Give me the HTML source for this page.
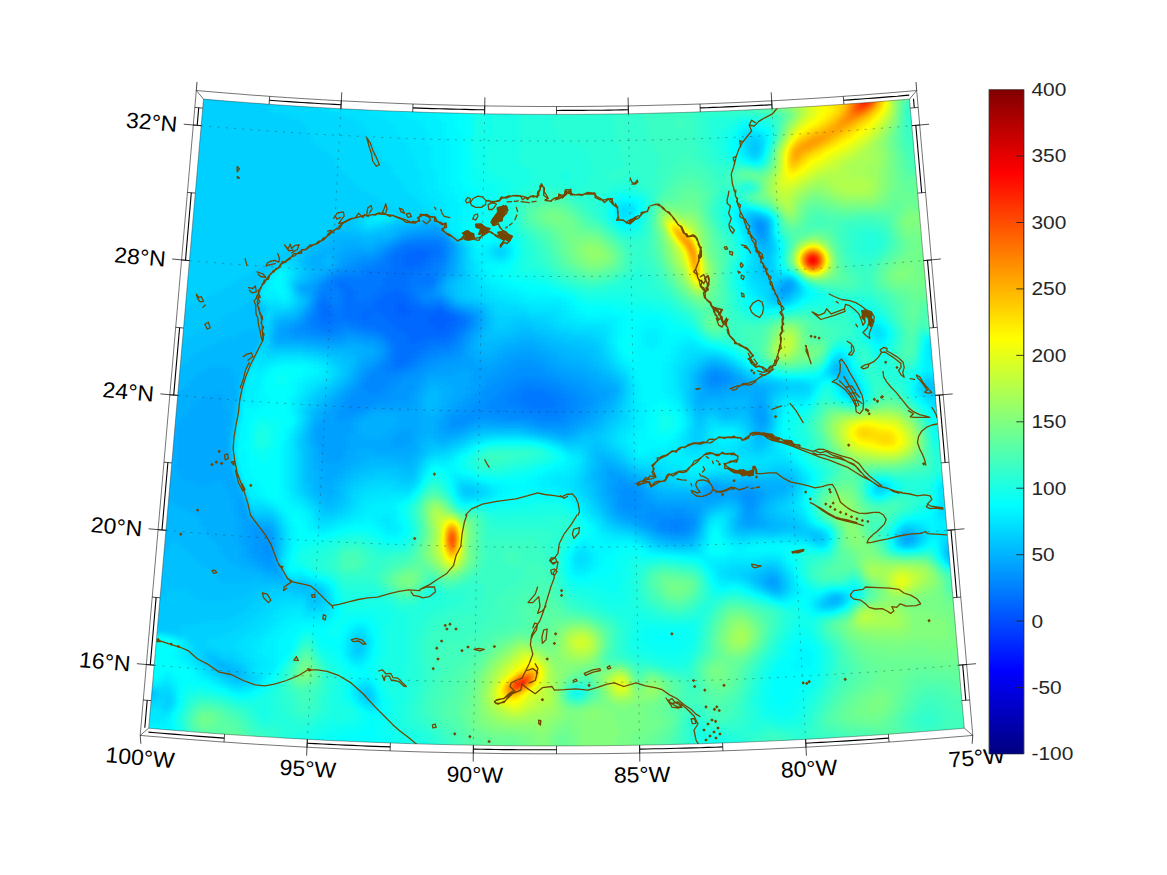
<!DOCTYPE html>
<html><head><meta charset="utf-8"><title>map</title>
<style>html,body{margin:0;padding:0;background:#fff}body{width:1167px;height:875px;overflow:hidden;font-family:"Liberation Sans",sans-serif}svg{display:block}</style>
</head><body>
<svg width="1167" height="875" viewBox="0 0 1167 875">
<defs>
<filter id="jet" filterUnits="userSpaceOnUse" x="100" y="50" width="920" height="750" color-interpolation-filters="sRGB">
<feGaussianBlur stdDeviation="2.4"/>
<feComponentTransfer><feFuncR type="table" tableValues="0 0 0 0 .5 1 1 1 .5"/><feFuncG type="table" tableValues="0 0 .5 1 1 1 .5 0 0"/><feFuncB type="table" tableValues=".5 1 1 1 .5 0 0 0 0"/></feComponentTransfer>
</filter>
<clipPath id="mc"><path d="M203.5 99.1 L215.4 100.1 L227.3 101.1 L239.3 102 L251.2 102.9 L263.2 103.8 L275.1 104.7 L287.1 105.5 L299 106.3 L311 107 L323 107.7 L334.9 108.4 L346.9 109 L358.9 109.6 L370.8 110.2 L382.8 110.7 L394.8 111.2 L406.8 111.6 L418.7 112.1 L430.7 112.5 L442.7 112.8 L454.7 113.1 L466.6 113.4 L478.6 113.7 L490.6 113.9 L502.6 114 L514.6 114.2 L526.5 114.3 L538.5 114.4 L550.5 114.4 L562.5 114.4 L574.5 114.4 L586.5 114.3 L598.4 114.2 L610.4 114 L622.4 113.9 L634.4 113.7 L646.4 113.4 L658.3 113.1 L670.3 112.8 L682.3 112.5 L694.3 112.1 L706.2 111.6 L718.2 111.2 L730.2 110.7 L742.2 110.2 L754.1 109.6 L766.1 109 L778.1 108.4 L790 107.7 L802 107 L814 106.3 L825.9 105.5 L837.9 104.7 L849.8 103.8 L861.8 102.9 L873.7 102 L885.7 101.1 L897.6 100.1 L909.5 99.1 L964.3 728.2 L950.5 729.4 L936.7 730.5 L922.9 731.6 L909.1 732.7 L895.3 733.7 L881.5 734.7 L867.7 735.6 L853.9 736.5 L840.1 737.3 L826.2 738.2 L812.4 738.9 L798.6 739.7 L784.8 740.4 L771 741 L757.1 741.6 L743.3 742.2 L729.5 742.7 L715.6 743.2 L701.8 743.7 L688 744.1 L674.1 744.4 L660.3 744.8 L646.5 745 L632.6 745.3 L618.8 745.5 L604.9 745.7 L591.1 745.8 L577.3 745.9 L563.4 745.9 L549.6 745.9 L535.7 745.9 L521.9 745.8 L508.1 745.7 L494.2 745.5 L480.4 745.3 L466.5 745 L452.7 744.8 L438.9 744.4 L425 744.1 L411.2 743.7 L397.4 743.2 L383.5 742.7 L369.7 742.2 L355.9 741.6 L342 741 L328.2 740.4 L314.4 739.7 L300.6 738.9 L286.8 738.2 L272.9 737.3 L259.1 736.5 L245.3 735.6 L231.5 734.7 L217.7 733.7 L203.9 732.7 L190.1 731.6 L176.3 730.5 L162.5 729.4 L148.7 728.2Z"/></clipPath>
<linearGradient id="jetg" x1="0" y1="0" x2="0" y2="1"><stop offset="0%" stop-color="#800000"/><stop offset="12.5%" stop-color="#ff0000"/><stop offset="25%" stop-color="#ff8000"/><stop offset="37.5%" stop-color="#ffff00"/><stop offset="50%" stop-color="#80ff80"/><stop offset="62.5%" stop-color="#00ffff"/><stop offset="75%" stop-color="#0080ff"/><stop offset="87.5%" stop-color="#0000ff"/><stop offset="100%" stop-color="#000080"/></linearGradient>
</defs>
<rect width="1167" height="875" fill="#fff"/>
<g clip-path="url(#mc)">
<g filter="url(#jet)">
<g fill="none" stroke-width="4.6" shape-rendering="crispEdges"><path stroke="#383838" d="M396 304h8M396 308h12M396 312h16M436 312h8M404 316h4M428 316h20M428 320h24M428 324h20M436 328h8"/>
<path stroke="#3a3a3a" d="M408 252h20M404 256h24M404 260h20M404 264h16M408 268h4M392 292h8M384 296h24M380 300h28M376 304h20M404 304h8M372 308h24M408 308h12M436 308h4M324 312h4M364 312h8M380 312h16M412 312h24M444 312h4M360 316h8M384 316h20M408 316h20M448 316h8M388 320h40M452 320h8M392 324h36M448 324h8M396 328h40M444 328h8M404 332h48M408 336h36M408 340h12"/>
<path stroke="#3c3c3c" d="M404 248h32M396 252h12M428 252h12M392 256h12M428 256h8M392 260h12M424 260h8M392 264h12M420 264h8M392 268h16M412 268h12M388 272h28M388 276h24M384 280h24M340 284h8M384 284h24M340 288h12M380 288h28M344 292h12M376 292h16M400 292h8M344 296h12M372 296h12M408 296h4M344 300h12M368 300h12M408 300h8M320 304h8M344 304h32M412 304h8M320 308h12M344 308h28M420 308h16M440 308h4M320 312h4M328 312h4M344 312h20M372 312h8M448 312h4M320 316h16M344 316h16M368 316h16M456 316h4M320 320h12M352 320h36M460 320h4M360 324h32M456 324h8M376 328h20M452 328h8M384 332h20M452 332h4M388 336h20M444 336h8M392 340h16M420 340h28M396 344h32M396 348h28M396 352h20M396 356h16M392 360h16M396 364h8"/>
<path stroke="#3e3e3e" d="M404 244h36M396 248h8M436 248h8M392 252h4M440 252h4M388 256h4M436 256h8M384 260h8M432 260h8M384 264h8M428 264h8M376 268h16M424 268h8M368 272h20M416 272h12M364 276h24M412 276h20M336 280h48M408 280h28M332 284h8M348 284h36M408 284h24M336 288h4M352 288h28M408 288h8M340 292h4M356 292h20M408 292h8M320 296h8M340 296h4M356 296h16M412 296h4M320 300h8M340 300h4M356 300h12M416 300h4M316 304h4M328 304h4M340 304h4M420 304h24M316 308h4M332 308h12M444 308h4M316 312h4M332 312h12M452 312h4M316 316h4M336 316h8M460 316h4M316 320h4M332 320h20M464 320h4M316 324h24M348 324h12M464 324h4M324 328h8M360 328h16M460 328h4M376 332h8M456 332h4M384 336h4M452 336h4M388 340h4M448 340h8M388 344h8M428 344h20M392 348h4M424 348h8M392 352h4M416 352h8M392 356h4M412 356h8M408 360h8M392 364h4M404 364h8M392 368h12M524 392h20M520 396h32M520 400h36M524 404h36M532 408h24"/>
<path stroke="#404040" d="M416 240h24M400 244h4M440 244h4M392 248h4M388 252h4M384 256h4M380 260h4M440 260h4M372 264h12M436 264h8M364 268h12M432 268h8M360 272h8M428 272h12M336 276h28M432 276h4M328 280h8M324 284h8M432 284h4M324 288h12M416 288h16M320 292h20M416 292h8M328 296h4M336 296h4M416 296h4M316 300h4M328 300h12M420 300h4M432 300h4M332 304h8M448 308h4M312 312h4M456 312h4M312 316h4M464 316h4M308 320h8M308 324h8M340 324h8M312 328h12M332 328h12M348 328h12M464 328h4M320 332h16M364 332h12M460 332h4M380 336h4M456 336h4M384 340h4M456 340h4M448 344h8M388 348h4M432 348h20M388 352h4M424 352h12M388 356h4M420 356h8M388 360h4M416 360h4M384 364h8M412 364h4M384 368h8M404 368h8M384 372h16M524 384h12M516 388h36M512 392h12M544 392h16M508 396h12M552 396h12M508 400h12M556 400h12M508 404h16M560 404h8M516 408h16M556 408h12M524 412h40M536 416h24M672 524h12M672 528h8"/>
<path stroke="#424242" d="M760 228h4M404 240h12M440 240h4M396 244h4M444 244h4M388 248h4M444 248h4M384 252h4M444 252h4M380 256h4M444 256h4M372 260h8M444 260h4M360 264h12M356 268h8M440 268h4M340 272h20M440 272h4M332 276h4M436 276h4M436 280h4M320 284h4M320 288h4M432 288h4M316 292h4M424 292h8M316 296h4M332 296h4M420 296h12M424 300h8M436 300h8M444 304h4M312 308h4M460 312h4M308 316h4M468 316h4M468 320h4M304 324h4M468 324h4M304 328h8M344 328h4M468 328h4M308 332h12M336 332h8M352 332h12M464 332h4M328 336h4M368 336h12M460 336h4M380 340h4M384 344h4M456 344h4M452 348h4M436 352h16M384 356h4M428 356h12M384 360h4M420 360h8M380 364h4M416 364h8M376 368h8M412 368h4M372 372h12M400 372h8M368 376h32M712 376h8M368 380h24M516 380h28M712 380h8M364 384h24M508 384h16M536 384h20M364 388h20M504 388h12M552 388h12M368 392h12M500 392h12M560 392h8M496 396h12M564 396h12M492 400h16M568 400h8M488 404h20M568 404h8M488 408h28M568 408h8M492 412h32M564 412h8M508 416h28M560 416h8M532 420h32M676 516h4M660 520h28M656 524h16M684 524h8M660 528h12M680 528h8M672 532h12"/>
<path stroke="#444444" d="M756 224h8M756 228h4M760 232h4M412 236h36M400 240h4M444 240h4M392 244h4M384 248h4M448 248h4M380 252h4M448 252h4M376 256h4M360 260h12M352 264h8M444 264h4M344 268h12M444 268h4M336 272h4M328 276h4M440 276h4M324 280h4M436 284h4M316 288h4M432 292h4M432 296h8M312 304h4M452 308h4M308 312h4M464 312h4M304 316h4M472 316h4M304 320h4M472 320h4M300 324h4M472 324h4M296 328h8M296 332h12M344 332h8M308 336h20M332 336h16M356 336h12M464 336h4M376 340h4M460 340h4M380 344h4M460 344h4M384 348h4M456 348h8M384 352h4M452 352h8M440 356h12M380 360h4M428 360h12M376 364h4M424 364h8M372 368h4M416 368h8M516 368h20M368 372h4M408 372h12M512 372h32M712 372h8M364 376h4M400 376h12M504 376h48M708 376h4M720 376h8M360 380h8M392 380h12M500 380h16M544 380h16M708 380h4M720 380h8M360 384h4M388 384h12M492 384h16M556 384h12M708 384h16M356 388h8M384 388h12M488 388h16M564 388h12M356 392h12M380 392h12M484 392h16M568 392h12M352 396h36M484 396h12M576 396h8M348 400h32M480 400h12M576 400h12M348 404h24M476 404h12M576 404h12M348 408h16M472 408h16M576 408h8M348 412h8M468 412h24M572 412h12M460 416h48M568 416h12M452 420h20M500 420h32M564 420h8M452 424h12M536 424h32M624 488h8M620 492h16M620 496h20M744 496h8M620 500h20M744 500h8M620 504h20M748 504h4M624 508h16M648 512h16M672 512h12M644 516h32M680 516h12M648 520h12M688 520h8M652 524h4M692 524h4M656 528h4M688 528h4M660 532h12M684 532h4M264 536h4M268 544h4M264 548h8M264 552h8M268 556h4"/>
<path stroke="#464646" d="M424 232h16M756 232h4M404 236h8M760 236h4M396 240h4M448 240h4M388 244h4M448 244h4M380 248h4M376 252h4M356 256h20M448 256h4M348 260h12M448 260h4M344 264h8M448 264h4M340 268h4M332 272h4M444 272h4M320 280h4M440 280h4M316 284h4M436 288h4M784 288h4M312 292h4M436 292h4M312 296h4M440 296h4M312 300h4M444 300h4M448 304h4M308 308h4M456 308h4M468 312h4M300 320h4M296 324h4M288 328h8M472 328h4M288 332h8M468 332h4M292 336h16M348 336h8M468 336h4M316 340h28M360 340h16M464 340h4M376 344h4M464 344h4M380 348h4M380 352h4M460 352h4M380 356h4M452 356h12M376 360h4M440 360h20M512 360h24M372 364h4M432 364h16M508 364h36M364 368h8M424 368h12M500 368h16M536 368h12M364 372h4M420 372h8M496 372h16M544 372h12M708 372h4M720 372h8M360 376h4M412 376h12M488 376h16M552 376h12M704 376h4M728 376h4M404 380h16M484 380h16M560 380h12M704 380h4M728 380h4M356 384h4M400 384h16M484 384h8M568 384h16M704 384h4M724 384h8M352 388h4M396 388h20M480 388h8M576 388h12M708 388h16M348 392h8M392 392h20M476 392h8M580 392h12M344 396h8M388 396h24M472 396h12M584 396h12M344 400h4M380 400h28M468 400h12M588 400h8M340 404h8M372 404h20M464 404h12M588 404h8M340 408h8M364 408h8M460 408h12M584 408h8M336 412h12M356 412h8M452 412h16M584 412h4M336 416h20M448 416h12M580 416h8M336 420h12M448 420h4M472 420h28M572 420h8M448 424h4M464 424h8M528 424h8M568 424h8M448 428h16M540 428h28M616 480h8M616 484h20M612 488h12M632 488h8M612 492h8M636 492h8M708 492h12M740 492h16M616 496h4M640 496h4M740 496h4M752 496h8M616 500h4M640 500h8M740 500h4M752 500h4M616 504h4M640 504h16M744 504h4M752 504h4M616 508h8M640 508h48M744 508h12M620 512h28M664 512h8M684 512h12M744 512h8M628 516h16M692 516h4M748 516h4M636 520h12M252 524h4M644 524h8M252 528h8M652 528h4M692 528h4M252 532h16M656 532h4M688 532h4M252 536h12M268 536h4M668 536h20M252 540h20M252 544h16M252 548h12M252 552h12M256 556h12M272 556h4M260 560h16M264 564h12M276 568h4"/>
<path stroke="#484848" d="M756 220h8M752 224h4M764 224h4M432 228h8M764 228h4M408 232h16M440 232h4M764 232h4M400 236h4M756 236h4M764 236h4M392 240h4M760 240h4M384 244h4M452 244h4M376 248h4M452 248h4M352 252h24M452 252h4M344 256h12M452 256h4M340 260h8M340 264h4M336 268h4M448 268h4M328 272h4M448 272h4M324 276h4M444 276h4M316 280h4M312 284h4M440 284h4M784 284h8M300 288h16M780 288h4M788 288h4M308 292h4M440 292h4M780 292h8M308 304h4M452 304h4M460 308h8M304 312h4M472 312h4M300 316h4M476 316h4M296 320h4M476 320h4M288 324h8M476 324h4M280 328h8M476 328h4M280 332h8M472 332h4M280 336h12M292 340h24M344 340h16M468 340h4M324 344h20M364 344h12M468 344h4M376 348h4M464 348h4M376 352h4M464 352h4M516 352h20M376 356h4M464 356h4M504 356h40M368 360h8M460 360h12M500 360h12M536 360h12M364 364h8M448 364h28M496 364h12M544 364h12M360 368h4M436 368h64M548 368h12M708 368h16M360 372h4M428 372h28M472 372h24M556 372h16M704 372h4M728 372h4M356 376h4M424 376h4M472 376h16M564 376h20M700 376h4M732 376h4M356 380h4M420 380h4M472 380h12M572 380h16M700 380h4M732 380h8M352 384h4M416 384h8M472 384h12M584 384h12M700 384h4M732 384h8M348 388h4M416 388h4M468 388h12M588 388h12M704 388h4M724 388h8M344 392h4M412 392h8M468 392h8M592 392h16M708 392h16M340 396h4M412 396h4M464 396h8M596 396h12M336 400h8M408 400h8M460 400h8M596 400h8M336 404h4M392 404h24M456 404h8M596 404h4M760 404h4M332 408h8M372 408h40M452 408h8M592 408h8M756 408h8M328 412h8M364 412h8M448 412h4M588 412h8M756 412h8M324 416h12M356 416h8M444 416h4M588 416h4M756 416h12M324 420h12M348 420h8M444 420h4M580 420h8M756 420h12M320 424h32M440 424h8M472 424h8M492 424h36M576 424h8M760 424h4M316 428h36M440 428h8M464 428h4M532 428h8M568 428h8M316 432h36M400 432h12M444 432h16M552 432h20M316 436h32M396 436h16M316 440h32M392 440h20M316 444h32M392 444h16M320 448h28M320 452h24M324 456h20M324 460h16M608 472h8M608 476h16M608 480h8M624 480h8M608 484h8M636 484h4M608 488h4M640 488h4M708 488h16M740 488h16M608 492h4M644 492h4M704 492h4M720 492h20M756 492h8M240 496h4M608 496h8M644 496h8M704 496h20M732 496h8M760 496h4M240 500h4M612 500h4M648 500h8M704 500h8M756 500h4M240 504h8M612 504h4M656 504h44M740 504h4M756 504h4M240 508h8M612 508h4M688 508h12M240 512h8M616 512h4M696 512h4M752 512h4M240 516h8M620 516h8M696 516h4M744 516h4M752 516h4M244 520h8M628 520h8M696 520h4M744 520h12M244 524h8M636 524h8M696 524h4M744 524h12M244 528h8M260 528h8M644 528h8M244 532h8M268 532h4M652 532h4M692 532h4M244 536h8M660 536h8M688 536h4M244 540h8M904 540h4M244 544h8M248 548h4M248 552h4M272 552h4M248 556h8M252 560h8M256 564h8M264 568h12M276 572h4M768 580h8M768 584h8"/>
<path stroke="#4a4a4a" d="M752 220h4M416 228h16M440 228h4M752 228h4M400 232h8M396 236h4M388 240h4M764 240h4M376 244h8M344 248h20M372 248h4M340 252h12M336 256h8M336 260h4M452 260h4M336 264h4M452 264h4M332 268h4M452 268h4M324 272h4M452 272h4M320 276h4M448 276h4M444 280h4M308 284h4M440 288h4M300 292h8M788 292h4M308 296h4M444 296h4M780 296h4M308 300h4M448 300h4M304 308h4M468 308h4M476 312h4M480 316h4M292 320h4M480 320h4M280 324h8M480 324h4M276 328h4M276 332h4M476 332h4M276 336h4M472 336h4M276 340h16M472 340h4M308 344h16M344 344h20M520 344h12M364 348h12M468 348h4M508 348h32M372 352h4M468 352h8M500 352h16M536 352h12M364 356h12M468 356h8M496 356h8M544 356h12M360 360h8M472 360h12M488 360h12M548 360h12M360 364h4M476 364h20M556 364h12M712 364h4M356 368h4M560 368h20M704 368h4M724 368h4M356 372h4M456 372h16M572 372h16M700 372h4M352 376h4M428 376h44M584 376h12M736 376h4M352 380h4M424 380h48M588 380h12M740 380h4M348 384h4M424 384h4M448 384h24M596 384h12M740 384h8M344 388h4M420 388h4M452 388h16M600 388h16M700 388h4M732 388h24M216 392h4M340 392h4M420 392h4M452 392h16M608 392h8M700 392h8M724 392h12M752 392h12M204 396h20M336 396h4M416 396h4M452 396h12M608 396h4M700 396h24M752 396h12M200 400h24M332 400h4M416 400h4M448 400h12M604 400h8M752 400h12M192 404h32M328 404h8M416 404h4M448 404h8M600 404h8M752 404h8M192 408h32M328 408h4M412 408h8M444 408h8M600 408h4M752 408h4M764 408h4M188 412h40M324 412h4M372 412h48M440 412h8M596 412h4M752 412h4M764 412h4M184 416h44M320 416h4M364 416h8M396 416h24M440 416h4M592 416h8M752 416h4M180 420h48M316 420h8M356 420h8M400 420h20M436 420h8M588 420h8M180 424h48M316 424h4M352 424h8M396 424h24M436 424h4M480 424h12M584 424h8M756 424h4M764 424h4M176 428h52M312 428h4M352 428h8M392 428h28M436 428h4M468 428h8M524 428h8M576 428h8M756 428h8M176 432h52M312 432h4M352 432h8M388 432h12M412 432h8M436 432h8M460 432h8M540 432h12M572 432h4M176 436h52M312 436h4M348 436h16M384 436h12M412 436h4M440 436h16M560 436h8M176 440h52M312 440h4M348 440h44M412 440h4M176 444h52M312 444h4M348 444h44M408 444h8M176 448h52M316 448h4M348 448h68M176 452h52M316 452h4M344 452h12M376 452h36M176 456h52M316 456h8M344 456h12M404 456h4M176 460h52M316 460h8M340 460h12M176 464h52M320 464h28M176 468h56M320 468h24M604 468h12M180 472h52M324 472h16M604 472h4M616 472h8M180 476h56M324 476h12M604 476h4M624 476h8M184 480h52M324 480h8M604 480h4M632 480h8M196 484h16M224 484h16M604 484h4M640 484h4M708 484h12M744 484h12M224 488h16M604 488h4M644 488h4M704 488h4M724 488h16M756 488h8M228 492h16M604 492h4M648 492h4M700 492h4M764 492h8M228 496h12M604 496h4M652 496h8M696 496h8M724 496h8M764 496h4M232 500h8M608 500h4M656 500h48M712 500h12M732 500h8M760 500h4M232 504h8M608 504h4M700 504h12M760 504h4M232 508h8M700 508h4M740 508h4M756 508h4M232 512h8M612 512h4M700 512h4M740 512h4M756 512h4M236 516h4M248 516h4M616 516h4M740 516h4M756 516h4M236 520h8M620 520h8M740 520h4M756 520h8M236 524h8M256 524h4M264 524h4M632 524h4M740 524h4M756 524h8M236 528h8M268 528h4M640 528h4M696 528h4M748 528h4M236 532h8M272 532h4M648 532h4M236 536h8M272 536h4M656 536h4M692 536h4M904 536h8M236 540h8M272 540h4M668 540h20M908 540h4M236 544h8M272 544h4M240 548h8M272 548h4M240 552h8M240 556h8M244 560h8M248 564h8M276 564h4M256 568h8M264 572h12M280 572h4M276 576h8M768 576h8M764 580h4M776 580h4M764 584h4M776 584h4M772 588h8"/>
<path stroke="#4c4c4c" d="M764 220h4M424 224h16M404 228h12M396 232h4M752 232h4M392 236h4M340 240h20M376 240h12M756 240h4M332 244h44M456 244h4M760 244h8M328 248h16M364 248h8M456 248h4M320 252h20M456 252h4M312 256h16M332 256h4M456 256h4M308 260h16M332 260h4M456 260h4M308 264h16M332 264h4M456 264h4M312 268h20M316 272h8M312 276h8M452 276h4M308 280h8M448 280h4M788 280h4M300 284h8M444 284h4M780 284h4M792 284h4M296 288h4M444 288h4M792 288h4M444 292h4M776 292h4M304 296h4M448 296h4M776 296h4M784 296h4M452 300h4M456 304h8M472 308h8M300 312h4M480 312h4M296 316h4M280 320h12M276 324h4M480 328h4M272 332h4M480 332h4M272 336h4M476 336h4M272 340h4M476 340h4M516 340h20M276 344h32M472 344h4M504 344h16M532 344h12M320 348h44M472 348h8M496 348h12M540 348h12M352 352h20M476 352h8M488 352h12M548 352h12M356 356h8M476 356h20M556 356h12M356 360h4M484 360h4M560 360h20M356 364h4M568 364h20M708 364h4M716 364h8M208 368h24M352 368h4M580 368h12M728 368h4M200 372h32M352 372h4M588 372h12M732 372h4M196 376h40M596 376h8M696 376h4M740 376h4M192 380h44M348 380h4M600 380h12M696 380h4M744 380h4M188 384h48M344 384h4M428 384h20M608 384h8M696 384h4M748 384h8M120 388h20M184 388h52M340 388h4M424 388h8M436 388h16M616 388h4M696 388h4M756 388h12M120 392h36M180 392h36M220 392h20M336 392h4M424 392h4M440 392h12M616 392h4M696 392h4M736 392h16M764 392h4M120 396h36M176 396h28M224 396h16M332 396h4M420 396h4M440 396h12M612 396h4M696 396h4M724 396h28M764 396h4M120 400h36M172 400h28M224 400h16M328 400h4M420 400h4M440 400h8M612 400h4M696 400h32M748 400h4M764 400h4M120 404h36M168 404h24M224 404h12M324 404h4M420 404h4M440 404h8M608 404h4M696 404h12M720 404h4M748 404h4M764 404h4M120 408h36M164 408h28M224 408h12M320 408h8M420 408h4M436 408h8M604 408h8M724 408h4M748 408h4M120 412h36M164 412h24M228 412h8M316 412h8M420 412h8M436 412h4M600 412h8M748 412h4M120 416h64M228 416h8M316 416h4M372 416h24M420 416h20M600 416h4M120 420h60M228 420h8M312 420h4M364 420h36M420 420h16M596 420h4M752 420h4M120 424h60M228 424h8M312 424h4M360 424h36M420 424h16M592 424h4M752 424h4M120 428h56M228 428h4M360 428h32M420 428h16M476 428h48M584 428h8M764 428h4M120 432h56M228 432h4M308 432h4M360 432h28M420 432h16M468 432h4M532 432h8M576 432h4M756 432h8M120 436h56M228 436h4M308 436h4M364 436h20M416 436h12M432 436h8M456 436h8M552 436h8M568 436h8M120 440h56M228 440h4M308 440h4M416 440h8M436 440h16M120 444h56M228 444h4M308 444h4M416 444h4M120 448h56M228 448h4M312 448h4M416 448h4M120 452h56M228 452h4M312 452h4M356 452h20M412 452h8M120 456h56M228 456h4M312 456h4M356 456h48M408 456h8M120 460h56M228 460h4M312 460h4M352 460h16M392 460h20M604 460h4M120 464h56M228 464h4M312 464h8M348 464h12M600 464h16M144 468h8M156 468h20M232 468h4M312 468h8M344 468h8M600 468h4M616 468h8M156 472h24M232 472h4M316 472h8M340 472h8M596 472h8M624 472h4M160 476h20M316 476h8M336 476h8M596 476h8M632 476h4M160 480h24M236 480h4M316 480h8M332 480h8M596 480h8M640 480h4M160 484h36M212 484h12M316 484h20M600 484h4M644 484h4M720 484h24M756 484h32M160 488h64M316 488h20M600 488h4M648 488h4M700 488h4M764 488h24M160 492h68M320 492h16M600 492h4M652 492h8M696 492h4M772 492h12M164 496h64M324 496h8M600 496h4M660 496h36M768 496h8M164 500h68M604 500h4M724 500h8M764 500h4M172 504h60M604 504h4M712 504h8M736 504h4M764 504h4M180 508h52M608 508h4M704 508h4M760 508h4M188 512h44M608 512h4M760 512h4M196 516h40M612 516h4M700 516h4M760 516h4M200 520h36M252 520h4M616 520h4M700 520h4M736 520h4M764 520h4M200 524h36M260 524h4M268 524h4M624 524h8M736 524h4M764 524h8M204 528h32M272 528h4M636 528h4M740 528h8M752 528h16M204 532h32M644 532h4M696 532h4M208 536h28M652 536h4M912 536h4M1000 536h4M212 540h24M660 540h8M688 540h4M900 540h4M912 540h4M988 540h16M216 544h20M904 544h4M976 544h28M220 548h20M968 548h36M220 552h20M956 552h48M224 556h16M952 556h52M228 560h16M956 560h48M232 564h16M984 564h20M240 568h16M252 572h12M264 576h12M764 576h4M776 576h4M280 580h8M760 580h4M768 588h4M832 600h8M220 664h4M224 668h4"/>
<path stroke="#4e4e4e" d="M752 216h8M432 220h4M748 220h4M408 224h4M416 224h8M748 224h4M396 228h8M332 232h4M388 232h8M328 236h36M368 236h24M448 236h4M752 236h4M324 240h16M360 240h16M452 240h4M320 244h12M756 244h4M312 248h16M760 248h8M308 252h12M308 256h4M328 256h4M304 260h4M324 260h8M304 264h4M324 264h8M308 268h4M456 268h4M308 272h8M456 272h4M308 276h4M456 276h4M304 280h4M452 280h4M784 280h4M296 284h4M448 284h4M448 288h4M776 288h4M296 292h4M448 292h4M792 292h4M300 296h4M788 296h4M304 300h4M456 300h4M780 300h4M304 304h4M464 304h8M300 308h4M480 308h4M296 312h4M288 316h8M484 316h4M276 320h4M484 320h4M272 324h4M484 324h4M272 328h4M484 328h4M244 332h16M520 332h12M236 336h24M480 336h4M512 336h28M224 340h36M480 340h4M500 340h16M536 340h12M216 344h44M272 344h4M476 344h28M544 344h16M208 348h48M304 348h16M480 348h16M552 348h16M200 352h56M328 352h24M484 352h4M560 352h20M192 356h60M344 356h12M568 356h20M188 360h64M352 360h4M580 360h12M184 364h64M352 364h4M588 364h8M704 364h4M724 364h4M180 368h28M232 368h16M592 368h8M700 368h4M836 368h4M160 372h8M176 372h24M232 372h12M348 372h4M600 372h4M696 372h4M736 372h4M836 372h8M160 376h36M236 376h8M348 376h4M604 376h8M692 376h4M160 380h32M236 380h8M344 380h4M612 380h4M692 380h4M748 380h4M120 384h24M156 384h32M236 384h4M340 384h4M616 384h4M692 384h4M756 384h12M140 388h44M236 388h4M336 388h4M432 388h4M692 388h4M768 388h8M156 392h24M332 392h4M428 392h12M692 392h4M768 392h4M156 396h20M328 396h4M424 396h16M616 396h4M692 396h4M156 400h16M324 400h4M424 400h16M616 400h4M692 400h4M728 400h20M156 404h12M320 404h4M424 404h16M612 404h4M692 404h4M708 404h12M724 404h24M156 408h8M316 408h4M424 408h12M612 408h4M696 408h12M712 408h12M728 408h20M768 408h4M156 412h8M312 412h4M428 412h8M608 412h4M700 412h4M720 412h20M744 412h4M768 412h4M312 416h4M604 416h4M724 416h8M748 416h4M768 416h4M600 420h4M748 420h4M768 420h4M308 424h4M596 424h8M768 424h4M232 428h4M308 428h4M592 428h8M752 428h4M472 432h8M524 432h8M580 432h12M752 432h4M764 432h4M428 436h4M464 436h4M544 436h8M576 436h4M756 436h8M304 440h4M424 440h12M452 440h8M564 440h8M420 444h8M436 444h12M308 448h4M420 448h4M308 452h4M420 452h4M308 456h4M416 456h4M596 456h12M308 460h4M368 460h24M412 460h4M596 460h8M608 460h8M232 464h4M308 464h4M360 464h56M596 464h4M616 464h8M120 468h24M152 468h4M308 468h4M352 468h12M400 468h12M596 468h4M624 468h4M120 472h36M308 472h8M348 472h8M592 472h4M628 472h4M120 476h40M308 476h8M344 476h8M592 476h4M636 476h8M120 480h40M308 480h8M340 480h8M592 480h4M644 480h4M712 480h8M740 480h52M120 484h40M312 484h4M336 484h8M596 484h4M648 484h4M704 484h4M788 484h4M120 488h40M312 488h4M336 488h4M596 488h4M652 488h8M788 488h4M120 492h40M312 492h8M336 492h4M596 492h4M660 492h36M784 492h4M120 496h44M316 496h8M332 496h8M596 496h4M776 496h8M120 500h44M244 500h4M320 500h16M600 500h4M768 500h8M120 504h52M324 504h8M600 504h4M720 504h16M768 504h4M120 508h60M604 508h4M708 508h8M736 508h4M764 508h4M120 512h68M604 512h4M704 512h4M736 512h4M764 512h4M120 516h76M608 516h4M736 516h4M764 516h8M120 520h80M256 520h16M612 520h4M768 520h8M120 524h80M272 524h4M620 524h4M700 524h4M772 524h12M120 528h84M632 528h4M736 528h4M768 528h16M120 532h84M276 532h4M640 532h4M744 532h4M904 532h8M120 536h24M152 536h56M276 536h4M648 536h4M696 536h4M900 536h4M992 536h8M152 540h60M276 540h4M656 540h4M692 540h4M980 540h8M152 544h20M180 544h36M276 544h4M668 544h24M908 544h4M972 544h4M152 548h16M184 548h36M276 548h4M960 548h8M156 552h8M188 552h32M948 552h8M192 556h32M948 556h4M196 560h32M952 560h4M200 564h32M976 564h8M208 568h32M212 572h40M764 572h12M216 576h48M760 576h4M220 580h32M260 580h20M756 580h4M780 580h4M284 584h16M760 584h4M780 584h4M300 588h8M764 588h4M780 588h4M772 592h8M828 600h4M828 604h8M212 660h4M216 664h4M216 668h8M228 668h4M224 672h16M232 676h8"/>
<path stroke="#505050" d="M748 216h4M760 216h4M420 220h12M344 224h4M396 224h12M412 224h4M768 224h4M336 228h16M388 228h8M748 228h4M768 228h4M336 232h24M376 232h12M768 232h4M364 236h4M768 236h4M752 240h4M768 240h4M316 244h4M768 244h4M308 248h4M460 248h4M756 248h4M768 248h4M300 252h8M460 252h4M760 252h12M300 256h8M460 256h4M764 256h4M300 260h4M460 260h4M300 264h4M460 264h4M304 268h4M460 268h4M304 272h4M460 272h4M304 276h4M460 276h4M300 280h4M456 280h4M780 280h4M792 280h4M452 284h4M776 284h4M452 288h4M796 288h4M452 292h4M772 292h4M452 296h4M772 296h4M252 300h4M300 300h4M460 300h4M776 300h4M784 300h4M244 304h12M300 304h4M472 304h8M240 308h24M296 308h4M484 308h4M232 312h32M292 312h4M484 312h4M224 316h36M276 316h12M488 316h4M132 320h24M220 320h40M272 320h4M488 320h4M120 324h36M212 324h48M488 324h4M120 328h40M204 328h60M488 328h4M516 328h16M120 332h40M196 332h48M260 332h4M484 332h8M508 332h12M532 332h12M120 336h44M192 336h44M268 336h4M484 336h28M540 336h12M120 340h48M184 340h40M268 340h4M484 340h16M548 340h16M120 344h52M180 344h36M560 344h20M120 348h88M256 348h4M272 348h32M568 348h24M120 352h80M316 352h12M580 352h16M120 356h72M332 356h12M588 356h8M120 360h68M340 360h12M592 360h8M708 360h12M120 364h64M344 364h8M596 364h8M700 364h4M836 364h4M120 368h60M344 368h8M600 368h8M696 368h4M732 368h4M832 368h4M840 368h4M120 372h40M168 372h8M244 372h4M344 372h4M604 372h8M692 372h4M740 372h4M832 372h4M120 376h40M344 376h4M612 376h4M744 376h4M836 376h12M120 380h40M340 380h4M616 380h4M752 380h4M840 380h8M144 384h12M240 384h4M336 384h4M620 384h4M768 384h8M844 384h4M332 388h4M620 388h4M776 388h4M848 388h4M924 388h8M328 392h4M620 392h4M688 392h4M772 392h4M324 396h4M620 396h4M768 396h4M316 400h8M768 400h4M236 404h4M316 404h4M616 404h4M768 404h4M312 408h4M692 408h4M708 408h4M308 412h4M612 412h4M696 412h4M704 412h16M740 412h4M308 416h4M608 416h8M696 416h8M720 416h4M732 416h16M308 420h4M604 420h8M744 420h4M604 424h4M748 424h4M600 428h4M748 428h4M768 428h4M304 432h4M480 432h44M592 432h8M304 436h4M468 436h4M540 436h4M580 436h16M752 436h4M764 436h4M460 440h4M556 440h8M572 440h8M756 440h8M304 444h4M428 444h8M448 444h4M596 444h4M756 444h8M304 448h4M424 448h8M440 448h4M592 448h12M304 452h4M424 452h4M592 452h16M304 456h4M420 456h4M592 456h4M608 456h8M304 460h4M416 460h4M592 460h4M616 460h4M304 464h4M416 464h4M592 464h4M304 468h4M364 468h36M412 468h4M592 468h4M628 468h4M304 472h4M356 472h16M396 472h20M588 472h4M632 472h8M304 476h4M352 476h8M404 476h8M588 476h4M644 476h4M768 476h24M304 480h4M348 480h8M588 480h4M648 480h8M708 480h4M720 480h20M792 480h4M304 484h8M344 484h4M592 484h4M652 484h8M700 484h4M792 484h4M240 488h4M308 488h4M340 488h8M592 488h4M660 488h12M692 488h8M792 488h4M308 492h4M340 492h4M592 492h4M788 492h4M312 496h4M340 496h4M592 496h4M784 496h4M316 500h4M336 500h8M596 500h4M776 500h8M320 504h4M332 504h8M596 504h4M772 504h4M324 508h12M600 508h4M716 508h4M732 508h4M768 508h4M248 512h4M708 512h4M768 512h8M260 516h8M604 516h4M704 516h4M772 516h8M272 520h4M608 520h4M732 520h4M776 520h12M612 524h8M732 524h4M784 524h12M276 528h4M624 528h8M700 528h4M732 528h4M784 528h16M636 532h4M736 532h8M748 532h32M900 532h4M912 532h4M1000 532h4M144 536h8M644 536h4M812 536h8M916 536h4M988 536h4M120 540h32M652 540h4M696 540h4M916 540h4M976 540h4M120 544h32M172 544h8M660 544h8M692 544h4M900 544h4M912 544h4M968 544h4M120 548h32M168 548h16M948 548h12M120 552h36M164 552h24M276 552h4M120 556h72M276 556h4M120 560h76M276 560h4M948 560h4M120 564h80M956 564h20M120 568h88M768 568h8M984 568h20M120 572h92M760 572h4M776 572h4M120 576h96M752 576h8M780 576h4M120 580h100M252 580h8M752 580h4M120 584h164M300 584h8M756 584h4M120 588h140M288 588h12M120 592h48M188 592h64M304 592h16M768 592h4M780 592h4M156 596h8M192 596h52M308 596h12M832 596h8M200 600h32M840 600h4M824 604h4M836 604h4M208 656h4M208 660h4M216 660h4M212 664h4M224 664h8M232 668h8M220 672h4M240 672h4M224 676h8M240 676h8M236 680h4M144 692h8M148 696h4"/>
<path stroke="#525252" d="M752 144h8M748 148h12M752 152h8M424 216h4M348 220h8M768 220h4M340 224h4M348 224h8M392 224h4M352 228h8M380 228h8M328 232h4M360 232h16M748 232h4M324 236h4M320 240h4M312 244h4M460 244h4M752 244h4M296 248h12M284 252h16M756 252h4M276 256h16M296 256h4M760 256h4M768 256h4M272 260h12M296 260h4M760 260h12M264 264h16M760 264h12M256 268h20M300 268h4M760 268h12M252 272h20M300 272h4M464 272h4M760 272h12M244 276h24M300 276h4M464 276h4M764 276h4M236 280h28M296 280h4M460 280h4M776 280h4M232 284h28M292 284h4M456 284h8M772 284h4M796 284h4M224 288h36M292 288h4M456 288h8M772 288h4M216 292h44M456 292h8M796 292h4M156 296h8M208 296h48M296 296h4M456 296h8M792 296h4M156 300h12M200 300h52M464 300h12M772 300h4M788 300h4M156 304h20M192 304h52M256 304h4M296 304h4M480 304h4M156 308h84M292 308h4M132 312h100M284 312h8M488 312h4M120 316h104M260 316h4M272 316h4M120 320h12M156 320h64M260 320h4M492 320h4M516 320h12M156 324h56M260 324h4M492 324h4M508 324h28M160 328h44M268 328h4M492 328h24M532 328h16M160 332h36M268 332h4M492 332h16M544 332h12M164 336h28M260 336h4M552 336h16M168 340h16M260 340h4M564 340h24M172 344h8M268 344h4M580 344h16M268 348h4M592 348h8M304 352h12M596 352h4M252 356h4M324 356h8M596 356h8M332 360h8M600 360h4M700 360h8M720 360h4M248 364h4M336 364h8M604 364h4M696 364h4M728 364h4M832 364h4M840 364h4M340 368h4M608 368h4M692 368h4M736 368h4M340 372h4M612 372h4M688 372h4M844 372h4M992 372h12M340 376h4M616 376h4M688 376h4M748 376h4M976 376h28M336 380h4M620 380h4M688 380h4M756 380h12M848 380h4M956 380h48M332 384h4M688 384h4M776 384h8M848 384h4M924 384h80M328 388h4M688 388h4M780 388h8M844 388h4M852 388h4M932 388h72M320 392h8M776 392h4M848 392h8M924 392h80M316 396h8M688 396h4M772 396h4M936 396h68M312 400h4M620 400h4M688 400h4M940 400h64M312 404h4M620 404h4M688 404h4M944 404h60M236 408h4M308 408h4M616 408h4M948 408h56M236 412h4M616 412h4M692 412h4M772 412h4M960 412h44M616 416h4M692 416h4M704 416h4M712 416h8M772 416h4M984 416h20M612 420h4M696 420h8M720 420h24M304 424h4M608 424h4M696 424h8M744 424h4M304 428h4M604 428h4M696 428h4M232 432h4M600 432h8M748 432h4M768 432h4M232 436h4M300 436h4M472 436h8M532 436h8M596 436h8M300 440h4M464 440h4M552 440h4M580 440h24M752 440h4M764 440h4M300 444h4M452 444h8M564 444h32M600 444h8M752 444h4M764 444h4M300 448h4M432 448h8M444 448h8M588 448h4M604 448h4M752 448h12M300 452h4M428 452h4M588 452h4M608 452h8M300 456h4M424 456h4M588 456h4M616 456h4M232 460h4M300 460h4M420 460h4M588 460h4M620 460h4M300 464h4M588 464h4M624 464h4M300 468h4M416 468h4M588 468h4M632 468h4M300 472h4M372 472h24M640 472h8M772 472h20M300 476h4M360 476h16M388 476h16M412 476h4M584 476h4M648 476h8M736 476h32M792 476h4M300 480h4M356 480h8M400 480h12M584 480h4M656 480h4M704 480h4M300 484h4M348 484h8M584 484h8M660 484h12M696 484h4M796 484h4M304 488h4M348 488h4M464 488h8M588 488h4M672 488h20M304 492h4M344 492h4M464 492h12M588 492h4M792 492h4M308 496h4M344 496h4M788 496h4M312 500h4M344 500h4M592 500h4M784 500h4M316 504h4M340 504h4M776 504h8M320 508h4M336 508h8M596 508h4M720 508h12M772 508h8M320 512h16M600 512h4M712 512h4M732 512h4M776 512h4M252 516h8M268 516h4M732 516h4M780 516h8M604 520h4M704 520h4M788 520h8M276 524h4M608 524h4M796 524h4M616 528h8M800 528h4M904 528h4M632 532h4M700 532h4M732 532h4M780 532h36M992 532h8M640 536h4M700 536h4M740 536h4M808 536h4M820 536h4M980 536h8M280 540h4M648 540h4M812 540h12M896 540h4M972 540h4M656 544h4M960 544h8M676 548h12M944 548h4M944 552h4M944 556h4M952 564h4M760 568h8M776 568h4M980 568h4M752 572h8M780 572h4M284 576h4M748 576h4M748 580h4M784 580h4M752 584h4M784 584h4M260 588h28M308 588h8M760 588h4M784 588h4M168 592h20M252 592h20M292 592h12M320 592h4M120 596h36M164 596h28M244 596h20M304 596h4M320 596h4M828 596h4M840 596h4M120 600h80M232 600h24M308 600h16M824 600h4M120 604h132M308 604h12M820 604h4M120 608h128M120 612h124M120 616h116M120 620h108M120 624h80M120 628h60M156 632h24M176 636h4M356 644h4M356 648h4M204 652h4M356 652h4M204 656h4M212 656h8M204 660h4M220 660h12M208 664h4M232 664h8M212 668h4M240 668h4M216 672h4M220 676h4M248 676h4M228 680h8M240 680h8M140 692h4M152 692h4M364 692h4M144 696h4M152 696h4M364 696h8"/>
<path stroke="#545454" d="M120 72h200M120 76h200M120 80h200M120 84h200M120 88h196M120 92h196M120 96h196M120 100h196M120 104h156M120 108h148M120 112h152M120 116h168M120 120h180M120 124h184M120 128h188M120 132h188M120 136h192M120 140h192M748 140h12M120 144h196M748 144h4M120 148h200M120 152h208M748 152h4M120 156h212M752 156h8M120 160h216M120 164h216M120 168h220M120 172h224M120 176h228M120 180h232M120 184h236M120 188h240M120 192h248M120 196h256M120 200h260M120 204h264M120 208h276M120 212h284M748 212h4M120 216h244M396 216h12M420 216h4M744 216h4M764 216h4M120 220h228M356 220h4M396 220h16M416 220h4M744 220h4M120 224h220M356 224h4M384 224h8M440 224h4M744 224h4M120 228h216M360 228h4M372 228h8M120 232h208M444 232h4M120 236h204M748 236h4M120 240h200M120 244h192M772 244h4M120 248h176M464 248h4M752 248h4M772 248h4M120 252h164M464 252h4M496 252h8M772 252h4M120 256h156M292 256h4M464 256h4M756 256h4M120 260h152M284 260h12M464 260h4M756 260h4M120 264h144M292 264h8M464 264h4M756 264h4M120 268h136M296 268h4M464 268h4M756 268h4M120 272h132M296 272h4M756 272h4M772 272h4M120 276h124M296 276h4M756 276h8M768 276h12M120 280h116M292 280h4M464 280h8M760 280h16M120 284h112M260 284h4M464 284h8M764 284h8M120 288h104M464 288h8M768 288h4M120 292h96M292 292h4M464 292h8M768 292h4M120 296h36M164 296h44M256 296h4M464 296h12M768 296h4M120 300h36M168 300h32M256 300h4M296 300h4M476 300h8M768 300h4M120 304h36M176 304h16M260 304h4M484 304h8M776 304h4M120 308h36M264 308h4M288 308h4M488 308h8M120 312h12M264 312h4M272 312h12M492 312h4M492 316h36M268 320h4M496 320h20M528 320h16M268 324h4M496 324h12M536 324h16M548 328h8M556 332h16M972 332h32M568 336h24M956 336h36M588 340h12M940 340h40M264 344h4M596 344h8M936 344h32M264 348h4M600 348h4M936 348h20M264 352h40M600 352h4M940 352h4M316 356h8M604 356h4M704 356h16M328 360h4M604 360h4M696 360h4M724 360h4M836 360h8M332 364h4M608 364h4M688 364h8M732 364h4M336 368h4M612 368h4M688 368h4M828 368h4M844 368h4M336 372h4M616 372h4M684 372h4M744 372h4M828 372h4M984 372h8M336 376h4M620 376h4M684 376h4M752 376h4M832 376h4M848 376h4M968 376h8M332 380h4M624 380h4M684 380h4M768 380h8M836 380h4M924 380h12M948 380h8M328 384h4M624 384h4M684 384h4M784 384h16M840 384h4M852 384h4M920 384h4M240 388h4M320 388h8M624 388h4M684 388h4M788 388h20M920 388h4M316 392h4M624 392h4M684 392h4M780 392h8M796 392h4M844 392h4M856 392h4M312 396h4M624 396h4M684 396h4M776 396h4M848 396h8M928 396h8M308 400h4M624 400h4M772 400h4M936 400h4M308 404h4M772 404h4M940 404h4M304 408h4M620 408h4M688 408h4M772 408h4M944 408h4M304 412h4M620 412h4M952 412h8M304 416h4M620 416h4M708 416h4M968 416h16M304 420h4M616 420h4M692 420h4M704 420h4M716 420h4M772 420h4M992 420h12M612 424h8M692 424h4M704 424h4M740 424h4M772 424h4M300 428h4M608 428h8M692 428h4M700 428h4M744 428h4M300 432h4M608 432h4M692 432h12M480 436h8M524 436h8M604 436h4M692 436h12M748 436h4M768 436h4M296 440h4M468 440h4M548 440h4M604 440h4M692 440h12M748 440h4M768 440h4M296 444h4M460 444h4M560 444h4M608 444h4M692 444h8M748 444h4M768 444h4M296 448h4M452 448h4M572 448h4M580 448h8M608 448h8M744 448h8M764 448h4M432 452h16M584 452h4M616 452h4M752 452h12M232 456h4M428 456h4M584 456h4M620 456h4M624 460h4M420 464h4M584 464h4M628 464h4M584 468h4M636 468h12M772 468h16M416 472h4M584 472h4M648 472h8M748 472h24M792 472h4M236 476h4M376 476h12M416 476h4M580 476h4M656 476h4M708 476h28M796 476h4M364 480h36M412 480h4M580 480h4M660 480h12M700 480h4M796 480h4M356 484h12M396 484h16M580 484h4M672 484h24M300 488h4M352 488h8M460 488h4M472 488h8M580 488h8M796 488h4M876 488h8M300 492h4M348 492h8M460 492h4M476 492h4M584 492h4M304 496h4M348 496h4M464 496h12M584 496h8M792 496h4M308 500h4M348 500h4M588 500h4M788 500h4M312 504h4M344 504h8M592 504h4M784 504h4M248 508h4M316 508h4M344 508h4M592 508h4M780 508h8M252 512h20M316 512h4M336 512h8M596 512h4M716 512h4M724 512h8M780 512h12M272 516h4M320 516h16M600 516h4M708 516h4M728 516h4M788 516h8M276 520h4M728 520h4M796 520h4M604 524h4M704 524h4M728 524h4M800 524h4M280 528h4M612 528h4M728 528h4M804 528h8M908 528h8M1000 528h4M280 532h4M624 532h8M816 532h4M916 532h4M280 536h4M636 536h4M736 536h4M744 536h32M796 536h12M896 536h4M920 536h4M644 540h4M824 540h4M968 540h4M280 544h4M652 544h4M696 544h4M896 544h4M916 544h4M944 544h4M956 544h4M280 548h4M664 548h12M688 548h8M280 552h4M764 564h12M280 568h4M752 568h8M740 572h12M740 576h8M784 576h4M288 580h4M744 580h4M308 584h4M316 588h8M756 588h4M272 592h20M764 592h4M784 592h4M264 596h20M292 596h12M324 596h4M776 596h8M256 600h16M304 600h4M324 600h4M820 600h4M252 604h16M320 604h4M840 604h4M248 608h16M308 608h12M820 608h16M244 612h16M236 616h20M228 620h24M200 624h44M180 628h60M180 632h52M180 636h44M188 640h20M356 640h8M192 644h16M352 644h4M360 644h4M196 648h20M352 648h4M360 648h4M196 652h8M208 652h16M352 652h4M360 652h4M200 656h4M220 656h16M200 660h4M232 660h8M204 664h4M240 664h4M208 668h4M244 668h4M212 672h4M244 672h4M216 676h4M252 676h4M224 680h4M248 680h4M232 684h12M140 688h12M364 688h4M136 692h4M156 692h4M360 692h4M368 692h4M140 696h4M156 696h16M360 696h4M148 700h8M164 700h8M364 700h8M164 704h8M164 708h4"/>
<path stroke="#565656" d="M320 72h60M320 76h60M320 80h60M320 84h60M316 88h64M316 92h64M316 96h64M316 100h60M276 104h52M268 108h52M272 112h56M288 116h56M300 120h56M304 124h60M308 128h56M308 132h60M312 136h56M748 136h8M312 140h60M744 140h4M760 140h4M316 144h56M744 144h4M760 144h4M320 148h56M744 148h4M760 148h4M328 152h52M332 156h48M748 156h4M336 160h48M336 164h52M340 168h52M344 172h48M348 176h48M352 180h48M356 184h48M360 188h44M368 192h40M376 196h36M380 200h36M384 204h36M396 208h28M404 212h20M744 212h4M752 212h8M364 216h4M408 216h12M428 216h8M360 220h4M392 220h4M412 220h4M360 224h4M380 224h4M364 228h8M744 228h4M456 240h4M748 240h4M772 240h4M464 244h4M496 248h8M492 252h4M504 252h4M752 252h4M496 256h8M752 256h4M772 256h4M468 260h4M752 260h4M772 260h4M288 264h4M468 264h4M752 264h4M772 264h4M292 268h4M468 268h4M752 268h4M772 268h4M292 272h4M468 272h4M752 272h4M292 276h4M468 276h4M752 276h4M780 276h12M472 280h4M752 280h8M472 284h4M756 284h8M472 288h8M760 288h8M472 292h12M764 292h4M292 296h4M476 296h12M764 296h4M796 296h4M292 300h4M484 300h8M792 300h4M264 304h4M292 304h4M492 304h8M768 304h8M780 304h8M268 308h20M496 308h24M268 312h4M496 312h32M264 316h8M528 316h24M264 320h4M544 320h12M264 324h4M552 324h8M264 328h4M556 328h16M976 328h28M264 332h4M572 332h24M960 332h12M264 336h4M592 336h12M944 336h12M992 336h8M264 340h4M600 340h4M936 340h4M980 340h8M260 344h4M604 344h4M932 344h4M968 344h8M604 348h4M932 348h4M956 348h8M256 352h4M604 352h4M936 352h4M944 352h8M264 356h16M304 356h12M608 356h4M692 356h12M720 356h4M320 360h8M608 360h4M688 360h8M728 360h4M832 360h4M328 364h4M612 364h4M684 364h4M736 364h4M844 364h4M332 368h4M616 368h4M684 368h4M740 368h4M988 368h16M332 372h4M620 372h4M680 372h4M748 372h4M972 372h12M332 376h4M624 376h4M680 376h4M756 376h4M952 376h16M328 380h4M680 380h4M776 380h4M852 380h4M936 380h12M320 384h8M680 384h4M800 384h8M316 388h4M628 388h4M680 388h4M808 388h4M840 388h4M856 388h4M312 392h4M628 392h4M788 392h8M800 392h8M920 392h4M308 396h4M780 396h4M856 396h4M924 396h4M304 400h4M684 400h4M776 400h4M932 400h4M304 404h4M624 404h4M684 404h4M936 404h4M300 408h4M624 408h4M940 408h4M300 412h4M624 412h4M688 412h4M948 412h4M236 416h4M624 416h4M688 416h4M964 416h4M620 420h8M708 420h8M988 420h4M300 424h4M620 424h4M708 424h4M720 424h20M616 428h4M704 428h4M740 428h4M772 428h4M296 432h4M612 432h4M688 432h4M704 432h4M744 432h4M296 436h4M488 436h36M608 436h8M688 436h4M744 436h4M472 440h8M544 440h4M608 440h4M688 440h4M704 440h4M744 440h4M464 444h4M556 444h4M612 444h4M688 444h4M700 444h4M740 444h8M456 448h4M564 448h8M576 448h4M616 448h4M692 448h8M740 448h4M768 448h4M296 452h4M448 452h4M580 452h4M620 452h4M740 452h12M764 452h8M296 456h4M432 456h12M624 456h4M752 456h12M296 460h4M424 460h4M584 460h4M628 460h4M296 464h4M632 464h4M768 464h20M296 468h4M420 468h4M580 468h4M648 468h8M752 468h20M788 468h8M296 472h4M580 472h4M656 472h8M732 472h16M796 472h4M296 476h4M576 476h4M660 476h16M704 476h4M296 480h4M416 480h4M576 480h4M672 480h16M696 480h4M800 480h4M296 484h4M368 484h28M412 484h4M460 484h12M576 484h4M800 484h4M880 484h4M296 488h4M360 488h16M392 488h20M480 488h4M576 488h4M884 488h4M296 492h4M356 492h8M480 492h8M580 492h4M796 492h4M876 492h8M244 496h4M300 496h4M352 496h8M460 496h4M476 496h8M580 496h4M304 500h4M352 500h4M584 500h4M792 500h4M308 504h4M352 504h4M588 504h4M788 504h4M252 508h16M312 508h4M348 508h4M588 508h4M788 508h4M948 508h56M272 512h4M344 512h8M592 512h4M720 512h4M792 512h4M948 512h56M276 516h4M316 516h4M336 516h8M596 516h4M796 516h4M320 520h16M600 520h4M800 520h4M280 524h4M804 524h4M604 528h8M704 528h4M900 528h4M916 528h4M612 532h12M728 532h4M820 532h4M896 532h4M920 532h4M988 532h4M632 536h4M732 536h4M776 536h20M824 536h4M976 536h4M700 540h4M740 540h4M808 540h4M920 540h4M944 540h4M648 544h4M816 544h8M948 544h4M656 548h8M696 548h4M904 548h8M280 556h4M580 560h4M944 560h4M756 564h8M776 564h4M948 564h4M732 568h20M780 568h4M976 568h4M724 572h16M784 572h4M728 576h12M300 580h4M740 580h4M788 580h4M312 584h4M748 584h4M788 584h4M752 588h4M788 588h4M324 592h4M284 596h8M772 596h4M824 596h4M844 596h4M272 600h32M844 600h4M268 604h12M304 604h4M324 604h4M816 604h4M264 608h12M304 608h4M320 608h8M260 612h12M256 616h12M252 620h12M244 624h16M240 628h16M152 632h4M232 632h16M224 636h20M352 636h12M208 640h32M352 640h4M208 644h28M364 644h4M192 648h4M216 648h20M364 648h4M192 652h4M224 652h16M196 656h4M236 656h8M352 656h12M196 660h4M240 660h8M200 664h4M244 664h8M204 668h4M248 668h4M208 672h4M212 676h4M256 676h4M220 680h4M252 680h4M228 684h4M244 684h8M132 688h8M152 688h4M164 688h4M360 688h4M368 688h4M132 692h4M160 692h12M136 696h4M372 696h4M140 700h8M156 700h8M360 700h4M372 700h4M148 704h8M160 704h4M368 704h4M160 708h4M168 708h4"/>
<path stroke="#585858" d="M380 72h4M380 76h4M380 80h4M380 84h4M380 88h4M380 92h4M380 96h4M376 100h8M328 104h56M320 108h52M328 112h40M344 116h36M356 120h32M364 124h28M364 128h32M368 132h28M368 136h32M744 136h4M756 136h4M372 140h32M372 144h36M376 148h32M380 152h32M744 152h4M760 152h4M380 156h32M384 160h32M752 160h4M388 164h28M392 168h24M392 172h28M396 176h24M400 180h20M404 184h16M404 188h20M408 192h16M412 196h16M416 200h16M420 204h16M424 208h12M620 208h12M424 212h12M620 212h12M740 212h4M368 216h4M392 216h4M620 216h8M740 216h4M364 220h4M388 220h4M436 220h4M740 220h4M364 224h4M372 224h8M444 224h4M444 228h4M744 232h4M772 236h4M460 240h4M468 244h4M748 244h4M468 248h4M492 248h4M504 248h4M468 252h4M468 256h4M492 256h4M504 256h4M280 264h8M472 264h4M748 264h4M288 268h4M472 268h4M748 268h4M472 272h4M748 272h4M776 272h4M472 276h8M748 276h4M264 280h4M288 280h4M476 280h4M748 280h4M288 284h4M476 284h8M752 284h4M288 288h4M480 288h8M756 288h4M800 288h4M484 292h8M756 292h8M800 292h4M488 296h8M760 296h4M260 300h4M492 300h16M764 300h4M268 304h12M288 304h4M500 304h20M788 304h4M520 308h12M528 312h32M552 316h8M556 320h8M560 324h16M572 328h32M876 328h4M596 332h12M876 332h4M604 336h4M876 336h4M1000 336h4M604 340h4M932 340h4M988 340h8M928 344h4M976 344h8M260 348h4M608 348h4M964 348h8M260 352h4M608 352h4M684 352h32M932 352h4M952 352h8M260 356h4M280 356h24M612 356h4M684 356h8M724 356h4M836 356h8M932 356h16M260 360h16M312 360h8M612 360h4M680 360h8M732 360h4M844 360h4M260 364h4M324 364h4M616 364h4M680 364h4M828 364h4M328 368h4M620 368h4M676 368h8M744 368h4M984 368h4M328 372h4M624 372h4M676 372h4M824 372h4M848 372h4M968 372h4M244 376h4M328 376h4M676 376h4M760 376h8M824 376h8M924 376h8M948 376h4M324 380h4M628 380h4M676 380h4M780 380h8M920 380h4M316 384h4M628 384h4M676 384h4M808 384h4M836 384h4M856 384h4M308 388h8M676 388h4M916 388h4M240 392h4M308 392h4M680 392h4M808 392h4M304 396h4M628 396h4M680 396h4M784 396h24M844 396h4M920 396h4M300 400h4M628 400h4M680 400h4M780 400h4M928 400h4M300 404h4M628 404h4M776 404h4M932 404h4M628 408h4M684 408h4M776 408h4M628 412h4M776 412h4M944 412h4M300 416h4M628 416h4M776 416h4M960 416h4M236 420h4M300 420h4M628 420h4M688 420h4M984 420h4M624 424h8M688 424h4M712 424h8M296 428h4M620 428h8M688 428h4M708 428h4M736 428h4M616 432h8M740 432h4M772 432h4M292 436h4M616 436h4M684 436h4M704 436h4M772 436h4M232 440h4M292 440h4M480 440h4M536 440h8M612 440h8M684 440h4M740 440h4M772 440h4M232 444h4M292 444h4M468 444h4M552 444h4M616 444h4M684 444h4M704 444h8M736 444h4M772 444h4M232 448h4M292 448h4M460 448h4M620 448h8M684 448h8M700 448h12M732 448h8M772 448h4M232 452h4M292 452h4M452 452h4M568 452h12M624 452h4M688 452h12M728 452h12M772 452h4M292 456h4M444 456h8M576 456h8M628 456h4M732 456h20M764 456h16M292 460h4M428 460h4M580 460h4M632 460h4M744 460h44M292 464h4M424 464h4M580 464h4M636 464h24M748 464h20M788 464h4M292 468h4M576 468h4M656 468h8M736 468h16M236 472h4M292 472h4M420 472h4M576 472h4M664 472h16M712 472h20M292 476h4M572 476h4M676 476h12M700 476h4M800 476h4M292 480h4M460 480h4M568 480h8M688 480h8M240 484h4M292 484h4M416 484h4M456 484h4M472 484h8M568 484h8M876 484h4M292 488h4M376 488h16M412 488h4M456 488h4M484 488h4M568 488h8M800 488h4M872 488h4M940 488h4M292 492h4M364 492h48M456 492h4M488 492h4M572 492h8M800 492h4M940 492h4M296 496h4M360 496h12M484 496h4M576 496h4M796 496h4M940 496h4M300 500h4M356 500h8M464 500h8M580 500h4M796 500h4M940 500h8M252 504h12M304 504h4M356 504h4M584 504h4M792 504h4M940 504h64M268 508h4M308 508h4M352 508h8M792 508h8M940 508h8M312 512h4M352 512h4M588 512h4M796 512h4M940 512h8M312 516h4M344 516h8M592 516h4M712 516h16M800 516h4M940 516h64M280 520h4M316 520h4M336 520h8M596 520h4M708 520h4M724 520h4M804 520h4M1000 520h4M316 524h16M600 524h4M724 524h4M904 524h8M600 528h4M724 528h4M812 528h4M920 528h4M996 528h4M284 532h4M608 532h4M704 532h4M724 532h4M824 532h4M924 532h4M984 532h4M284 536h4M616 536h16M704 536h4M728 536h4M924 536h4M944 536h4M972 536h4M284 540h4M636 540h8M732 540h8M744 540h8M800 540h8M940 540h4M964 540h4M284 544h4M644 544h4M700 544h4M812 544h4M824 544h4M920 544h4M940 544h4M952 544h4M284 548h4M652 548h4M900 548h4M912 548h4M940 548h4M580 552h4M672 552h28M940 552h4M576 556h12M280 560h4M576 560h4M584 560h4M760 560h20M280 564h4M576 564h8M728 564h28M780 564h4M720 568h12M784 568h4M720 572h4M720 576h8M788 576h4M292 580h8M304 580h4M728 580h12M316 584h4M744 584h4M324 588h4M760 592h4M788 592h4M832 592h12M328 596h4M768 596h4M784 596h4M328 600h4M816 600h4M280 604h24M328 604h4M276 608h12M816 608h4M836 608h4M272 612h8M304 612h24M268 616h8M304 616h4M264 620h12M260 624h12M256 628h12M148 632h4M248 632h16M356 632h8M168 636h8M244 636h16M364 636h4M184 640h4M240 640h16M348 640h4M364 640h4M188 644h4M236 644h16M348 644h4M188 648h4M236 648h12M348 648h4M188 652h4M240 652h12M348 652h4M364 652h4M188 656h8M244 656h8M348 656h4M192 660h4M248 660h8M352 660h8M196 664h4M252 664h8M200 668h4M252 668h4M204 672h4M248 672h4M208 676h4M260 676h4M216 680h4M256 680h4M164 684h4M224 684h4M252 684h4M364 684h4M128 688h4M156 688h8M168 688h4M232 688h16M356 688h4M124 692h8M356 692h4M372 692h4M128 696h8M172 696h4M356 696h4M132 700h8M172 700h4M140 704h8M156 704h4M172 704h4M364 704h4M372 704h4M144 708h16M160 712h8"/>
<path stroke="#5a5a5a" d="M384 72h36M384 76h36M384 80h36M384 84h36M384 88h36M384 92h36M384 96h36M384 100h32M384 104h8M372 108h20M368 112h32M380 116h28M388 120h28M392 124h32M396 128h28M396 132h32M744 132h16M400 136h28M760 136h4M404 140h24M740 140h4M408 144h20M740 144h4M408 148h24M740 148h4M412 152h20M412 156h20M744 156h4M760 156h4M416 160h16M748 160h4M756 160h4M416 164h16M416 168h16M420 172h16M420 176h16M420 180h16M420 184h16M424 188h12M424 192h16M428 196h16M432 200h12M436 204h12M620 204h8M436 208h12M616 208h4M632 208h4M436 212h12M616 212h4M632 212h4M760 212h4M436 216h12M616 216h4M628 216h4M768 216h4M368 220h4M380 220h8M440 220h8M620 220h8M368 224h4M740 224h4M772 224h4M740 228h4M772 228h4M772 232h4M744 236h4M464 240h4M744 240h4M500 244h4M488 248h4M508 248h4M748 248h4M776 248h4M472 252h4M488 252h4M508 252h4M748 252h4M776 252h4M472 256h4M488 256h4M748 256h4M472 260h4M496 260h8M748 260h4M476 264h4M276 268h4M284 268h4M476 268h4M744 268h4M776 268h4M272 272h4M288 272h4M476 272h4M744 272h4M268 276h4M288 276h4M480 276h4M744 276h4M480 280h4M796 280h4M484 284h4M748 284h4M260 288h4M488 288h8M748 288h8M288 292h4M492 292h8M752 292h4M288 296h4M496 296h20M756 296h4M800 296h4M264 300h16M288 300h4M508 300h16M760 300h4M796 300h4M280 304h8M520 304h40M764 304h4M532 308h32M560 312h8M560 316h12M564 320h16M576 324h32M604 328h8M872 328h4M880 328h4M972 328h4M608 332h4M872 332h4M880 332h4M956 332h4M608 336h4M872 336h4M880 336h4M940 336h4M608 340h4M876 340h4M928 340h4M996 340h4M608 344h4M688 344h8M984 344h4M612 348h4M680 348h24M928 348h4M972 348h4M612 352h4M680 352h4M716 352h4M928 352h4M960 352h4M256 356h4M676 356h8M728 356h4M832 356h4M928 356h4M948 356h4M252 360h8M276 360h36M616 360h4M676 360h4M932 360h8M256 364h4M264 364h8M316 364h8M620 364h4M672 364h8M740 364h4M992 364h12M248 368h4M256 368h8M324 368h4M624 368h4M672 368h4M848 368h4M976 368h8M256 372h4M324 372h4M672 372h4M752 372h4M956 372h12M320 376h8M628 376h4M672 376h4M768 376h4M852 376h4M932 376h16M312 380h12M672 380h4M788 380h20M832 380h4M308 384h8M632 384h4M672 384h4M812 384h4M916 384h4M304 388h4M632 388h4M672 388h4M812 388h4M300 392h8M632 392h4M672 392h8M840 392h4M860 392h4M916 392h4M240 396h4M300 396h4M632 396h4M676 396h4M808 396h4M860 396h4M296 400h4M632 400h4M676 400h4M784 400h20M852 400h4M924 400h4M296 404h4M632 404h4M680 404h4M780 404h4M928 404h4M296 408h4M632 408h4M932 408h8M296 412h4M632 412h4M684 412h4M296 416h4M632 416h4M684 416h4M956 416h4M296 420h4M632 420h4M776 420h4M972 420h12M296 424h4M632 424h4M776 424h4M996 424h8M628 428h4M684 428h4M712 428h24M292 432h4M624 432h8M684 432h4M708 432h4M736 432h4M620 436h8M680 436h4M708 436h4M740 436h4M288 440h4M484 440h12M528 440h8M620 440h8M680 440h4M708 440h8M736 440h4M776 440h4M288 444h4M472 444h4M548 444h4M620 444h8M680 444h4M712 444h8M728 444h8M776 444h4M288 448h4M464 448h4M560 448h4M628 448h4M680 448h4M712 448h20M776 448h4M288 452h4M456 452h4M564 452h4M628 452h4M680 452h8M700 452h28M776 452h8M288 456h4M452 456h4M572 456h4M632 456h4M652 456h8M684 456h48M780 456h8M288 460h4M432 460h16M576 460h4M636 460h32M724 460h20M788 460h4M288 464h4M428 464h4M576 464h4M660 464h20M728 464h20M792 464h4M288 468h4M424 468h4M572 468h4M664 468h20M716 468h20M796 468h4M288 472h4M568 472h8M680 472h8M704 472h8M800 472h4M288 476h4M420 476h4M556 476h16M688 476h12M804 476h4M288 480h4M456 480h4M464 480h8M552 480h16M804 480h4M288 484h4M480 484h8M552 484h16M804 484h4M884 484h4M940 484h4M288 488h4M488 488h4M560 488h8M804 488h4M888 488h4M244 492h4M288 492h4M492 492h4M568 492h4M872 492h4M884 492h4M944 492h4M292 496h4M372 496h36M456 496h4M488 496h4M572 496h4M800 496h4M944 496h4M248 500h12M292 500h8M364 500h28M460 500h4M472 500h12M576 500h4M948 500h56M248 504h4M264 504h4M300 504h4M360 504h16M580 504h4M796 504h4M272 508h4M304 508h4M360 508h8M584 508h4M936 508h4M276 512h4M308 512h4M356 512h8M584 512h4M800 512h4M936 512h4M280 516h4M352 516h8M384 516h4M588 516h4M804 516h4M936 516h4M312 520h4M344 520h8M380 520h12M592 520h4M712 520h4M720 520h4M940 520h4M952 520h48M284 524h4M312 524h4M332 524h8M384 524h8M596 524h4M708 524h4M720 524h4M808 524h4M912 524h12M1000 524h4M284 528h4M316 528h16M388 528h4M816 528h4M924 528h4M940 528h4M992 528h4M600 532h8M940 532h8M980 532h4M608 536h8M724 536h4M940 536h4M632 540h4M704 540h4M728 540h4M752 540h48M892 540h4M924 540h4M948 540h4M960 540h4M640 544h4M736 544h12M808 544h4M580 548h8M648 548h4M700 548h4M896 548h4M916 548h4M284 552h4M576 552h4M584 552h4M660 552h12M700 552h4M284 556h4M572 556h4M588 556h4M764 556h12M940 556h4M572 560h4M588 560h4M728 560h32M780 560h4M572 564h4M584 564h8M716 564h12M576 568h12M712 568h8M956 568h20M716 572h4M788 572h4M988 572h16M296 576h8M716 576h4M308 580h8M720 580h8M792 580h4M320 584h4M740 584h4M792 584h4M748 588h4M792 588h4M328 592h4M756 592h4M792 592h4M828 592h4M788 596h4M820 596h4M848 596h4M776 600h12M812 604h4M844 604h4M288 608h16M328 608h4M280 612h24M328 612h4M276 616h16M308 616h20M276 620h8M272 624h8M268 628h8M356 628h8M264 632h8M352 632h4M364 632h4M260 636h8M348 636h4M256 640h8M368 640h4M184 644h4M252 644h12M368 644h4M184 648h4M248 648h12M184 652h4M252 652h8M184 656h4M252 656h12M364 656h4M188 660h4M256 660h12M360 660h4M192 664h4M260 664h8M196 668h4M256 668h12M200 672h4M252 672h8M204 676h4M164 680h4M212 680h4M260 680h4M144 684h8M160 684h4M168 684h4M220 684h4M256 684h4M360 684h4M368 684h4M124 688h4M172 688h4M228 688h4M248 688h4M372 688h4M120 692h4M172 692h4M120 696h8M120 700h12M356 700h4M120 704h20M360 704h4M120 708h24M172 708h4M368 708h8M120 712h40M168 712h4M124 716h44M140 720h24"/>
<path stroke="#5c5c5c" d="M420 72h28M420 76h28M420 80h28M420 84h28M420 88h32M420 92h32M420 96h32M416 100h20M392 104h32M392 108h28M400 112h24M408 116h28M416 120h24M424 124h20M424 128h20M748 128h4M428 132h16M740 132h4M760 132h4M428 136h16M740 136h4M764 136h4M428 140h20M764 140h4M428 144h20M764 144h4M432 148h16M432 152h16M740 152h4M432 156h16M432 160h16M432 164h16M432 168h16M436 172h12M436 176h12M436 180h12M436 184h12M436 188h16M440 192h12M444 196h12M444 200h12M464 200h4M448 204h12M464 204h4M616 204h4M628 204h8M448 208h12M740 208h8M448 212h12M736 212h4M372 216h4M388 216h4M448 216h12M632 216h4M736 216h4M372 220h8M448 220h12M628 220h4M736 220h4M772 220h4M448 224h12M448 228h12M448 232h12M740 232h4M452 236h4M472 244h4M492 244h8M504 244h8M744 244h4M776 244h4M472 248h4M484 248h4M476 252h12M476 256h12M508 256h4M776 256h4M476 260h20M504 260h4M776 260h4M480 264h4M744 264h4M776 264h4M280 268h4M480 268h4M284 272h4M480 272h8M780 272h4M284 276h4M484 276h4M792 276h4M284 280h4M484 280h8M744 280h4M264 284h8M284 284h4M488 284h12M744 284h4M800 284h4M264 288h8M284 288h4M496 288h12M260 292h16M500 292h20M748 292h4M804 292h4M260 296h20M284 296h4M516 296h12M752 296h4M804 296h4M280 300h8M524 300h40M756 300h4M560 304h8M760 304h4M792 304h4M564 308h8M764 308h20M568 312h8M572 316h12M580 320h36M608 324h8M872 324h8M612 328h4M868 328h4M968 328h4M612 332h4M644 332h16M868 332h4M884 332h4M952 332h4M612 336h4M644 336h16M884 336h4M936 336h4M612 340h4M644 340h16M684 340h8M872 340h4M880 340h4M1000 340h4M612 344h4M644 344h16M676 344h12M696 344h4M988 344h8M648 348h8M672 348h8M704 348h8M924 348h4M976 348h8M616 352h4M672 352h8M720 352h4M836 352h4M924 352h4M964 352h8M616 356h4M668 356h8M844 356h4M924 356h4M952 356h8M620 360h4M668 360h8M736 360h4M924 360h8M940 360h8M252 364h4M272 364h8M308 364h8M624 364h4M664 364h8M848 364h4M924 364h12M984 364h8M252 368h4M264 368h4M316 368h8M628 368h4M664 368h8M748 368h4M824 368h4M924 368h4M968 368h8M252 372h4M260 372h4M316 372h8M628 372h8M664 372h8M756 372h4M852 372h4M924 372h12M948 372h8M252 376h12M312 376h8M632 376h4M664 376h8M772 376h4M820 376h4M920 376h4M244 380h4M252 380h8M304 380h8M632 380h4M664 380h8M808 380h16M856 380h4M916 380h4M248 384h12M300 384h8M636 384h4M664 384h8M816 384h4M244 388h16M300 388h4M636 388h4M664 388h8M836 388h4M860 388h4M244 392h12M296 392h4M636 392h4M664 392h8M812 392h4M244 396h12M296 396h4M636 396h4M668 396h8M840 396h4M916 396h4M240 400h16M292 400h4M636 400h4M672 400h4M804 400h4M848 400h4M856 400h4M920 400h4M244 404h12M292 404h4M636 404h8M676 404h4M784 404h4M796 404h8M292 408h4M636 408h8M680 408h4M780 408h4M928 408h4M292 412h4M636 412h8M680 412h4M780 412h4M940 412h4M636 416h8M952 416h4M636 420h8M684 420h4M968 420h4M636 424h8M684 424h4M992 424h4M292 428h4M632 428h8M776 428h4M288 432h4M632 432h4M680 432h4M712 432h24M776 432h4M288 436h4M628 436h8M712 436h8M732 436h8M776 436h4M496 440h32M628 440h4M676 440h4M716 440h20M284 444h4M476 444h4M544 444h4M628 444h8M672 444h8M720 444h8M780 444h4M284 448h4M468 448h4M556 448h4M632 448h4M668 448h12M780 448h8M284 452h4M460 452h4M632 452h4M648 452h32M784 452h4M284 456h4M568 456h4M636 456h16M660 456h24M788 456h4M284 460h4M448 460h8M568 460h8M668 460h56M792 460h4M284 464h4M432 464h16M568 464h8M680 464h12M704 464h24M796 464h4M284 468h4M564 468h8M684 468h8M704 468h12M800 468h4M284 472h4M424 472h4M552 472h16M688 472h16M804 472h4M284 476h4M452 476h12M544 476h12M808 476h4M284 480h4M420 480h4M452 480h4M472 480h8M540 480h12M808 480h4M284 484h4M452 484h4M488 484h4M536 484h16M872 484h4M944 484h4M248 488h4M284 488h4M416 488h4M452 488h4M492 488h8M540 488h20M936 488h4M944 488h4M248 492h8M412 492h4M496 492h4M556 492h12M804 492h4M936 492h4M248 496h12M288 496h4M408 496h4M492 496h4M568 496h4M876 496h4M936 496h4M948 496h4M260 500h8M288 500h4M392 500h12M484 500h8M572 500h4M800 500h4M936 500h4M268 504h8M292 504h8M376 504h20M576 504h4M800 504h4M936 504h4M276 508h4M300 508h4M368 508h24M580 508h4M800 508h4M280 512h4M304 512h4M364 512h32M580 512h4M804 512h4M284 516h4M308 516h4M360 516h24M388 516h8M584 516h4M932 516h4M284 520h4M308 520h4M352 520h12M372 520h8M392 520h4M588 520h4M716 520h4M808 520h4M936 520h4M944 520h8M308 524h4M340 524h12M376 524h8M392 524h8M592 524h4M712 524h8M812 524h4M900 524h4M924 524h4M936 524h8M988 524h12M288 528h4M312 528h4M332 528h4M380 528h8M392 528h8M596 528h4M708 528h4M720 528h4M820 528h4M896 528h4M928 528h4M936 528h4M944 528h4M988 528h4M288 532h4M316 532h12M384 532h16M596 532h4M708 532h4M720 532h4M928 532h4M936 532h4M976 532h4M288 536h4M600 536h8M828 536h4M892 536h4M928 536h4M936 536h4M948 536h4M968 536h4M288 540h4M604 540h28M724 540h4M828 540h4M928 540h4M956 540h4M288 544h4M580 544h8M636 544h4M704 544h4M732 544h4M748 544h8M804 544h4M892 544h4M924 544h4M288 548h4M576 548h4M588 548h4M644 548h4M704 548h4M736 548h8M816 548h8M572 552h4M588 552h8M652 552h8M740 552h4M592 556h4M684 556h24M728 556h36M776 556h8M284 560h4M592 560h4M704 560h24M284 564h4M592 564h4M708 564h8M784 564h4M572 568h4M588 568h4M788 568h4M572 572h16M712 572h4M984 572h4M288 576h8M304 576h4M712 576h4M792 576h4M316 580h4M716 580h4M324 584h4M720 584h20M328 588h4M744 588h4M796 588h4M752 592h4M796 592h4M824 592h4M844 592h12M764 596h4M792 596h4M816 596h4M332 600h4M772 600h4M812 600h4M848 600h4M332 604h4M332 608h4M812 608h4M840 608h4M816 612h16M292 616h12M328 616h4M284 620h44M280 624h12M276 628h12M352 628h4M364 628h4M144 632h4M272 632h12M348 632h4M164 636h4M268 636h12M368 636h4M180 640h4M264 640h12M344 640h4M180 644h4M264 644h12M344 644h4M180 648h4M260 648h16M344 648h4M368 648h4M180 652h4M260 652h16M344 652h4M368 652h4M180 656h4M264 656h12M344 656h4M180 660h8M268 660h8M348 660h4M364 660h4M188 664h4M268 664h8M352 664h12M192 668h4M268 668h8M196 672h4M260 672h16M164 676h8M200 676h4M264 676h4M160 680h4M168 680h4M208 680h4M360 680h8M128 684h16M152 684h8M172 684h4M216 684h4M260 684h4M356 684h4M120 688h4M224 688h4M252 688h4M352 688h4M236 692h12M352 692h4M352 696h4M376 696h4M176 700h4M376 700h4M376 704h4M364 708h4M376 708h4M372 712h4M120 716h4M168 716h4M128 720h12M164 720h4M140 724h28"/>
<path stroke="#5e5e5e" d="M448 72h4M448 76h4M448 80h4M448 84h4M452 88h4M452 92h4M452 96h4M436 100h20M424 104h24M420 108h24M424 112h24M436 116h20M440 120h16M444 124h12M444 128h12M740 128h8M752 128h8M444 132h16M764 132h4M444 136h16M736 136h4M448 140h12M736 140h4M448 144h12M736 144h4M448 148h12M736 148h4M764 148h4M448 152h12M736 152h4M448 156h12M740 156h4M448 160h12M744 160h4M760 160h4M448 164h12M448 168h12M448 172h12M448 176h12M448 180h12M448 184h16M452 188h12M452 192h16M456 196h16M456 200h8M468 200h4M616 200h16M460 204h4M468 204h4M636 204h4M460 208h12M612 208h4M636 208h4M736 208h4M748 208h4M460 212h12M612 212h4M636 212h4M764 212h4M376 216h12M460 216h12M612 216h4M460 220h8M472 220h4M616 220h4M632 220h4M460 224h8M620 224h12M736 224h4M460 228h8M460 232h8M456 236h12M740 236h4M468 240h12M496 240h12M776 240h4M476 244h16M476 248h8M512 248h4M744 248h4M512 252h4M744 252h4M512 256h4M744 256h4M508 260h4M744 260h4M484 264h24M484 268h12M740 268h4M276 272h8M488 272h8M740 272h4M784 272h4M272 276h12M488 276h12M740 276h4M268 280h16M492 280h12M740 280h4M272 284h12M500 284h12M272 288h12M508 288h16M744 288h4M804 288h4M276 292h12M520 292h32M744 292h4M808 292h4M280 296h4M528 296h36M748 296h4M564 300h8M752 300h4M800 300h4M568 304h8M752 304h8M796 304h4M572 308h8M760 308h4M784 308h4M576 312h12M600 312h12M584 316h40M616 320h8M648 320h12M616 324h8M640 324h24M868 324h4M880 324h4M616 328h8M636 328h32M884 328h4M616 332h8M636 332h8M660 332h8M616 336h8M636 336h8M660 336h32M868 336h4M616 340h4M636 340h8M660 340h24M692 340h8M884 340h4M924 340h4M616 344h4M636 344h8M660 344h16M700 344h4M876 344h8M924 344h4M996 344h8M616 348h4M636 348h12M656 348h16M712 348h8M984 348h20M620 352h4M636 352h36M724 352h4M840 352h4M972 352h32M620 356h8M636 356h32M732 356h4M960 356h44M624 360h8M636 360h32M740 360h4M828 360h4M848 360h4M948 360h56M280 364h28M628 364h36M744 364h4M936 364h48M268 368h8M304 368h12M632 368h32M752 368h4M920 368h4M928 368h40M248 372h4M264 372h8M304 372h12M636 372h28M760 372h8M820 372h4M920 372h4M936 372h12M248 376h4M264 376h4M300 376h12M636 376h28M776 376h4M816 376h4M856 376h4M916 376h4M248 380h4M260 380h4M296 380h8M636 380h28M824 380h8M244 384h4M260 384h4M292 384h8M640 384h24M832 384h4M860 384h4M260 388h4M292 388h8M640 388h24M816 388h4M912 388h4M256 392h8M292 392h4M640 392h24M836 392h4M912 392h4M256 396h12M288 396h8M640 396h28M812 396h4M256 400h12M288 400h4M640 400h32M808 400h4M844 400h4M860 400h4M240 404h4M256 404h12M288 404h4M644 404h12M668 404h8M788 404h8M804 404h4M924 404h4M240 408h24M288 408h4M644 408h8M672 408h8M784 408h4M240 412h16M288 412h4M644 412h8M676 412h4M932 412h8M240 416h12M292 416h4M644 416h8M680 416h4M780 416h4M240 420h12M292 420h4M644 420h4M680 420h4M780 420h4M964 420h4M236 424h12M292 424h4M644 424h4M680 424h4M780 424h4M988 424h4M236 428h12M288 428h4M640 428h8M680 428h4M236 432h12M284 432h4M636 432h12M676 432h4M780 432h4M236 436h12M284 436h4M636 436h12M672 436h8M720 436h12M780 436h4M236 440h12M284 440h4M632 440h24M668 440h8M780 440h4M236 444h8M280 444h4M480 444h4M540 444h4M636 444h36M784 444h4M236 448h8M280 448h4M552 448h4M636 448h32M788 448h4M240 452h8M280 452h4M464 452h4M560 452h4M636 452h12M788 452h4M240 456h8M280 456h4M456 456h4M564 456h4M792 456h4M240 460h8M280 460h4M564 460h4M796 460h4M236 464h12M280 464h4M448 464h8M560 464h8M692 464h12M800 464h4M236 468h12M280 468h4M428 468h4M440 468h16M552 468h12M692 468h12M804 468h4M240 472h12M280 472h4M448 472h12M544 472h8M808 472h4M240 476h12M280 476h4M424 476h4M448 476h4M464 476h8M536 476h8M240 480h16M280 480h4M480 480h4M528 480h12M940 480h8M244 484h16M280 484h4M420 484h4M492 484h16M524 484h12M808 484h4M888 484h4M936 484h4M244 488h4M252 488h12M280 488h4M500 488h40M256 492h8M280 492h8M452 492h4M500 492h12M528 492h28M888 492h4M260 496h8M280 496h8M496 496h8M560 496h8M872 496h4M880 496h4M952 496h52M268 500h8M284 500h4M404 500h4M456 500h4M492 500h4M568 500h4M276 504h16M396 504h4M460 504h12M572 504h4M280 508h20M392 508h8M576 508h4M804 508h4M932 508h4M284 512h20M396 512h4M932 512h4M288 516h4M300 516h8M396 516h4M580 516h4M928 516h4M288 520h4M300 520h8M364 520h8M396 520h4M584 520h4M908 520h28M288 524h8M304 524h4M352 524h24M400 524h4M588 524h4M928 524h8M944 524h44M292 528h4M304 528h8M336 528h12M372 528h8M400 528h4M592 528h4M712 528h8M932 528h4M980 528h8M292 532h4M308 532h8M328 532h8M380 532h4M400 532h4M592 532h4M716 532h4M828 532h4M892 532h4M932 532h4M948 532h4M972 532h4M292 536h4M384 536h16M592 536h8M708 536h4M720 536h4M932 536h4M964 536h4M292 540h4M580 540h24M708 540h4M720 540h4M932 540h8M952 540h4M292 544h4M576 544h4M588 544h48M724 544h8M756 544h48M936 544h4M572 548h4M592 548h24M640 548h4M728 548h8M744 548h36M812 548h4M824 548h4M920 548h4M936 548h4M288 552h4M596 552h16M644 552h8M704 552h4M728 552h12M744 552h40M288 556h4M568 556h4M596 556h12M668 556h16M708 556h20M784 556h4M288 560h4M568 560h4M596 560h8M700 560h4M784 560h4M940 560h4M568 564h4M596 564h8M704 564h4M788 564h4M944 564h4M284 568h4M568 568h4M592 568h8M708 568h4M792 568h4M952 568h4M284 572h20M588 572h8M708 572h4M792 572h4M308 576h4M572 576h16M320 580h4M712 580h4M796 580h4M328 584h4M716 584h4M796 584h4M720 588h8M740 588h4M800 588h4M852 588h4M332 592h4M748 592h4M800 592h4M332 596h4M760 596h4M796 596h8M808 596h8M852 596h4M788 600h8M808 600h4M808 604h4M808 608h4M332 612h4M812 612h4M832 612h4M332 616h4M328 620h4M292 624h36M352 624h16M288 628h16M348 628h4M368 628h4M284 632h16M344 632h4M368 632h4M280 636h16M344 636h4M176 640h4M276 640h16M372 640h4M176 644h4M276 644h16M340 644h4M372 644h4M176 648h4M276 648h20M340 648h4M796 648h12M172 652h8M276 652h16M796 652h16M172 656h8M276 656h12M368 656h4M796 656h16M176 660h4M276 660h8M344 660h4M368 660h4M796 660h16M180 664h8M276 664h4M348 664h4M364 664h4M792 664h20M188 668h4M276 668h4M356 668h8M792 668h16M164 672h8M192 672h4M160 676h4M172 676h4M192 676h8M268 676h4M364 676h4M152 680h8M172 680h8M196 680h12M264 680h4M356 680h4M368 680h4M120 684h8M176 684h4M208 684h8M352 684h4M372 684h4M176 688h4M216 688h8M256 688h4M176 692h4M228 692h8M248 692h4M376 692h4M176 696h4M352 700h4M176 704h4M356 704h4M360 708h4M172 712h4M368 712h4M376 712h4M120 720h8M168 720h4M132 724h8M168 724h4M144 728h28M156 732h12M360 744h4"/>
<path stroke="#606060" d="M452 84h4M456 100h4M448 104h12M444 108h16M448 112h20M456 116h12M456 120h12M456 124h12M744 124h8M456 128h16M760 128h4M460 132h12M736 132h4M460 136h8M460 140h8M732 140h4M460 144h8M732 144h4M460 148h8M732 148h4M460 152h8M764 152h4M460 156h8M736 156h4M460 160h8M740 160h4M460 164h8M752 164h8M460 168h8M460 172h8M460 176h8M460 180h8M464 184h8M464 188h12M468 192h12M472 196h8M472 200h8M632 200h8M472 204h8M612 204h4M736 204h4M472 208h8M732 208h4M752 208h4M472 212h8M732 212h4M472 216h8M636 216h4M732 216h4M468 220h4M476 220h4M612 220h4M636 220h4M732 220h4M468 224h12M616 224h4M632 224h4M468 228h16M736 228h4M468 232h20M736 232h4M468 236h36M480 240h16M508 240h4M740 240h4M512 244h4M740 244h4M512 260h4M508 264h4M740 264h4M496 268h12M780 268h4M496 272h12M500 276h8M504 280h12M512 284h20M740 284h4M524 288h24M740 288h4M552 292h8M564 296h8M744 296h4M808 296h4M572 300h4M748 300h4M804 300h4M576 304h8M748 304h4M580 308h36M752 308h8M788 308h4M588 312h12M612 312h16M624 316h40M624 320h24M660 320h8M868 320h12M624 324h16M664 324h8M976 324h28M624 328h12M668 328h8M864 328h4M960 328h8M624 332h12M668 332h24M864 332h4M888 332h4M944 332h8M624 336h12M692 336h4M888 336h4M928 336h8M620 340h16M868 340h4M620 344h16M704 344h4M872 344h4M884 344h4M620 348h16M720 348h4M876 348h8M624 352h12M728 352h4M832 352h4M844 352h4M628 356h8M736 356h4M848 356h4M920 356h4M632 360h4M920 360h4M748 364h4M920 364h4M276 368h28M852 368h4M272 372h32M768 372h4M268 376h8M288 376h12M780 376h36M264 380h12M288 380h8M912 380h4M264 384h12M284 384h8M820 384h4M912 384h4M264 388h28M264 392h28M816 392h4M864 392h4M268 396h20M836 396h4M864 396h4M268 400h20M916 400h4M268 404h20M656 404h12M808 404h4M920 404h4M264 408h24M652 408h8M664 408h8M788 408h20M924 408h4M256 412h32M652 412h4M672 412h4M784 412h8M928 412h4M252 416h40M652 416h4M676 416h4M784 416h4M932 416h20M252 420h4M280 420h12M648 420h8M676 420h4M784 420h4M248 424h4M280 424h12M648 424h8M676 424h4M248 428h4M280 428h8M648 428h8M676 428h4M780 428h4M248 432h4M280 432h4M648 432h8M672 432h4M936 432h4M248 436h4M280 436h4M648 436h24M784 436h4M248 440h4M276 440h8M656 440h12M784 440h8M244 444h8M276 444h4M484 444h8M536 444h4M788 444h4M244 448h8M276 448h4M472 448h4M548 448h4M236 452h4M248 452h4M272 452h8M468 452h4M556 452h4M792 452h4M236 456h4M248 456h8M272 456h8M460 456h4M560 456h4M796 456h4M236 460h4M248 460h12M268 460h12M456 460h4M560 460h4M988 460h16M248 464h32M456 464h4M552 464h8M976 464h28M248 468h32M432 468h8M456 468h4M544 468h8M968 468h36M252 472h28M428 472h4M444 472h4M460 472h8M536 472h8M960 472h44M252 476h28M472 476h4M524 476h12M812 476h4M952 476h52M256 480h24M448 480h4M484 480h44M812 480h4M876 480h12M948 480h56M260 484h20M448 484h4M508 484h16M948 484h56M264 488h16M808 488h4M868 488h4M892 488h4M948 488h56M264 492h16M416 492h4M512 492h16M868 492h4M948 492h56M268 496h12M412 496h4M452 496h4M504 496h56M804 496h4M884 496h4M276 500h8M408 500h4M496 500h16M560 500h8M804 500h4M400 504h4M472 504h24M568 504h4M804 504h4M932 504h4M400 508h4M572 508h4M576 512h4M928 512h4M292 516h8M400 516h4M808 516h4M920 516h8M292 520h8M400 520h4M580 520h4M904 520h4M296 524h8M404 524h4M584 524h4M816 524h4M296 528h8M348 528h24M404 528h4M588 528h4M824 528h4M948 528h32M296 532h12M336 532h8M372 532h8M404 532h4M584 532h8M712 532h4M952 532h20M296 536h36M380 536h4M400 536h4M584 536h8M712 536h8M952 536h12M296 540h12M384 540h16M712 540h8M296 544h4M708 544h4M720 544h4M828 544h4M928 544h8M292 548h4M616 548h24M708 548h4M724 548h4M780 548h12M808 548h4M892 548h4M292 552h4M568 552h4M612 552h12M640 552h4M708 552h20M784 552h4M936 552h4M608 556h12M648 556h20M788 556h4M604 560h12M692 560h8M788 560h4M288 564h4M604 564h12M700 564h4M792 564h4M288 568h12M600 568h16M704 568h4M304 572h4M568 572h4M596 572h16M980 572h4M312 576h4M568 576h4M588 576h20M708 576h4M796 576h4M324 580h4M576 580h16M712 584h4M800 584h4M332 588h4M716 588h4M728 588h12M804 588h4M848 588h4M744 592h4M804 592h20M856 592h4M756 596h4M804 596h4M336 600h4M768 600h4M796 600h12M336 604h4M780 604h12M800 604h8M336 608h4M804 608h4M336 612h4M808 612h4M336 616h4M332 620h4M352 620h16M328 624h8M344 624h8M368 624h4M304 628h28M344 628h4M120 632h24M312 632h16M340 632h4M372 632h4M120 636h44M296 636h4M316 636h12M336 636h8M372 636h4M656 636h20M120 640h44M172 640h4M292 640h4M320 640h24M656 640h20M796 640h12M120 644h44M168 644h8M292 644h4M320 644h20M792 644h20M120 648h56M332 648h8M372 648h4M788 648h8M808 648h8M120 652h52M336 652h8M372 652h4M788 652h8M812 652h4M120 656h52M340 656h4M372 656h4M788 656h8M812 656h4M120 660h56M284 660h4M340 660h4M784 660h12M812 660h4M120 664h60M280 664h4M344 664h4M368 664h4M780 664h12M812 664h4M120 668h68M348 668h8M364 668h8M776 668h16M808 668h8M120 672h44M172 672h20M356 672h16M772 672h44M120 676h40M176 676h16M356 676h8M368 676h4M772 676h40M120 680h32M180 680h16M268 680h4M352 680h4M372 680h4M772 680h40M180 684h28M264 684h4M348 684h4M772 684h32M180 688h4M212 688h4M260 688h4M348 688h4M376 688h4M772 688h28M180 692h4M224 692h4M252 692h8M348 692h4M772 692h24M236 696h16M348 696h4M772 696h24M380 700h4M772 700h20M380 704h4M776 704h12M176 708h4M380 708h4M780 708h4M364 712h4M380 712h4M172 716h4M368 716h16M172 720h4M368 720h12M120 724h12M172 724h4M368 724h8M120 728h24M172 728h4M364 728h12M120 732h36M168 732h8M356 732h20M120 736h56M340 736h40M120 740h56M336 740h44M120 744h56M332 744h28M364 744h16M120 748h52M332 748h48M120 752h32M332 752h48M120 756h32M332 756h48M120 760h32M332 760h44M120 764h36M328 764h48M120 768h40M324 768h56M120 772h40M324 772h56M120 776h40M324 776h56M120 780h40M324 780h56M120 784h40M324 784h56"/>
<path stroke="#626262" d="M452 72h4M452 76h4M452 80h4M456 84h4M456 88h4M456 92h4M456 96h4M460 100h4M460 104h8M460 108h16M468 112h8M468 116h8M468 120h8M468 124h4M740 124h4M752 124h8M736 128h4M764 128h4M732 132h4M768 132h4M468 136h4M732 136h4M768 136h4M468 140h4M728 140h4M768 140h4M468 144h4M728 144h4M468 148h4M728 148h4M468 152h4M728 152h8M468 156h4M732 156h4M764 156h4M468 160h4M468 164h4M748 164h4M468 168h8M468 172h12M468 176h12M468 180h16M472 184h20M476 188h20M480 192h16M480 196h16M616 196h16M480 200h16M612 200h4M640 200h4M480 204h12M640 204h4M732 204h4M740 204h4M480 208h12M608 208h4M640 208h4M480 212h12M608 212h4M640 212h4M728 212h4M480 216h12M608 216h4M728 216h4M480 220h16M728 220h4M480 224h20M636 224h4M732 224h4M484 228h20M620 228h16M732 228h4M488 232h20M504 236h8M736 236h4M776 236h4M512 240h4M780 244h4M516 248h4M740 248h4M780 248h4M516 252h4M740 252h4M780 252h4M516 256h4M740 256h4M780 256h4M740 260h4M512 264h4M780 264h4M508 268h8M736 268h4M508 272h8M736 272h4M788 272h4M508 276h12M736 276h4M516 280h20M736 280h4M532 284h16M736 284h4M548 288h8M808 288h4M560 292h8M740 292h4M812 292h4M572 296h4M740 296h4M812 296h8M576 300h8M744 300h4M808 300h8M584 304h36M744 304h4M800 304h4M616 308h36M748 308h4M792 308h4M628 312h36M756 312h24M664 316h8M868 316h8M668 320h8M864 320h4M880 320h4M672 324h12M864 324h4M884 324h4M676 328h16M888 328h4M692 332h4M696 336h4M864 336h4M700 340h4M888 340h4M708 344h8M724 348h4M836 348h8M872 348h4M884 348h4M920 348h4M732 352h4M848 352h4M876 352h8M920 352h4M740 356h4M828 356h4M744 360h4M824 364h4M852 364h4M756 368h4M856 372h4M916 372h4M276 376h12M912 376h4M276 380h12M860 380h4M276 384h8M832 388h4M864 388h4M912 396h4M812 400h4M840 400h4M660 408h4M656 412h16M792 412h12M656 416h4M668 416h8M788 416h8M928 416h4M256 420h24M656 420h4M672 420h4M788 420h4M932 420h8M252 424h4M268 424h12M656 424h4M672 424h4M784 424h8M932 424h4M252 428h4M272 428h8M656 428h4M672 428h4M784 428h8M932 428h4M252 432h4M272 432h8M656 432h16M784 432h8M932 432h4M272 436h8M788 436h4M932 436h8M272 440h4M792 440h4M936 440h4M272 444h4M492 444h44M792 444h4M252 448h4M268 448h8M476 448h4M544 448h4M792 448h4M252 452h20M552 452h4M796 452h4M996 452h8M256 456h16M464 456h4M556 456h4M980 456h24M260 460h8M460 460h4M556 460h4M800 460h4M972 460h16M460 464h4M548 464h4M804 464h4M964 464h12M460 468h4M536 468h8M808 468h4M956 468h12M432 472h12M468 472h4M524 472h12M812 472h4M952 472h8M428 476h4M440 476h8M476 476h8M508 476h16M816 476h4M940 476h12M424 480h4M444 480h4M872 480h4M936 480h4M812 484h4M868 484h4M892 484h4M420 488h4M448 488h4M808 492h4M892 492h4M512 500h48M932 500h4M404 504h4M456 504h4M496 504h24M564 504h4M488 508h8M568 508h4M928 508h4M400 512h4M572 512h4M808 512h4M920 512h8M576 516h4M912 516h8M404 520h4M812 520h4M900 520h4M580 524h4M896 524h4M408 528h4M584 528h4M892 528h4M344 532h28M408 532h4M580 532h4M332 536h8M372 536h8M404 536h4M580 536h4M308 540h20M380 540h4M400 540h4M576 540h4M300 544h16M392 544h4M572 544h4M712 544h8M296 548h8M568 548h4M712 548h12M792 548h16M924 548h12M296 552h4M624 552h16M788 552h8M900 552h12M292 556h4M564 556h4M620 556h28M792 556h4M936 556h4M292 560h4M564 560h4M616 560h12M680 560h12M792 560h4M292 564h8M564 564h4M616 564h12M796 564h4M300 568h4M564 568h4M616 568h8M796 568h4M948 568h4M308 572h4M564 572h4M612 572h12M796 572h4M316 576h4M608 576h16M328 580h4M568 580h8M592 580h32M708 580h4M800 580h4M332 584h4M576 584h44M852 584h4M600 588h20M712 588h4M808 588h4M828 588h20M856 588h4M608 592h8M716 592h8M740 592h4M336 596h4M752 596h4M856 596h4M764 600h4M852 600h4M776 604h4M792 604h8M848 604h4M340 608h4M796 608h8M844 608h4M340 612h4M804 612h4M836 612h4M340 616h36M808 616h12M336 620h16M368 620h8M336 624h8M372 624h8M332 628h12M372 628h8M644 628h48M800 628h4M300 632h12M328 632h12M376 632h4M640 632h52M796 632h12M312 636h4M328 636h8M376 636h4M640 636h16M676 636h16M792 636h20M164 640h8M296 640h4M316 640h4M376 640h4M640 640h16M676 640h16M788 640h8M808 640h8M164 644h4M316 644h4M376 644h4M644 644h44M788 644h4M812 644h4M320 648h12M376 648h4M648 648h40M784 648h4M816 648h4M324 652h12M376 652h4M656 652h24M784 652h4M816 652h4M288 656h4M332 656h8M376 656h4M780 656h8M816 656h4M336 660h4M372 660h4M776 660h8M816 660h4M340 664h4M372 664h4M772 664h8M816 664h4M344 668h4M372 668h4M772 668h4M816 668h4M276 672h4M348 672h8M372 672h4M768 672h4M816 672h4M272 676h4M348 676h8M372 676h4M768 676h4M812 676h8M272 680h4M348 680h4M768 680h4M812 680h4M268 684h4M344 684h4M376 684h4M764 684h8M804 684h12M184 688h28M264 688h4M344 688h4M764 688h8M800 688h12M184 692h4M216 692h8M260 692h4M344 692h4M380 692h4M572 692h8M764 692h8M796 692h12M180 696h4M228 696h8M252 696h4M344 696h4M380 696h4M764 696h8M796 696h8M180 700h4M348 700h4M384 700h4M764 700h8M792 700h12M180 704h4M352 704h4M384 704h4M764 704h12M788 704h12M356 708h4M384 708h4M768 708h12M784 708h16M176 712h4M360 712h4M384 712h4M768 712h28M360 716h8M384 716h4M776 716h16M360 720h8M380 720h8M356 724h12M376 724h12M340 728h24M376 728h12M176 732h4M328 732h28M376 732h12M176 736h4M324 736h16M380 736h12M176 740h4M320 740h16M380 740h12M176 744h4M320 744h12M380 744h16M172 748h8M316 748h16M380 748h16M152 752h28M316 752h16M380 752h16M152 756h28M316 756h16M380 756h12M152 760h24M316 760h16M376 760h16M156 764h16M316 764h12M376 764h12M160 768h12M316 768h8M380 768h4M160 772h12M316 772h8M380 772h4M160 776h12M316 776h8M380 776h4M160 780h12M316 780h8M380 780h4M160 784h12M316 784h8M380 784h4"/>
<path stroke="#646464" d="M456 72h64M456 76h64M456 80h64M460 84h56M460 88h56M460 92h52M460 96h36M464 100h28M468 104h24M476 108h16M484 112h8M484 116h8M484 120h8M740 120h12M472 124h4M484 124h8M736 124h4M760 124h8M472 128h4M484 128h8M732 128h4M768 128h4M472 132h4M484 132h8M728 132h4M472 136h4M484 136h4M728 136h4M480 140h8M724 140h4M476 144h12M724 144h4M768 144h4M472 148h16M724 148h4M472 152h16M724 152h4M472 156h16M728 156h4M472 160h16M732 160h8M472 164h16M744 164h4M760 164h4M476 168h12M480 172h12M480 176h20M484 180h24M492 184h20M496 188h16M496 192h12M496 196h12M612 196h4M632 196h8M496 200h12M608 200h4M492 204h12M608 204h4M728 204h4M744 204h4M492 208h12M728 208h4M756 208h4M492 212h12M724 212h4M768 212h4M492 216h16M640 216h4M724 216h4M772 216h4M496 220h12M608 220h4M640 220h4M500 224h12M612 224h4M728 224h4M504 228h8M616 228h4M636 228h4M508 232h8M624 232h8M732 232h4M776 232h4M512 236h4M516 240h4M736 240h4M780 240h4M516 244h4M736 244h4M516 260h4M780 260h4M516 264h4M736 264h4M516 268h4M516 272h8M520 276h20M536 280h12M548 284h8M804 284h4M556 288h8M736 288h4M568 292h8M736 292h4M816 292h4M576 296h8M820 296h4M584 300h44M740 300h4M816 300h8M620 304h32M740 304h4M804 304h8M652 308h16M744 308h4M796 308h4M860 308h8M664 312h8M748 312h8M780 312h4M860 312h16M672 316h8M860 316h8M876 316h4M676 320h8M860 320h4M684 324h4M860 324h4M972 324h4M692 328h4M860 328h4M956 328h4M860 332h4M940 332h4M924 336h4M704 340h4M864 340h4M716 344h4M868 344h4M888 344h4M920 344h4M728 348h4M844 348h4M736 352h4M872 352h4M884 352h4M852 356h4M876 356h8M748 360h4M852 360h4M752 364h4M760 368h4M820 368h4M856 368h4M916 368h4M772 372h4M816 372h4M912 372h4M860 376h4M908 380h4M824 384h8M864 384h4M908 384h4M820 388h4M908 388h4M832 392h4M908 392h4M816 396h4M832 396h4M836 400h4M864 400h4M912 400h4M812 404h4M848 404h8M916 404h4M808 408h4M920 408h4M804 412h4M924 412h4M660 416h8M796 416h8M660 420h12M792 420h8M928 420h4M960 420h4M256 424h12M660 424h12M792 424h8M936 424h4M984 424h4M256 428h4M264 428h8M660 428h12M792 428h4M936 428h4M268 432h4M792 432h4M252 436h4M268 436h4M792 436h8M252 440h4M268 440h4M796 440h4M932 440h4M252 444h4M268 444h4M796 444h4M936 444h4M256 448h12M480 448h4M796 448h4M472 452h4M548 452h4M800 452h4M992 452h4M468 456h4M552 456h4M800 456h4M976 456h4M464 460h4M548 460h8M804 460h4M968 460h4M464 464h4M540 464h8M808 464h4M960 464h4M464 468h8M528 468h8M812 468h4M952 468h4M472 472h4M512 472h12M816 472h4M948 472h4M432 476h8M484 476h24M936 476h4M440 480h4M816 480h4M888 480h4M424 484h4M444 484h4M896 484h4M932 484h4M812 488h4M896 488h4M932 488h4M448 492h4M932 492h4M416 496h4M808 496h4M868 496h4M888 496h4M932 496h4M412 500h4M452 500h4M876 500h4M408 504h4M520 504h44M808 504h4M928 504h4M404 508h4M464 508h4M480 508h8M496 508h40M560 508h8M808 508h4M924 508h4M404 512h4M568 512h4M916 512h4M404 516h4M572 516h4M812 516h4M904 516h8M408 520h4M576 520h4M408 524h4M576 524h4M820 524h4M580 528h4M828 528h4M576 532h4M340 536h12M364 536h8M408 536h4M576 536h4M888 536h4M328 540h8M372 540h8M404 540h4M572 540h4M888 540h4M316 544h12M380 544h12M396 544h8M568 544h4M888 544h4M304 548h12M828 548h4M300 552h8M564 552h4M796 552h8M808 552h20M896 552h4M912 552h8M932 552h4M296 556h8M796 556h4M296 560h8M628 560h32M668 560h12M796 560h4M300 564h4M628 564h8M696 564h4M304 568h4M624 568h8M700 568h4M312 572h4M624 572h8M704 572h4M320 576h8M564 576h4M624 576h8M800 576h4M624 580h4M568 584h8M620 584h8M708 584h4M804 584h4M848 584h4M336 588h4M572 588h28M620 588h8M812 588h4M824 588h4M336 592h4M588 592h20M616 592h12M712 592h4M724 592h16M340 596h4M596 596h32M748 596h4M340 600h4M604 600h24M760 600h4M340 604h8M608 604h20M772 604h4M344 608h40M784 608h12M344 612h44M796 612h8M376 616h16M796 616h12M820 616h8M376 620h16M636 620h16M796 620h16M380 624h12M636 624h60M796 624h16M380 628h8M636 628h8M692 628h4M792 628h8M804 628h8M380 632h8M636 632h4M692 632h4M788 632h8M808 632h4M300 636h4M308 636h4M380 636h8M632 636h8M692 636h4M788 636h4M812 636h4M312 640h4M380 640h8M632 640h8M692 640h4M784 640h4M296 644h4M380 644h8M632 644h12M688 644h8M780 644h8M816 644h4M316 648h4M380 648h8M636 648h12M688 648h4M780 648h4M820 648h4M292 652h4M320 652h4M380 652h8M640 652h16M680 652h12M780 652h4M820 652h4M324 656h8M380 656h8M652 656h36M776 656h4M820 656h4M328 660h8M376 660h8M660 660h24M772 660h4M820 660h4M332 664h8M376 664h8M768 664h4M820 664h4M280 668h4M336 668h8M376 668h8M768 668h4M820 668h4M340 672h8M376 672h4M764 672h4M820 672h4M276 676h4M340 676h8M376 676h4M764 676h4M820 676h4M340 680h8M376 680h4M764 680h4M816 680h4M272 684h4M340 684h4M380 684h4M760 684h4M816 684h4M268 688h4M340 688h4M380 688h4M760 688h4M812 688h4M188 692h8M204 692h12M264 692h4M340 692h4M384 692h4M580 692h4M760 692h4M808 692h4M184 696h4M224 696h4M256 696h8M340 696h4M384 696h8M572 696h8M760 696h4M804 696h8M236 700h20M340 700h8M388 700h8M756 700h8M804 700h4M344 704h8M388 704h8M760 704h4M800 704h8M180 708h4M352 708h4M388 708h8M760 708h8M800 708h4M352 712h8M388 712h8M760 712h8M796 712h8M176 716h4M352 716h8M388 716h8M764 716h12M792 716h8M176 720h4M348 720h12M388 720h8M772 720h24M176 724h4M328 724h28M388 724h8M176 728h4M324 728h16M388 728h8M316 732h12M388 732h12M180 736h4M312 736h12M392 736h12M180 740h4M308 740h12M392 740h20M704 740h16M180 744h4M304 744h16M396 744h16M704 744h20M180 748h8M304 748h12M396 748h16M704 748h20M180 752h4M304 752h12M396 752h16M704 752h20M180 756h4M304 756h12M392 756h16M704 756h20M176 760h8M308 760h8M392 760h16M704 760h20M172 764h16M312 764h4M388 764h20M700 764h24M172 768h20M312 768h4M384 768h24M700 768h24M172 772h20M312 772h4M384 772h28M700 772h24M172 776h20M312 776h4M384 776h28M700 776h24M172 780h20M312 780h4M384 780h28M700 780h24M172 784h20M312 784h4M384 784h28M700 784h24"/>
<path stroke="#666666" d="M520 72h8M520 76h8M520 80h8M516 84h12M516 88h12M512 92h12M496 96h28M492 100h32M492 104h32M492 108h32M476 112h8M492 112h28M476 116h8M492 116h28M476 120h8M492 120h28M736 120h4M752 120h12M476 124h8M492 124h28M728 124h8M768 124h4M476 128h8M492 128h28M724 128h8M476 132h8M492 132h28M720 132h8M476 136h8M488 136h32M720 136h8M472 140h8M488 140h32M720 140h4M472 144h4M488 144h32M720 144h4M488 148h32M720 148h4M768 148h4M488 152h32M720 152h4M488 156h32M724 156h4M488 160h28M728 160h4M764 160h4M488 164h32M740 164h4M488 168h36M492 172h40M564 172h4M500 176h32M560 176h12M508 180h24M564 180h4M512 184h16M512 188h12M744 188h8M508 192h8M612 192h24M508 196h8M608 196h4M640 196h4M508 200h4M604 200h4M644 200h4M728 200h12M504 204h8M604 204h4M644 204h4M724 204h4M504 208h8M604 208h4M644 208h4M724 208h4M760 208h4M504 212h8M604 212h4M644 212h4M508 216h4M604 216h4M508 220h8M724 220h4M512 224h4M640 224h4M724 224h4M776 224h4M512 228h4M728 228h4M776 228h4M620 232h4M632 232h8M516 236h4M732 236h4M520 240h4M520 244h4M520 248h4M736 248h4M520 252h8M736 252h4M520 256h8M736 256h4M520 260h4M736 260h4M520 264h8M520 268h8M732 268h4M784 268h4M524 272h16M732 272h4M540 276h8M732 276h4M796 276h4M548 280h4M732 280h4M800 280h4M556 284h4M732 284h4M564 288h8M732 288h4M812 288h4M576 292h8M608 292h28M820 292h4M584 296h60M736 296h4M824 296h4M628 300h28M736 300h4M824 300h8M652 304h16M812 304h20M852 304h20M668 308h4M740 308h4M800 308h4M852 308h8M868 308h8M672 312h8M744 312h4M784 312h8M856 312h4M876 312h4M680 316h4M752 316h16M856 316h4M880 316h4M684 320h4M856 320h4M884 320h4M688 324h4M888 324h4M696 332h4M892 332h4M700 336h4M860 336h4M892 336h4M860 340h4M892 340h4M920 340h4M720 344h8M840 344h4M864 344h4M732 348h4M832 348h4M848 348h4M868 348h4M888 348h4M852 352h4M744 356h4M872 356h4M884 356h4M876 360h12M756 364h4M856 364h4M880 364h4M916 364h4M764 368h4M776 372h4M808 372h8M860 372h4M908 372h4M904 376h8M864 380h4M904 380h4M904 384h4M824 388h8M904 388h4M820 392h4M828 392h4M868 392h4M868 396h4M908 396h4M816 400h4M844 404h4M856 404h4M808 412h4M804 416h4M924 416h4M800 420h4M940 420h4M956 420h4M800 424h4M928 424h4M976 424h8M260 428h4M796 428h8M256 432h12M796 432h8M256 436h12M800 436h4M256 440h12M800 440h4M256 444h12M800 444h4M932 444h4M484 448h8M536 448h8M800 448h4M936 448h4M1000 448h4M476 452h4M544 452h4M804 452h4M936 452h4M984 452h8M472 456h4M548 456h4M804 456h4M972 456h4M468 460h4M540 460h8M808 460h4M964 460h4M468 464h4M528 464h12M812 464h4M472 468h4M512 468h16M816 468h4M476 472h36M820 472h4M944 472h4M820 476h4M428 480h12M868 480h4M892 480h4M932 480h4M440 484h4M816 484h4M900 484h4M928 484h4M444 488h4M900 488h4M924 488h8M420 492h4M812 492h4M896 492h4M928 492h4M808 500h4M872 500h4M880 500h4M928 500h4M924 504h4M408 508h4M460 508h4M468 508h12M536 508h24M920 508h4M408 512h4M488 512h80M812 512h4M912 512h4M408 516h4M496 516h12M568 516h4M572 520h4M816 520h4M896 520h4M824 524h4M892 524h4M412 528h4M576 528h4M412 532h4M572 532h4M888 532h4M352 536h12M572 536h4M832 536h4M336 540h12M364 540h8M408 540h4M568 540h4M832 540h4M328 544h8M372 544h8M404 544h4M564 544h4M316 548h12M380 548h24M564 548h4M888 548h4M308 552h12M560 552h4M804 552h4M920 552h4M304 556h12M560 556h4M800 556h4M304 560h8M560 560h4M660 560h8M800 560h4M936 560h4M304 564h8M560 564h4M636 564h12M688 564h8M800 564h4M940 564h4M308 568h8M560 568h4M632 568h8M800 568h4M944 568h4M316 572h8M560 572h4M632 572h4M800 572h4M328 576h4M632 576h4M704 576h4M332 580h4M564 580h4M628 580h8M804 580h4M336 584h4M564 584h4M628 584h8M808 584h4M856 584h4M568 588h4M628 588h8M708 588h4M816 588h8M340 592h8M428 592h4M572 592h16M628 592h8M708 592h4M860 592h4M344 596h36M428 596h8M580 596h16M628 596h8M712 596h12M744 596h4M344 600h40M592 600h12M628 600h8M756 600h4M348 604h44M596 604h12M628 604h8M768 604h4M384 608h12M604 608h36M780 608h4M388 612h12M612 612h36M788 612h8M840 612h4M392 616h16M620 616h32M792 616h4M828 616h4M392 620h16M628 620h8M652 620h20M684 620h16M792 620h4M812 620h4M392 624h16M628 624h8M696 624h4M788 624h8M812 624h4M388 628h20M628 628h8M696 628h4M788 628h4M812 628h4M388 632h20M628 632h8M696 632h4M784 632h4M812 632h4M304 636h4M388 636h20M628 636h4M696 636h4M784 636h4M300 640h4M388 640h20M628 640h4M696 640h4M780 640h4M816 640h4M312 644h4M388 644h20M628 644h4M820 644h4M388 648h20M628 648h8M692 648h4M776 648h4M824 648h4M316 652h4M388 652h20M632 652h8M692 652h4M772 652h8M824 652h4M320 656h4M388 656h20M636 656h16M688 656h4M772 656h4M824 656h4M324 660h4M384 660h24M648 660h12M684 660h8M768 660h4M824 660h4M284 664h4M328 664h4M384 664h24M660 664h28M764 664h4M824 664h4M332 668h4M384 668h20M764 668h4M824 668h4M280 672h4M332 672h8M380 672h24M760 672h4M824 672h4M336 676h4M380 676h24M760 676h4M276 680h4M336 680h4M380 680h28M760 680h4M820 680h4M276 684h4M336 684h4M384 684h24M756 684h4M820 684h4M272 688h4M332 688h8M384 688h24M576 688h4M756 688h4M816 688h4M196 692h8M268 692h8M332 692h8M388 692h20M756 692h4M812 692h4M188 696h8M212 696h12M264 696h8M332 696h8M392 696h16M580 696h4M756 696h4M812 696h4M184 700h4M228 700h8M256 700h16M332 700h8M396 700h12M752 700h4M808 700h4M244 704h28M332 704h12M396 704h8M752 704h8M808 704h4M256 708h16M332 708h20M396 708h8M756 708h4M804 708h4M180 712h4M256 712h16M332 712h20M396 712h8M756 712h4M804 712h4M260 716h12M328 716h24M396 716h8M756 716h8M800 716h4M264 720h4M324 720h24M396 720h8M760 720h12M796 720h8M316 724h12M396 724h8M696 724h4M772 724h28M180 728h4M312 728h12M396 728h12M696 728h8M180 732h4M304 732h12M400 732h16M696 732h12M296 736h16M404 736h16M696 736h28M184 740h4M296 740h12M412 740h12M696 740h8M720 740h12M184 744h4M296 744h8M412 744h16M696 744h8M724 744h8M296 748h8M412 748h16M696 748h8M724 748h12M184 752h4M296 752h8M412 752h12M696 752h8M724 752h12M184 756h4M296 756h8M408 756h16M700 756h4M724 756h12M184 760h8M292 760h16M408 760h8M700 760h4M724 760h8M188 764h4M288 764h24M408 764h8M724 764h4M288 768h24M408 768h8M724 768h4M288 772h24M288 776h24M288 780h24M288 784h24"/>
<path stroke="#686868" d="M528 72h8M936 72h68M528 76h8M932 76h72M528 80h8M932 80h72M528 84h8M928 84h76M528 88h8M924 88h80M524 92h16M924 92h80M524 96h20M920 96h84M524 100h36M916 100h88M524 104h36M916 104h88M524 108h36M912 108h92M520 112h36M912 112h92M520 116h36M736 116h16M912 116h92M520 120h32M712 120h24M764 120h4M944 120h60M520 124h32M712 124h16M520 128h32M708 128h16M772 128h4M520 132h36M712 132h8M772 132h4M520 136h36M712 136h8M772 136h4M520 140h40M712 140h8M520 144h52M712 144h8M520 148h64M712 148h8M520 152h64M716 152h4M520 156h68M716 156h8M516 160h72M720 160h8M520 164h72M728 164h12M524 168h68M532 172h32M568 172h24M532 176h28M572 176h16M532 180h32M568 180h20M528 184h60M524 188h16M564 188h20M612 188h20M740 188h4M516 192h12M604 192h8M636 192h8M516 196h4M600 196h8M644 196h4M724 196h12M512 200h4M600 200h4M648 200h4M724 200h4M512 204h4M600 204h4M720 204h4M748 204h4M512 208h4M600 208h4M720 208h4M512 212h4M600 212h4M720 212h4M512 216h4M600 216h4M644 216h4M720 216h4M604 220h4M644 220h4M720 220h4M776 220h4M608 224h4M516 228h4M612 228h4M640 228h4M724 228h4M516 232h4M616 232h4M640 232h4M728 232h4M520 236h4M624 236h16M780 236h4M864 236h12M524 240h4M732 240h4M864 240h16M524 244h4M732 244h4M784 244h4M864 244h16M524 248h8M784 248h4M864 248h12M528 252h4M528 256h4M524 260h8M528 264h8M732 264h4M528 268h16M540 272h8M548 276h4M632 276h12M552 280h8M628 280h20M560 284h8M620 284h28M572 288h8M608 288h44M584 292h24M636 292h20M732 292h4M824 292h4M644 296h16M732 296h4M828 296h8M656 300h12M832 300h40M668 304h4M736 304h4M832 304h20M872 304h4M672 308h4M736 308h4M804 308h48M876 308h4M680 312h4M740 312h4M792 312h4M848 312h8M880 312h4M684 316h4M744 316h8M768 316h8M852 316h4M884 316h4M688 320h4M852 320h4M888 320h4M692 324h4M856 324h4M696 328h4M856 328h4M892 328h4M856 332h4M856 336h4M920 336h4M708 340h8M728 344h4M836 344h4M844 344h8M860 344h4M892 344h4M736 348h4M852 348h4M740 352h4M828 352h4M868 352h4M888 352h4M748 356h4M888 356h4M752 360h4M824 360h4M856 360h4M872 360h4M888 360h4M916 360h4M876 364h4M884 364h8M768 368h4M860 368h4M876 368h20M912 368h4M780 372h4M800 372h8M880 372h28M864 376h4M888 376h16M896 380h8M868 384h4M900 384h4M868 388h4M824 392h4M904 392h4M820 396h12M832 400h4M868 400h4M860 404h4M812 408h4M920 412h4M808 416h4M804 420h4M944 420h4M952 420h4M804 424h4M968 424h8M928 428h4M992 428h12M804 432h4M928 432h4M940 432h4M804 436h4M940 436h4M804 440h4M804 444h4M492 448h44M804 448h4M932 448h4M996 448h4M480 452h4M540 452h4M808 452h4M932 452h4M980 452h4M540 456h8M808 456h4M932 456h8M968 456h4M472 460h4M532 460h8M812 460h4M936 460h4M472 464h4M516 464h12M816 464h4M936 464h4M956 464h4M476 468h4M500 468h12M820 468h4M936 468h4M948 468h4M824 472h4M932 472h12M824 476h4M876 476h12M932 476h4M820 480h4M896 480h8M920 480h12M428 484h4M436 484h4M904 484h24M424 488h4M816 488h4M864 488h4M904 488h20M444 492h4M864 492h4M900 492h4M912 492h16M448 496h4M812 496h4M892 496h4M928 496h4M416 500h4M884 500h4M924 500h4M412 504h4M920 504h4M456 508h4M812 508h4M912 508h8M484 512h4M908 512h4M488 516h8M508 516h60M900 516h4M412 520h4M492 520h60M568 520h4M412 524h4M572 524h4M572 528h4M888 528h4M568 532h4M832 532h4M412 536h4M568 536h4M348 540h16M564 540h4M336 544h4M364 544h8M408 544h4M560 544h4M832 544h4M328 548h8M372 548h8M404 548h4M560 548h4M320 552h12M380 552h12M556 552h4M828 552h4M892 552h4M924 552h8M316 556h12M556 556h4M804 556h16M932 556h4M312 560h12M556 560h4M804 560h4M312 564h8M556 564h4M648 564h8M676 564h12M804 564h4M316 568h8M640 568h4M696 568h4M324 572h8M636 572h4M700 572h4M804 572h4M976 572h4M332 576h4M560 576h4M636 576h4M804 576h4M336 580h4M560 580h4M636 580h4M704 580h4M852 580h4M340 584h4M636 584h4M704 584h4M812 584h4M844 584h4M340 588h36M428 588h8M564 588h4M636 588h4M860 588h4M348 592h32M424 592h4M432 592h8M568 592h4M636 592h4M380 596h4M424 596h4M436 596h8M572 596h8M636 596h4M708 596h4M724 596h8M736 596h8M860 596h4M384 600h8M420 600h24M580 600h12M636 600h4M708 600h12M752 600h4M856 600h4M392 604h4M420 604h24M588 604h8M636 604h8M704 604h8M764 604h4M852 604h4M396 608h40M596 608h8M640 608h8M700 608h8M776 608h4M848 608h4M400 612h28M604 612h8M648 612h8M696 612h12M784 612h4M408 616h16M612 616h8M652 616h12M688 616h16M784 616h8M832 616h4M408 620h16M616 620h12M672 620h12M700 620h4M784 620h8M816 620h4M408 624h12M620 624h8M700 624h4M784 624h4M816 624h4M408 628h12M624 628h4M700 628h4M784 628h4M816 628h4M408 632h8M624 632h4M700 632h4M780 632h4M816 632h4M408 636h8M624 636h4M780 636h4M816 636h4M304 640h8M408 640h8M624 640h4M776 640h4M820 640h4M408 644h8M624 644h4M696 644h4M776 644h4M824 644h4M296 648h4M312 648h4M408 648h8M624 648h4M696 648h4M772 648h4M408 652h8M624 652h8M828 652h4M408 656h8M628 656h8M692 656h4M768 656h4M828 656h4M288 660h4M320 660h4M408 660h8M636 660h12M764 660h4M828 660h4M324 664h4M408 664h8M652 664h8M688 664h4M828 664h4M284 668h4M328 668h4M404 668h12M664 668h24M760 668h4M828 668h4M328 672h4M404 672h12M280 676h4M328 676h8M404 676h12M756 676h4M824 676h4M280 680h4M328 680h8M408 680h8M756 680h4M824 680h4M328 684h8M408 684h8M276 688h4M328 688h4M408 688h8M572 688h4M580 688h4M752 688h4M820 688h4M276 692h4M328 692h4M408 692h8M568 692h4M752 692h4M816 692h4M196 696h16M272 696h8M324 696h8M408 696h4M568 696h4M752 696h4M816 696h4M188 700h4M224 700h4M272 700h8M324 700h8M408 700h4M748 700h4M812 700h4M184 704h4M236 704h8M272 704h12M324 704h8M404 704h8M748 704h4M812 704h4M184 708h4M248 708h8M272 708h12M324 708h8M404 708h8M752 708h4M808 708h4M252 712h4M272 712h12M324 712h8M404 712h4M752 712h4M808 712h4M180 716h4M252 716h8M272 716h16M320 716h8M404 716h8M752 716h4M804 716h4M180 720h4M256 720h8M268 720h24M316 720h8M404 720h8M692 720h8M752 720h8M804 720h4M180 724h4M260 724h16M280 724h16M308 724h8M404 724h12M692 724h4M700 724h4M752 724h20M800 724h8M284 728h28M408 728h12M692 728h4M704 728h4M748 728h12M776 728h28M284 732h20M416 732h12M692 732h4M708 732h16M184 736h4M284 736h12M420 736h12M692 736h4M724 736h16M188 740h4M288 740h8M424 740h8M692 740h4M732 740h12M188 744h4M288 744h8M428 744h8M692 744h4M732 744h12M188 748h4M288 748h8M428 748h4M692 748h4M736 748h8M188 752h4M288 752h8M424 752h8M692 752h4M736 752h8M188 756h4M288 756h8M424 756h8M696 756h4M736 756h8M284 760h8M416 760h16M696 760h4M732 760h12M192 764h4M284 764h4M416 764h16M696 764h4M728 764h20M192 768h4M284 768h4M416 768h20M696 768h4M728 768h20M192 772h4M284 772h4M412 772h24M696 772h4M724 772h24M192 776h4M284 776h4M412 776h24M696 776h4M724 776h28M192 780h4M284 780h4M412 780h24M696 780h4M724 780h28M192 784h4M284 784h4M412 784h24M696 784h4M724 784h28"/>
<path stroke="#6a6a6a" d="M536 72h64M732 72h8M932 72h4M536 76h64M728 76h12M928 76h4M536 80h64M728 80h12M928 80h4M536 84h64M728 84h12M924 84h4M536 88h64M724 88h16M920 88h4M540 92h64M724 92h20M920 92h4M544 96h60M724 96h12M916 96h4M560 100h48M912 100h4M560 104h48M912 104h4M560 108h52M908 108h4M556 112h56M908 112h4M556 116h56M704 116h32M752 116h12M908 116h4M552 120h60M704 120h8M768 120h4M908 120h36M552 124h64M704 124h8M772 124h4M940 124h64M552 128h64M704 128h4M556 132h60M704 132h8M556 136h60M704 136h8M560 140h56M704 140h8M772 140h4M572 144h48M704 144h8M584 148h36M708 148h4M584 152h36M708 152h8M768 152h4M588 156h36M708 156h8M588 160h36M712 160h8M592 164h36M716 164h12M764 164h4M592 168h32M752 168h8M592 172h20M588 176h16M624 176h12M588 180h20M612 180h28M588 184h52M744 184h8M540 188h24M584 188h28M632 188h16M736 188h4M752 188h4M528 192h12M564 192h40M644 192h8M724 192h24M520 196h4M572 196h28M648 196h4M720 196h4M736 196h4M516 200h4M580 200h20M720 200h4M740 200h4M516 204h4M588 204h12M648 204h4M716 204h4M516 208h4M592 208h8M648 208h4M716 208h4M764 208h4M516 212h4M592 212h8M716 212h4M516 216h4M596 216h4M716 216h4M516 220h4M600 220h4M516 224h4M604 224h4M644 224h4M720 224h4M608 228h4M644 228h4M520 232h4M724 232h4M856 232h24M524 236h4M620 236h4M640 236h4M728 236h4M852 236h12M876 236h8M528 240h4M628 240h12M728 240h4M784 240h4M852 240h12M880 240h4M528 244h4M852 244h12M880 244h4M532 248h4M732 248h4M852 248h12M876 248h8M532 252h4M732 252h4M784 252h4M856 252h24M532 256h8M732 256h4M860 256h16M532 260h8M732 260h4M864 260h4M536 264h8M636 264h4M784 264h4M544 268h4M632 268h12M728 268h4M548 272h4M632 272h16M728 272h4M792 272h4M552 276h4M624 276h8M644 276h8M728 276h4M560 280h4M620 280h8M648 280h8M728 280h4M568 284h8M608 284h12M648 284h8M728 284h4M808 284h4M580 288h28M652 288h8M728 288h4M816 288h4M656 292h8M828 292h4M660 296h8M836 296h36M668 300h4M732 300h4M872 300h4M672 304h4M732 304h4M876 304h4M676 308h4M732 308h4M880 308h4M684 312h4M736 312h4M796 312h4M816 312h32M884 312h4M688 316h4M740 316h4M776 316h4M848 316h4M692 320h4M748 320h16M848 320h4M852 324h4M892 324h4M968 324h4M852 328h4M952 328h4M700 332h4M852 332h4M896 332h4M920 332h8M936 332h4M704 336h4M852 336h4M896 336h4M716 340h8M840 340h20M896 340h4M732 344h4M832 344h4M852 344h8M740 348h4M856 348h12M892 348h4M744 352h4M856 352h4M892 352h4M916 352h4M856 356h4M868 356h4M916 356h4M760 364h4M820 364h4M860 364h4M872 364h4M892 364h4M912 364h4M816 368h4M872 368h4M896 368h16M784 372h16M864 372h4M872 372h8M868 376h4M876 376h12M868 380h4M884 380h12M892 384h8M896 388h8M872 392h4M900 392h4M904 396h4M820 400h12M908 400h4M816 404h4M840 404h4M864 404h4M912 404h4M916 408h4M812 412h4M808 420h4M924 420h4M948 420h4M940 424h4M964 424h4M804 428h4M940 428h4M988 428h4M808 436h4M928 436h4M808 440h4M940 440h4M808 444h4M940 444h4M808 448h4M992 448h4M484 452h4M528 452h12M812 452h4M976 452h4M476 456h4M528 456h12M812 456h4M964 456h4M476 460h4M516 460h16M816 460h4M932 460h4M960 460h4M476 464h4M504 464h12M820 464h4M932 464h4M952 464h4M480 468h20M824 468h4M932 468h4M940 468h8M872 476h4M888 476h4M924 476h8M824 480h4M904 480h16M432 484h4M820 484h4M864 484h4M440 488h4M904 492h8M420 496h4M864 496h4M896 496h4M908 496h20M812 500h4M868 500h4M916 500h8M452 504h4M812 504h4M912 504h8M412 508h4M908 508h4M412 512h4M480 512h4M904 512h4M412 516h4M484 516h4M816 516h4M896 516h4M488 520h4M552 520h16M820 520h4M892 520h4M488 524h84M492 528h80M552 532h16M884 532h4M552 536h16M884 536h4M412 540h4M552 540h12M884 540h4M340 544h24M552 544h8M336 548h4M368 548h4M552 548h8M332 552h4M372 552h8M392 552h12M552 552h4M328 556h8M376 556h12M552 556h4M820 556h8M324 560h8M552 560h4M808 560h8M320 564h12M656 564h20M808 564h4M324 568h8M556 568h4M644 568h4M692 568h4M804 568h4M332 572h4M556 572h4M640 572h4M336 576h4M556 576h4M640 576h4M340 580h32M808 580h4M848 580h4M856 580h4M344 584h32M560 584h4M816 584h4M824 584h20M376 588h4M424 588h4M436 588h4M560 588h4M704 588h4M380 592h4M440 592h12M456 592h8M564 592h4M704 592h4M384 596h4M420 596h4M444 596h24M568 596h4M640 596h4M704 596h4M732 596h4M392 600h4M416 600h4M444 600h20M572 600h8M640 600h4M704 600h4M720 600h4M748 600h4M396 604h24M444 604h16M576 604h12M644 604h4M700 604h4M712 604h4M760 604h4M436 608h20M588 608h8M648 608h8M696 608h4M708 608h4M772 608h4M428 612h16M596 612h8M656 612h4M692 612h4M708 612h4M780 612h4M844 612h4M424 616h12M604 616h8M664 616h24M704 616h4M780 616h4M424 620h8M612 620h4M704 620h4M780 620h4M820 620h4M420 624h8M616 624h4M704 624h4M780 624h4M420 628h8M616 628h8M780 628h4M416 632h8M620 632h4M776 632h4M416 636h8M620 636h4M700 636h4M776 636h4M820 636h4M416 640h4M620 640h4M700 640h4M772 640h4M300 644h4M308 644h4M416 644h4M620 644h4M700 644h4M772 644h4M416 648h4M620 648h4M768 648h4M828 648h4M416 652h4M620 652h4M696 652h4M768 652h4M292 656h4M316 656h4M416 656h4M624 656h4M764 656h4M832 656h4M416 660h4M632 660h4M692 660h4M832 660h4M288 664h4M320 664h4M416 664h8M636 664h16M760 664h4M832 664h4M324 668h4M416 668h8M660 668h4M688 668h4M756 668h4M832 668h4M284 672h4M324 672h4M416 672h8M676 672h12M756 672h4M828 672h4M284 676h4M324 676h4M416 676h8M828 676h4M324 680h4M416 680h8M752 680h4M828 680h4M280 684h4M324 684h4M416 684h8M752 684h4M824 684h4M280 688h4M324 688h4M416 688h4M584 688h4M824 688h4M280 692h4M324 692h4M416 692h4M584 692h4M748 692h4M820 692h4M280 696h8M320 696h4M412 696h8M748 696h4M820 696h4M192 700h8M216 700h8M280 700h8M320 700h4M412 700h8M576 700h4M816 700h4M188 704h4M228 704h8M284 704h8M320 704h4M412 704h4M744 704h4M816 704h4M240 708h8M284 708h8M320 708h4M412 708h4M744 708h8M812 708h4M184 712h4M248 712h4M284 712h8M316 712h8M408 712h8M744 712h8M812 712h4M248 716h4M288 716h8M312 716h8M412 716h4M692 716h8M744 716h8M808 716h4M252 720h4M292 720h24M412 720h8M688 720h4M700 720h4M744 720h8M808 720h4M256 724h4M276 724h4M296 724h12M416 724h8M688 724h4M704 724h4M744 724h8M808 724h4M184 728h4M260 728h24M420 728h8M688 728h4M708 728h20M740 728h8M760 728h16M804 728h4M184 732h4M272 732h12M428 732h4M688 732h4M724 732h40M780 732h28M276 736h8M432 736h4M688 736h4M740 736h16M792 736h16M192 740h4M276 740h12M432 740h8M688 740h4M744 740h8M192 744h4M280 744h8M436 744h4M688 744h4M744 744h8M192 748h4M280 748h8M432 748h8M688 748h4M744 748h8M192 752h4M280 752h8M432 752h8M688 752h4M744 752h8M192 756h4M280 756h8M432 756h8M688 756h8M744 756h8M192 760h4M280 760h4M432 760h8M692 760h4M744 760h8M280 764h4M432 764h8M748 764h4M436 768h4M748 768h8M436 772h4M748 772h8M436 776h4M752 776h4M436 780h4M752 780h4M436 784h4M752 784h4"/>
<path stroke="#6c6c6c" d="M600 72h60M728 72h4M740 72h8M600 76h60M724 76h4M740 76h8M600 80h60M724 80h4M740 80h8M924 80h4M600 84h60M724 84h4M740 84h8M600 88h60M720 88h4M740 88h8M604 92h56M720 92h4M744 92h4M916 92h4M604 96h56M720 96h4M736 96h12M608 100h52M720 100h12M608 104h44M908 104h4M612 108h36M612 112h32M700 112h44M612 116h32M696 116h8M764 116h8M612 120h32M696 120h8M772 120h4M616 124h32M696 124h8M908 124h32M616 128h32M696 128h8M940 128h52M616 132h32M696 132h8M616 136h32M696 136h8M616 140h36M696 140h8M620 144h32M696 144h8M620 148h36M700 148h8M620 152h36M700 152h8M624 156h36M700 156h8M768 156h4M624 160h36M704 160h8M628 164h32M708 164h8M624 168h32M712 168h24M748 168h4M760 168h4M612 172h44M716 172h12M604 176h20M636 176h20M716 176h8M608 180h4M640 180h16M640 184h12M740 184h4M752 184h4M648 188h8M720 188h16M540 192h24M652 192h4M720 192h4M748 192h4M524 196h12M568 196h4M652 196h4M716 196h4M740 196h4M520 200h4M572 200h8M652 200h4M716 200h4M580 204h8M752 204h4M584 208h8M712 208h4M588 212h4M648 212h4M712 212h4M592 216h4M648 216h4M596 220h4M716 220h4M716 224h4M864 224h4M520 228h4M720 228h4M852 228h28M524 232h4M612 232h4M644 232h4M780 232h4M848 232h8M880 232h4M528 236h4M616 236h4M644 236h4M724 236h4M848 236h4M884 236h4M532 240h4M624 240h4M640 240h8M844 240h8M884 240h4M532 244h8M628 244h16M728 244h4M848 244h4M884 244h4M536 248h4M628 248h16M728 248h4M848 248h4M536 252h8M632 252h12M848 252h8M880 252h4M540 256h4M632 256h12M784 256h4M852 256h8M876 256h4M540 260h4M632 260h16M728 260h4M784 260h4M852 260h12M868 260h8M544 264h4M632 264h4M640 264h8M728 264h4M856 264h16M548 268h4M628 268h4M644 268h8M552 272h4M628 272h4M648 272h8M556 276h8M620 276h4M652 276h4M564 280h8M612 280h8M656 280h4M576 284h8M600 284h8M656 284h8M660 288h4M820 288h4M864 288h4M664 292h4M728 292h4M832 292h8M856 292h16M668 296h4M728 296h4M872 296h4M672 300h4M728 300h4M876 300h4M676 304h4M728 304h4M880 304h4M680 308h4M728 308h4M884 308h4M688 312h4M732 312h4M800 312h16M888 312h4M692 316h4M732 316h8M780 316h4M820 316h28M888 316h4M736 320h12M764 320h4M828 320h12M844 320h4M892 320h4M696 324h4M752 324h4M844 324h8M848 328h4M896 328h4M848 332h4M928 332h4M844 336h8M724 340h12M836 340h4M736 344h8M896 344h4M916 344h4M744 348h4M828 348h4M896 348h4M916 348h4M748 352h4M860 352h8M752 356h4M824 356h4M860 356h8M892 356h4M756 360h4M860 360h4M868 360h4M892 360h4M764 364h4M864 364h8M896 364h8M772 368h4M812 368h4M864 368h8M868 372h4M872 376h4M872 380h12M872 384h20M872 388h4M888 388h8M896 392h4M872 396h4M836 404h4M816 408h4M812 416h4M920 416h4M808 424h4M924 424h4M960 424h4M808 428h4M984 428h4M808 432h4M812 440h4M928 440h4M812 444h4M928 444h4M996 444h8M812 448h4M928 448h4M940 448h4M980 448h12M488 452h40M816 452h4M940 452h4M968 452h8M480 456h8M512 456h16M816 456h4M940 456h4M480 460h4M504 460h12M820 460h4M940 460h4M956 460h4M480 464h24M824 464h4M940 464h4M948 464h4M828 468h4M928 468h4M828 472h4M928 472h4M828 476h4M868 476h4M892 476h32M864 480h4M428 488h4M436 488h4M424 492h4M440 492h4M816 492h4M444 496h4M900 496h8M448 500h4M888 500h4M904 500h12M416 504h4M876 504h4M908 504h4M904 508h4M464 512h16M816 512h4M900 512h4M480 516h4M484 520h4M416 524h4M484 524h4M828 524h4M888 524h4M416 528h4M484 528h8M832 528h4M884 528h4M416 532h4M488 532h64M416 536h4M488 536h64M536 540h16M412 544h4M540 544h12M884 544h4M340 548h8M360 548h8M408 548h4M544 548h8M832 548h4M336 552h4M364 552h8M404 552h4M544 552h8M888 552h4M368 556h8M388 556h12M548 556h4M828 556h4M332 560h4M372 560h16M548 560h4M816 560h8M332 564h4M368 564h16M552 564h4M812 564h4M332 568h4M368 568h12M552 568h4M648 568h4M680 568h12M808 568h4M336 572h4M364 572h12M552 572h4M644 572h4M696 572h4M808 572h4M948 572h28M340 576h36M700 576h4M808 576h4M852 576h4M988 576h16M372 580h4M556 580h4M640 580h4M812 580h4M376 584h4M428 584h8M468 584h16M556 584h4M640 584h4M820 584h4M860 584h4M380 588h4M440 588h4M456 588h28M640 588h4M384 592h4M420 592h4M452 592h4M464 592h20M560 592h4M640 592h4M388 596h4M468 596h16M564 596h4M644 596h4M396 600h4M464 600h20M564 600h8M644 600h4M700 600h4M724 600h4M740 600h8M460 604h20M568 604h8M648 604h4M696 604h4M716 604h4M752 604h8M456 608h24M576 608h12M656 608h4M692 608h4M712 608h4M768 608h4M444 612h32M588 612h8M660 612h12M684 612h8M776 612h4M436 616h28M600 616h4M708 616h4M776 616h4M836 616h4M432 620h16M608 620h4M776 620h4M824 620h4M428 624h12M612 624h4M776 624h4M820 624h4M428 628h8M704 628h4M776 628h4M820 628h4M424 632h8M616 632h4M704 632h4M820 632h4M424 636h8M616 636h4M704 636h4M772 636h4M420 640h8M616 640h4M824 640h4M304 644h4M420 644h8M616 644h4M768 644h4M828 644h4M300 648h4M420 648h8M616 648h4M700 648h4M832 648h4M296 652h4M312 652h4M420 652h8M616 652h4M700 652h4M764 652h4M832 652h4M420 656h8M616 656h8M696 656h4M760 656h4M292 660h4M316 660h4M420 660h8M624 660h8M760 660h4M424 664h4M632 664h4M692 664h4M756 664h4M288 668h4M424 668h4M656 668h4M424 672h8M668 672h8M688 672h4M752 672h4M832 672h4M424 676h8M680 676h12M752 676h4M832 676h4M284 680h4M424 680h4M748 680h4M832 680h4M284 684h4M320 684h4M424 684h4M580 684h4M748 684h4M828 684h4M284 688h4M320 688h4M420 688h8M568 688h4M748 688h4M828 688h4M284 692h8M320 692h4M420 692h4M744 692h4M824 692h4M288 696h4M316 696h4M420 696h4M584 696h4M744 696h4M824 696h4M200 700h16M288 700h8M316 700h4M420 700h4M572 700h4M744 700h4M820 700h4M192 704h4M224 704h4M292 704h4M316 704h4M416 704h8M820 704h4M188 708h4M232 708h8M292 708h4M316 708h4M416 708h8M740 708h4M816 708h4M240 712h8M292 712h8M308 712h8M416 712h8M692 712h12M740 712h4M816 712h4M184 716h4M244 716h4M296 716h16M416 716h8M688 716h4M700 716h4M740 716h4M812 716h4M920 716h16M184 720h4M248 720h4M420 720h8M704 720h4M736 720h8M812 720h4M920 720h16M184 724h4M252 724h4M424 724h8M684 724h4M708 724h8M728 724h16M812 724h4M920 724h16M252 728h8M428 728h8M684 728h4M728 728h12M808 728h8M260 732h12M432 732h8M684 732h4M764 732h16M808 732h8M188 736h4M264 736h12M436 736h8M684 736h4M756 736h12M784 736h8M808 736h8M268 740h8M440 740h4M684 740h4M752 740h8M792 740h36M196 744h4M272 744h8M440 744h8M684 744h4M752 744h8M792 744h40M196 748h4M272 748h8M440 748h8M684 748h4M752 748h4M796 748h40M196 752h4M272 752h8M440 752h4M684 752h4M752 752h4M796 752h40M196 756h4M272 756h8M440 756h4M684 756h4M752 756h4M796 756h36M196 760h4M272 760h8M440 760h4M688 760h4M752 760h4M792 760h36M276 764h4M440 764h4M692 764h4M752 764h4M792 764h32M280 768h4M440 768h4M692 768h4M792 768h32M280 772h4M440 772h4M692 772h4M792 772h32M280 776h4M440 776h4M692 776h4M792 776h32M280 780h4M440 780h4M692 780h4M792 780h32M280 784h4M440 784h4M692 784h4M792 784h32"/>
<path stroke="#6e6e6e" d="M660 72h8M720 72h8M748 72h28M928 72h4M660 76h8M716 76h8M748 76h28M660 80h8M716 80h8M748 80h28M660 84h8M716 84h8M748 84h24M920 84h4M660 88h8M712 88h8M748 88h24M660 92h12M712 92h8M748 92h24M660 96h12M712 96h8M748 96h16M912 96h4M660 100h20M700 100h4M708 100h12M732 100h12M652 104h76M648 108h84M904 108h4M644 112h56M744 112h16M904 112h4M644 116h52M772 116h4M904 116h4M644 120h32M684 120h12M776 120h4M904 120h4M648 124h24M684 124h12M776 124h4M904 124h4M648 128h28M680 128h16M776 128h4M904 128h36M992 128h12M648 132h48M904 132h60M972 132h16M648 136h48M904 136h36M652 140h44M908 140h12M652 144h44M772 144h4M656 148h44M656 152h44M660 156h20M688 156h12M660 160h20M692 160h12M660 164h16M700 164h8M656 168h16M704 168h8M736 168h12M656 172h12M708 172h8M728 172h4M656 176h12M712 176h4M724 176h4M656 180h8M712 180h16M652 184h12M716 184h16M736 184h4M656 188h4M716 188h4M656 192h4M716 192h4M752 192h4M536 196h16M556 196h12M524 200h8M568 200h4M712 200h4M744 200h4M520 204h4M572 204h8M652 204h4M712 204h4M520 208h4M580 208h4M520 212h4M584 212h4M772 212h4M520 216h4M588 216h4M712 216h4M776 216h4M520 220h4M592 220h4M648 220h4M712 220h4M520 224h4M600 224h4M648 224h4M844 224h20M868 224h12M524 228h4M604 228h4M648 228h4M716 228h4M780 228h4M844 228h8M880 228h8M528 232h4M608 232h4M648 232h4M720 232h4M840 232h8M884 232h4M532 236h4M648 236h4M720 236h4M784 236h4M840 236h8M536 240h4M620 240h4M724 240h4M840 240h4M888 240h4M540 244h4M624 244h4M644 244h4M844 244h4M888 244h4M540 248h4M624 248h4M644 248h4M844 248h4M884 248h4M544 252h4M628 252h4M644 252h8M728 252h4M844 252h4M884 252h4M544 256h4M628 256h4M644 256h8M728 256h4M848 256h4M880 256h4M544 260h8M628 260h4M648 260h4M848 260h4M876 260h4M548 264h4M628 264h4M648 264h8M848 264h8M872 264h4M552 268h4M652 268h4M788 268h4M852 268h20M556 272h4M624 272h4M656 272h4M724 272h4M860 272h12M564 276h4M616 276h4M656 276h4M724 276h4M860 276h12M572 280h8M608 280h4M660 280h4M724 280h4M860 280h12M584 284h16M664 284h4M724 284h4M812 284h4M860 284h12M664 288h4M724 288h4M824 288h4M856 288h8M868 288h4M668 292h4M840 292h16M872 292h4M672 296h4M876 296h8M676 300h4M880 300h8M680 304h4M884 304h4M684 308h4M888 308h4M692 312h4M728 312h4M696 316h4M728 316h4M784 316h8M808 316h12M892 316h4M696 320h4M728 320h8M768 320h4M820 320h8M840 320h4M980 320h24M732 324h20M756 324h8M828 324h16M896 324h4M964 324h4M700 328h4M732 328h12M836 328h12M920 328h8M948 328h4M728 332h12M836 332h12M900 332h4M932 332h4M708 336h4M724 336h20M836 336h8M900 336h4M916 336h4M736 340h8M832 340h4M900 340h4M916 340h4M744 344h4M748 348h4M752 352h4M896 352h4M756 356h4M896 356h4M760 360h4M864 360h4M896 360h4M912 360h4M904 364h8M776 368h4M804 368h8M876 388h12M876 392h8M888 392h8M900 396h4M872 400h4M904 400h4M820 404h16M868 404h4M908 404h4M912 408h4M816 412h4M916 412h4M812 420h4M944 424h16M924 428h4M944 428h4M964 428h20M812 432h4M944 432h4M988 432h16M812 436h4M944 436h4M944 440h4M816 444h4M944 444h4M992 444h4M816 448h4M976 448h4M820 452h4M928 452h4M964 452h4M488 456h24M820 456h4M928 456h4M960 456h4M484 460h20M824 460h4M928 460h4M952 460h4M828 464h4M928 464h4M944 464h4M832 468h4M832 472h4M912 472h16M832 476h4M828 480h4M824 484h4M432 488h4M820 488h4M816 496h4M864 500h4M892 500h12M872 504h4M880 504h8M900 504h8M416 508h4M816 508h4M900 508h4M460 512h4M896 512h4M416 516h4M892 516h4M416 520h4M480 520h4M824 520h4M888 520h4M884 524h4M880 528h4M484 532h4M880 532h4M484 536h4M880 536h4M416 540h4M484 540h52M484 544h56M348 548h12M412 548h4M484 548h60M884 548h4M340 552h4M360 552h4M408 552h4M488 552h16M520 552h24M832 552h4M336 556h4M364 556h4M400 556h8M488 556h16M520 556h28M904 556h8M928 556h4M336 560h4M364 560h8M388 560h12M484 560h20M524 560h24M824 560h4M932 560h4M336 564h4M364 564h4M384 564h8M484 564h24M524 564h4M540 564h12M816 564h8M936 564h4M336 568h4M360 568h8M380 568h8M484 568h40M544 568h8M652 568h8M672 568h8M812 568h8M940 568h4M340 572h24M376 572h8M480 572h44M548 572h4M648 572h4M692 572h4M812 572h4M944 572h4M376 576h4M472 576h52M548 576h8M644 576h4M812 576h4M848 576h4M984 576h4M376 580h4M428 580h8M468 580h52M552 580h4M644 580h4M700 580h4M816 580h4M844 580h4M380 584h4M424 584h4M436 584h4M460 584h8M484 584h32M644 584h4M700 584h4M384 588h4M444 588h12M484 588h24M556 588h4M644 588h4M700 588h4M388 592h4M484 592h20M556 592h4M644 592h4M700 592h4M864 592h4M392 596h4M416 596h4M484 596h16M560 596h4M700 596h4M400 600h16M484 600h12M648 600h4M696 600h4M728 600h12M860 600h4M480 604h16M564 604h4M652 604h8M692 604h4M720 604h4M748 604h4M480 608h16M568 608h8M660 608h4M688 608h4M716 608h4M760 608h8M476 612h16M580 612h8M672 612h12M712 612h4M768 612h8M464 616h28M592 616h8M772 616h4M448 620h40M604 620h4M708 620h4M772 620h4M828 620h4M440 624h44M608 624h4M708 624h4M772 624h4M436 628h44M612 628h4M772 628h4M432 632h44M612 632h4M772 632h4M432 636h36M612 636h4M824 636h4M428 640h36M612 640h4M704 640h4M768 640h4M828 640h4M428 644h16M612 644h4M704 644h4M832 644h4M308 648h4M428 648h12M612 648h4M704 648h4M764 648h4M836 648h4M428 652h12M612 652h4M836 652h4M296 656h4M312 656h4M428 656h8M612 656h4M700 656h4M836 656h4M428 660h8M620 660h4M696 660h4M756 660h4M836 660h4M292 664h4M428 664h8M752 664h4M836 664h4M320 668h4M428 668h12M636 668h20M692 668h4M752 668h4M836 668h8M288 672h4M320 672h4M432 672h8M660 672h8M692 672h4M748 672h4M836 672h8M288 676h4M320 676h4M432 676h4M676 676h4M692 676h4M748 676h4M836 676h4M320 680h4M428 680h8M684 680h12M836 680h4M428 684h8M576 684h4M584 684h4M688 684h8M744 684h4M832 684h4M288 688h4M316 688h4M428 688h4M688 688h8M744 688h4M832 688h4M292 692h4M312 692h8M424 692h8M692 692h4M828 692h4M292 696h8M312 696h4M424 696h8M740 696h4M828 696h4M296 700h4M312 700h4M424 700h4M568 700h4M580 700h4M740 700h4M824 700h4M196 704h4M216 704h8M296 704h8M308 704h8M424 704h4M736 704h8M824 704h4M924 704h12M228 708h4M296 708h20M424 708h4M692 708h12M736 708h4M820 708h4M920 708h20M188 712h4M236 712h4M300 712h8M424 712h4M688 712h4M704 712h4M736 712h4M820 712h4M916 712h28M240 716h4M424 716h8M684 716h4M704 716h4M732 716h8M816 716h4M912 716h8M936 716h8M244 720h4M428 720h4M684 720h4M708 720h8M728 720h8M816 720h4M912 720h8M936 720h8M248 724h4M432 724h4M716 724h12M816 724h4M912 724h8M936 724h8M248 728h4M436 728h4M680 728h4M816 728h4M916 728h28M960 728h44M188 732h4M252 732h8M440 732h4M680 732h4M816 732h8M924 732h16M952 732h52M192 736h4M260 736h4M444 736h4M680 736h4M768 736h16M816 736h20M952 736h52M196 740h4M264 740h4M444 740h8M680 740h4M760 740h12M780 740h12M828 740h16M948 740h56M200 744h4M264 744h8M448 744h4M680 744h4M760 744h8M784 744h8M832 744h24M948 744h56M200 748h4M264 748h8M448 748h4M680 748h4M756 748h8M784 748h12M836 748h24M948 748h56M200 752h4M264 752h8M444 752h8M680 752h4M756 752h8M784 752h12M836 752h28M948 752h56M200 756h4M264 756h8M444 756h4M680 756h4M756 756h8M784 756h12M832 756h28M948 756h56M200 760h4M264 760h8M444 760h4M680 760h8M756 760h8M784 760h8M828 760h28M948 760h56M196 764h4M260 764h16M688 764h4M756 764h4M788 764h4M824 764h28M948 764h56M196 768h4M256 768h24M756 768h4M788 768h4M824 768h28M948 768h56M196 772h4M256 772h24M756 772h4M788 772h4M824 772h28M948 772h56M196 776h4M256 776h24M756 776h4M788 776h4M824 776h28M948 776h56M196 780h4M256 780h24M756 780h4M788 780h4M824 780h28M948 780h56M196 784h4M256 784h24M756 784h4M788 784h4M824 784h28M948 784h56"/>
<path stroke="#707070" d="M668 72h52M776 72h4M668 76h48M776 76h4M924 76h4M668 80h48M776 80h4M668 84h48M772 84h4M668 88h44M772 88h4M916 88h4M672 92h40M772 92h4M672 96h40M764 96h8M680 100h20M704 100h4M744 100h4M908 100h4M728 104h8M904 104h4M732 108h8M760 112h8M776 116h4M676 120h8M672 124h12M676 128h4M776 132h4M964 132h8M988 132h16M940 136h64M904 140h4M920 140h84M904 144h100M904 148h100M908 152h96M680 156h8M908 156h96M680 160h12M768 160h4M912 160h92M676 164h24M912 164h68M672 168h32M916 168h40M668 172h12M700 172h8M732 172h4M668 176h8M704 176h8M728 176h4M664 180h8M708 180h4M728 180h4M664 184h4M708 184h8M732 184h4M660 188h8M712 188h4M756 188h4M660 192h4M712 192h4M552 196h4M656 196h4M712 196h4M744 196h4M532 200h8M564 200h4M524 204h4M708 204h4M756 204h4M576 208h4M652 208h4M708 208h4M768 208h4M580 212h4M708 212h4M584 216h4M708 216h4M588 220h4M816 220h8M844 220h36M524 224h4M596 224h4M712 224h4M780 224h4M812 224h16M836 224h8M880 224h8M528 228h4M600 228h4M836 228h8M532 232h4M716 232h4M784 232h4M836 232h4M888 232h4M536 236h8M612 236h4M836 236h4M888 236h4M540 240h4M616 240h4M648 240h4M720 240h4M788 240h4M544 244h4M620 244h4M648 244h4M724 244h4M788 244h4M840 244h4M544 248h4M648 248h4M724 248h4M788 248h4M840 248h4M888 248h4M548 252h4M624 252h4M724 252h4M840 252h4M548 256h4M624 256h4M652 256h4M724 256h4M844 256h4M552 260h4M624 260h4M652 260h4M724 260h4M844 260h4M552 264h4M624 264h4M724 264h4M844 264h4M876 264h4M556 268h4M624 268h4M656 268h4M724 268h4M848 268h4M872 268h4M560 272h8M620 272h4M852 272h8M872 272h4M568 276h8M612 276h4M660 276h4M852 276h8M580 280h8M600 280h8M664 280h4M804 280h4M856 280h4M856 284h4M872 284h4M668 288h4M828 288h28M872 288h4M672 292h4M724 292h4M876 292h8M724 296h4M884 296h4M680 300h4M724 300h4M888 300h4M684 304h4M724 304h4M888 304h4M688 308h4M724 308h4M892 308h4M696 312h4M724 312h4M892 312h4M724 316h4M792 316h16M896 316h4M772 320h4M812 320h8M896 320h4M976 320h4M700 324h4M728 324h4M764 324h4M820 324h8M920 324h4M960 324h4M728 328h4M744 328h16M824 328h12M900 328h4M944 328h4M704 332h4M724 332h4M740 332h20M828 332h8M916 332h4M712 336h12M744 336h12M828 336h8M744 340h12M828 340h4M748 344h8M828 344h4M900 344h4M752 348h4M900 348h4M756 352h4M900 352h4M912 356h4M820 360h4M900 360h12M768 364h4M816 364h4M780 368h4M796 368h8M884 392h4M876 396h8M892 396h8M900 400h4M820 408h4M848 408h12M816 416h4M920 420h4M812 424h4M812 428h4M948 428h16M924 432h4M948 432h40M816 436h4M948 436h56M816 440h4M948 440h56M948 444h44M820 448h4M944 448h32M944 452h20M824 456h4M944 456h16M828 460h4M944 460h8M832 464h4M920 468h8M836 472h4M876 472h12M900 472h12M864 476h4M860 480h4M860 484h4M860 488h4M428 492h12M820 492h4M860 492h4M424 496h4M440 496h4M420 500h4M816 500h4M816 504h4M868 504h4M888 504h12M452 508h4M892 508h8M416 512h4M892 512h4M476 516h4M820 516h4M888 516h4M884 520h4M480 524h4M872 524h12M480 528h4M872 528h8M480 532h4M836 532h4M876 532h4M480 536h4M836 536h4M876 536h4M480 540h4M836 540h4M880 540h4M480 544h4M480 548h4M344 552h16M412 552h4M480 552h8M504 552h16M340 556h8M356 556h8M408 556h4M480 556h8M504 556h16M832 556h4M896 556h8M912 556h16M340 560h4M360 560h4M400 560h8M480 560h4M504 560h20M828 560h4M340 564h4M360 564h4M392 564h8M480 564h4M508 564h16M528 564h12M824 564h4M340 568h8M356 568h4M388 568h4M476 568h8M524 568h20M660 568h12M820 568h4M384 572h4M472 572h8M524 572h24M684 572h8M816 572h4M380 576h4M468 576h4M524 576h24M648 576h4M696 576h4M816 576h4M856 576h4M948 576h4M980 576h4M380 580h4M464 580h4M520 580h32M820 580h24M440 584h4M452 584h8M516 584h20M548 584h8M420 588h4M508 588h24M552 588h4M864 588h4M416 592h4M504 592h20M648 592h4M396 596h4M412 596h4M500 596h20M556 596h4M648 596h8M696 596h4M864 596h4M496 600h20M560 600h4M652 600h8M692 600h4M496 604h20M560 604h4M660 604h4M688 604h4M724 604h4M744 604h4M856 604h4M496 608h16M564 608h4M664 608h12M680 608h8M756 608h4M492 612h20M572 612h8M716 612h4M764 612h4M848 612h4M492 616h20M588 616h4M712 616h4M768 616h4M840 616h4M488 620h24M596 620h8M712 620h4M768 620h4M832 620h4M484 624h24M604 624h4M824 624h4M480 628h16M608 628h4M708 628h4M768 628h4M824 628h4M476 632h16M708 632h4M768 632h4M824 632h4M468 636h16M708 636h4M768 636h4M828 636h4M464 640h16M832 640h4M444 644h32M764 644h4M836 644h4M304 648h4M440 648h32M300 652h4M440 652h28M608 652h4M704 652h4M760 652h4M840 652h4M436 656h28M608 656h4M756 656h4M840 656h4M296 660h4M436 660h24M608 660h12M700 660h4M752 660h4M840 660h4M316 664h4M436 664h20M628 664h4M696 664h4M840 664h8M292 668h4M440 668h12M632 668h4M696 668h4M748 668h4M844 668h4M440 672h8M636 672h8M844 672h4M436 676h12M668 676h8M744 676h4M840 676h8M288 680h4M436 680h8M676 680h8M696 680h4M744 680h4M840 680h4M288 684h4M316 684h4M436 684h8M572 684h4M684 684h4M696 684h4M836 684h8M292 688h4M308 688h8M432 688h8M588 688h4M684 688h4M696 688h4M740 688h4M836 688h4M296 692h16M432 692h8M564 692h4M588 692h4M684 692h8M696 692h4M740 692h4M832 692h4M300 696h12M432 696h8M564 696h4M684 696h16M736 696h4M832 696h4M924 696h16M300 700h12M428 700h8M684 700h16M736 700h4M828 700h4M920 700h24M200 704h16M304 704h4M428 704h8M684 704h20M732 704h4M828 704h4M916 704h8M936 704h12M192 708h4M224 708h4M428 708h8M684 708h8M704 708h4M732 708h4M824 708h4M916 708h4M940 708h12M228 712h8M428 712h8M684 712h4M708 712h4M728 712h8M824 712h4M912 712h4M944 712h12M188 716h4M236 716h4M432 716h4M680 716h4M708 716h24M820 716h4M908 716h4M944 716h20M188 720h4M240 720h4M432 720h8M680 720h4M716 720h12M820 720h4M904 720h8M944 720h32M188 724h4M244 724h4M436 724h4M680 724h4M820 724h4M904 724h8M944 724h60M188 728h4M244 728h4M440 728h8M820 728h8M908 728h8M944 728h16M192 732h4M248 732h4M444 732h8M824 732h12M912 732h12M940 732h12M196 736h4M252 736h8M448 736h8M676 736h4M836 736h12M920 736h32M200 740h8M256 740h8M452 740h8M676 740h4M772 740h8M844 740h28M924 740h24M204 744h4M260 744h4M452 744h8M676 744h4M768 744h16M856 744h20M928 744h20M204 748h4M260 748h4M452 748h8M676 748h4M764 748h20M860 748h16M932 748h16M204 752h4M260 752h4M452 752h4M676 752h4M764 752h20M864 752h12M932 752h16M204 756h4M260 756h4M448 756h8M676 756h4M764 756h20M860 756h16M932 756h16M204 760h4M256 760h8M448 760h4M676 760h4M764 760h20M856 760h20M928 760h20M200 764h4M256 764h4M444 764h4M672 764h16M760 764h28M852 764h28M924 764h24M252 768h4M444 768h4M668 768h24M760 768h28M852 768h32M924 768h24M252 772h4M444 772h4M664 772h28M760 772h28M852 772h32M924 772h24M252 776h4M444 776h4M664 776h28M760 776h28M852 776h32M924 776h24M252 780h4M444 780h4M664 780h28M760 780h28M852 780h32M924 780h24M252 784h4M444 784h4M664 784h28M760 784h28M852 784h32M924 784h24"/>
<path stroke="#727272" d="M920 80h4M776 84h4M776 88h4M912 92h4M772 96h4M748 100h12M736 104h8M740 108h12M768 112h8M780 116h4M780 120h4M900 128h4M900 132h4M776 136h4M900 136h4M900 140h4M900 144h4M772 148h4M904 152h4M904 156h4M908 160h4M908 164h4M980 164h8M764 168h4M912 168h4M956 168h8M680 172h20M916 172h20M676 176h28M732 176h4M672 180h8M700 180h8M732 180h4M744 180h8M668 184h8M704 184h4M756 184h4M668 188h4M704 188h8M664 192h4M708 192h4M660 196h4M708 196h4M748 196h4M540 200h24M656 200h4M708 200h4M748 200h4M528 204h8M568 204h4M760 204h4M524 208h4M572 208h4M524 212h4M576 212h4M652 212h4M524 216h4M580 216h4M652 216h4M812 216h16M856 216h20M524 220h4M584 220h4M708 220h4M808 220h8M824 220h20M880 220h8M592 224h4M808 224h4M828 224h8M888 224h4M532 228h4M712 228h4M804 228h32M888 228h4M536 232h8M604 232h4M652 232h4M832 232h4M544 236h4M608 236h4M652 236h4M716 236h4M788 236h4M544 240h4M612 240h4M652 240h4M716 240h4M836 240h4M892 240h4M548 244h4M616 244h4M652 244h4M720 244h4M836 244h4M892 244h4M548 248h4M620 248h4M652 248h4M720 248h4M892 248h4M552 252h4M652 252h4M888 252h4M552 256h4M840 256h4M884 256h4M556 260h4M656 260h4M840 260h4M880 260h4M556 264h4M656 264h4M560 268h4M620 268h4M660 268h4M844 268h4M876 268h4M568 272h4M616 272h4M660 272h4M844 272h8M576 276h4M608 276h4M664 276h4M720 276h4M848 276h4M872 276h4M588 280h12M720 280h4M848 280h8M872 280h4M668 284h4M720 284h4M816 284h4M848 284h8M672 288h4M720 288h4M876 288h4M720 292h4M884 292h4M676 296h4M720 296h4M888 296h4M720 300h4M892 300h4M688 304h4M720 304h4M892 304h4M692 308h4M716 308h8M896 308h4M924 308h4M720 312h4M896 312h4M924 312h4M700 316h4M920 316h8M700 320h4M724 320h4M776 320h4M808 320h4M900 320h4M920 320h8M972 320h4M724 324h4M768 324h4M812 324h8M900 324h4M924 324h4M956 324h4M724 328h4M760 328h4M816 328h8M904 328h4M916 328h4M940 328h4M708 332h4M720 332h4M760 332h4M816 332h12M904 332h4M756 336h8M816 336h12M904 336h4M756 340h8M904 340h4M912 340h4M756 344h8M904 344h4M912 344h4M756 348h4M904 348h4M912 348h4M824 352h4M912 352h4M760 356h4M900 356h12M764 360h4M812 364h4M784 368h12M884 396h8M876 400h4M896 400h4M872 404h4M904 404h4M840 408h8M860 408h4M908 408h4M820 412h4M916 416h4M816 420h4M816 428h4M816 432h4M924 436h4M820 444h4M824 452h4M828 456h4M924 456h4M832 460h4M924 460h4M924 464h4M836 468h4M912 468h8M872 472h4M888 472h12M836 476h4M860 476h4M832 480h4M828 484h4M824 488h4M860 496h4M444 500h4M420 504h4M448 504h4M876 508h16M456 512h4M820 512h4M888 512h4M472 516h4M884 516h4M476 520h4M828 520h4M868 520h16M420 524h4M832 524h4M868 524h4M420 528h4M868 528h4M420 532h4M872 532h4M420 536h4M872 536h4M876 540h4M416 544h4M836 544h4M880 544h4M836 548h4M836 552h4M884 552h4M348 556h8M412 556h4M892 556h4M344 560h16M408 560h4M476 560h4M832 560h4M344 564h16M400 564h8M476 564h4M828 564h4M348 568h8M392 568h8M824 568h4M388 572h4M652 572h8M676 572h8M820 572h8M848 572h8M384 576h4M428 576h8M464 576h4M692 576h4M820 576h12M836 576h12M424 580h4M436 580h4M460 580h4M648 580h4M696 580h4M860 580h4M948 580h4M384 584h4M444 584h8M536 584h12M648 584h4M948 584h4M388 588h4M532 588h20M648 588h4M948 588h4M392 592h4M524 592h32M652 592h4M696 592h4M400 596h12M520 596h16M552 596h4M656 596h4M516 600h16M556 600h4M660 600h4M516 604h12M556 604h4M664 604h4M684 604h4M728 604h16M512 608h12M560 608h4M676 608h4M720 608h4M752 608h4M852 608h4M512 612h12M564 612h8M756 612h8M512 616h12M580 616h8M716 616h4M764 616h4M844 616h4M512 620h12M592 620h4M764 620h4M508 624h16M600 624h4M712 624h4M768 624h4M828 624h4M496 628h24M604 628h4M492 632h16M608 632h4M828 632h4M484 636h12M608 636h4M764 636h4M832 636h4M480 640h12M608 640h4M708 640h4M764 640h4M836 640h4M476 644h12M608 644h4M708 644h4M840 644h4M472 648h12M608 648h4M708 648h4M760 648h4M840 648h4M308 652h4M468 652h12M708 652h4M756 652h4M464 656h12M604 656h4M704 656h4M844 656h4M312 660h4M460 660h12M604 660h4M844 660h4M456 664h12M624 664h4M748 664h4M848 664h4M316 668h4M452 668h12M744 668h4M848 668h4M292 672h4M448 672h12M656 672h4M696 672h4M744 672h4M848 672h4M316 676h4M448 676h12M636 676h4M664 676h4M696 676h4M848 676h4M316 680h4M444 680h12M580 680h8M672 680h4M740 680h4M844 680h8M312 684h4M444 684h12M568 684h4M588 684h4M680 684h4M700 684h4M740 684h4M844 684h4M296 688h12M440 688h12M680 688h4M700 688h4M736 688h4M840 688h4M928 688h12M440 692h12M680 692h4M700 692h4M736 692h4M836 692h8M920 692h28M440 696h8M588 696h4M680 696h4M700 696h4M732 696h4M836 696h4M916 696h8M940 696h12M976 696h28M436 700h12M584 700h4M680 700h4M700 700h8M728 700h8M832 700h4M912 700h8M944 700h60M436 704h8M680 704h4M704 704h8M724 704h8M832 704h4M912 704h4M948 704h56M196 708h4M216 708h8M436 708h8M680 708h4M708 708h24M828 708h4M908 708h8M952 708h52M192 712h4M224 712h4M436 712h8M680 712h4M712 712h16M904 712h8M956 712h48M232 716h4M436 716h8M824 716h4M904 716h4M964 716h40M236 720h4M440 720h8M824 720h4M900 720h4M976 720h28M240 724h4M440 724h12M676 724h4M824 724h8M900 724h4M240 728h4M448 728h8M676 728h4M828 728h8M900 728h8M244 732h4M452 732h8M676 732h4M836 732h12M904 732h8M200 736h4M248 736h4M456 736h4M672 736h4M848 736h28M908 736h12M208 740h4M252 740h4M460 740h4M672 740h4M872 740h12M916 740h8M208 744h8M256 744h4M460 744h4M672 744h4M876 744h8M916 744h12M208 748h8M256 748h4M460 748h4M672 748h4M876 748h8M920 748h12M208 752h8M256 752h4M456 752h8M672 752h4M876 752h8M920 752h12M208 756h4M252 756h8M456 756h8M668 756h8M876 756h8M920 756h12M208 760h4M252 760h4M452 760h12M668 760h8M876 760h12M920 760h8M204 764h12M252 764h4M448 764h16M664 764h8M880 764h8M920 764h4M200 768h16M448 768h20M664 768h4M884 768h4M920 768h4M200 772h16M448 772h20M884 772h4M920 772h4M200 776h16M448 776h20M884 776h4M920 776h4M200 780h16M448 780h20M884 780h4M920 780h4M200 784h16M448 784h20M884 784h4M920 784h4"/>
<path stroke="#747474" d="M780 72h4M924 72h4M780 76h4M780 80h4M780 84h4M916 84h4M780 88h4M776 92h4M776 96h4M908 96h4M760 100h12M744 104h4M752 108h8M776 112h4M900 112h4M900 116h4M900 120h4M780 124h4M900 124h4M776 140h4M900 148h4M900 152h4M904 160h4M768 164h4M904 164h4M988 164h16M904 168h8M964 168h20M736 172h4M756 172h8M908 172h8M936 172h24M920 176h12M680 180h20M736 180h8M676 184h12M696 184h8M672 188h8M700 188h4M668 192h8M704 192h4M756 192h4M664 196h8M704 196h4M660 200h4M704 200h4M536 204h8M560 204h8M656 204h4M704 204h4M764 204h4M528 208h8M568 208h4M704 208h4M528 212h4M572 212h4M704 212h4M812 212h12M576 216h4M808 216h4M828 216h28M876 216h12M528 220h4M580 220h4M652 220h4M780 220h4M804 220h4M888 220h4M528 224h8M584 224h8M652 224h4M708 224h4M804 224h4M536 228h4M592 228h8M652 228h4M784 228h4M800 228h4M544 232h4M600 232h4M712 232h4M788 232h24M828 232h4M892 232h4M548 236h4M604 236h4M712 236h4M792 236h8M832 236h4M892 236h4M548 240h4M792 240h4M832 240h4M896 240h4M552 244h4M716 244h4M896 244h4M552 248h4M656 248h4M716 248h4M836 248h4M896 248h4M620 252h4M656 252h4M720 252h4M788 252h4M836 252h4M892 252h4M556 256h4M620 256h4M656 256h4M720 256h4M888 256h4M620 260h4M720 260h4M884 260h4M560 264h4M620 264h4M660 264h4M720 264h4M788 264h4M840 264h4M880 264h4M564 268h8M616 268h4M720 268h4M840 268h4M572 272h4M612 272h4M664 272h4M720 272h4M876 272h4M580 276h8M600 276h8M800 276h4M844 276h4M876 276h4M668 280h4M844 280h4M876 280h4M820 284h28M876 284h4M880 288h4M676 292h4M888 292h4M680 296h4M716 296h4M892 296h4M684 300h4M716 300h4M896 300h4M692 304h4M712 304h8M896 304h8M924 304h4M696 308h4M708 308h8M900 308h4M920 308h4M700 312h20M900 312h4M920 312h4M720 316h4M900 316h4M720 320h4M780 320h4M800 320h8M904 320h4M916 320h4M808 324h4M904 324h4M916 324h4M704 328h4M720 328h4M764 328h4M808 328h8M928 328h4M712 332h8M764 332h4M808 332h8M908 332h8M764 336h4M808 336h8M908 336h8M812 340h16M908 340h4M824 344h4M908 344h4M760 348h4M824 348h4M908 348h4M760 352h4M904 352h8M820 356h4M772 364h4M808 364h4M880 400h16M824 408h8M836 408h4M912 412h4M820 416h4M816 424h4M920 424h4M820 436h4M820 440h4M924 440h4M924 444h4M824 448h4M924 448h4M828 452h4M924 452h4M836 464h4M916 464h8M840 468h4M904 468h8M840 472h4M864 472h8M840 476h4M856 476h4M836 480h4M856 480h4M832 484h4M856 484h4M828 488h4M856 488h4M824 492h4M428 496h4M436 496h4M820 496h4M860 500h4M864 504h4M420 508h4M820 508h4M868 508h8M872 512h16M420 516h4M464 516h8M824 516h4M868 516h16M420 520h4M864 520h4M476 524h4M864 524h4M476 528h4M836 528h4M476 532h4M868 532h4M476 536h4M420 540h4M476 540h4M476 544h4M416 548h4M476 548h4M880 548h4M416 552h4M476 552h4M476 556h4M836 556h4M888 556h4M412 560h4M836 560h4M928 560h4M408 564h4M832 564h8M932 564h4M400 568h4M472 568h4M828 568h12M936 568h4M392 572h4M428 572h4M468 572h4M660 572h16M828 572h20M856 572h4M940 572h4M424 576h4M652 576h4M688 576h4M832 576h4M944 576h4M952 576h4M976 576h4M384 580h4M440 580h4M456 580h4M652 580h4M944 580h4M952 580h4M388 584h4M420 584h4M652 584h4M696 584h4M952 584h4M392 588h4M416 588h4M652 588h4M696 588h4M396 592h4M412 592h4M656 592h4M868 592h4M948 592h4M536 596h16M692 596h4M868 596h4M532 600h24M664 600h4M688 600h4M864 600h4M528 604h16M548 604h8M668 604h16M524 608h12M556 608h4M724 608h4M744 608h8M524 612h12M560 612h4M720 612h4M752 612h4M524 616h12M564 616h16M760 616h4M524 620h12M716 620h4M760 620h4M836 620h4M524 624h12M596 624h4M764 624h4M520 628h12M712 628h4M764 628h4M828 628h4M508 632h8M712 632h4M764 632h4M832 632h4M496 636h12M712 636h4M836 636h4M492 640h4M840 640h4M488 644h4M760 644h4M484 648h4M844 648h4M304 652h4M480 652h4M604 652h4M844 652h4M300 656h4M308 656h4M476 656h4M708 656h4M752 656h4M848 656h4M472 660h4M704 660h4M748 660h4M848 660h8M296 664h4M312 664h4M468 664h8M604 664h12M620 664h4M700 664h4M744 664h4M852 664h4M464 668h8M628 668h4M700 668h4M852 668h8M316 672h4M460 672h8M632 672h4M644 672h12M740 672h4M852 672h8M292 676h4M460 676h8M640 676h4M660 676h4M700 676h4M740 676h4M852 676h8M312 680h4M456 680h8M576 680h4M588 680h4M668 680h4M700 680h4M736 680h4M852 680h4M292 684h4M308 684h4M456 684h8M676 684h4M736 684h4M848 684h8M916 684h32M452 688h8M564 688h4M592 688h4M676 688h4M704 688h4M732 688h4M844 688h8M912 688h16M940 688h16M980 688h24M452 692h8M592 692h4M676 692h4M704 692h4M732 692h4M844 692h4M912 692h8M948 692h56M448 696h12M676 696h4M704 696h8M724 696h8M840 696h4M908 696h8M952 696h24M448 700h8M564 700h4M676 700h4M708 700h20M836 700h8M908 700h4M444 704h12M572 704h8M676 704h4M712 704h12M836 704h4M904 704h8M200 708h16M444 708h12M672 708h8M832 708h4M904 708h4M220 712h4M444 712h12M676 712h4M828 712h8M900 712h4M192 716h4M224 716h8M444 716h12M676 716h4M828 716h4M896 716h8M228 720h8M448 720h12M676 720h4M828 720h8M896 720h4M232 724h8M452 724h8M832 724h8M896 724h4M192 728h4M236 728h4M456 728h8M672 728h4M836 728h12M896 728h4M196 732h4M240 732h4M460 732h4M672 732h4M848 732h28M896 732h8M204 736h12M244 736h4M460 736h8M668 736h4M876 736h12M896 736h12M212 740h8M248 740h4M464 740h8M668 740h4M884 740h12M900 740h16M216 744h4M248 744h8M464 744h8M664 744h8M884 744h12M904 744h12M216 748h4M248 748h8M464 748h8M664 748h8M884 748h12M908 748h12M216 752h4M248 752h8M464 752h8M664 752h8M884 752h12M908 752h12M212 756h8M248 756h4M464 756h8M664 756h4M884 756h12M904 756h16M212 760h8M248 760h4M464 760h8M664 760h4M888 760h8M908 760h12M216 764h8M248 764h4M464 764h8M660 764h4M888 764h8M908 764h12M216 768h8M248 768h4M468 768h4M660 768h4M888 768h8M912 768h8M216 772h8M248 772h4M468 772h4M660 772h4M888 772h8M912 772h8M216 776h8M248 776h4M468 776h4M660 776h4M888 776h4M916 776h4M216 780h8M248 780h4M468 780h4M660 780h4M888 780h4M916 780h4M216 784h8M248 784h4M468 784h4M660 784h4M888 784h4M916 784h4"/>
<path stroke="#767676" d="M920 76h4M784 84h4M784 88h4M912 88h4M780 92h8M780 96h4M772 100h4M904 100h4M748 104h8M760 108h8M900 108h4M780 112h4M784 116h4M780 128h4M896 132h4M896 136h4M896 140h4M896 144h4M896 148h4M772 152h4M900 156h4M900 160h4M900 164h4M900 168h4M984 168h4M740 172h16M904 172h4M960 172h4M736 176h4M904 176h16M932 176h4M752 180h4M688 184h8M680 188h20M676 192h8M696 192h8M672 196h8M700 196h4M752 196h4M664 200h12M700 200h4M752 200h4M544 204h16M700 204h4M536 208h4M564 208h4M656 208h4M700 208h4M812 208h8M532 212h4M568 212h4M776 212h4M804 212h8M824 212h16M860 212h32M528 216h4M704 216h4M804 216h4M888 216h8M532 220h4M576 220h4M704 220h4M892 220h4M536 224h4M580 224h4M800 224h4M892 224h4M540 228h8M584 228h8M708 228h4M788 228h12M892 228h4M548 232h4M596 232h4M812 232h16M552 236h4M656 236h4M800 236h4M828 236h4M896 236h4M552 240h4M608 240h4M656 240h4M712 240h4M556 244h4M612 244h4M656 244h4M712 244h4M792 244h4M832 244h4M900 244h4M556 248h4M616 248h4M556 252h4M716 252h4M896 252h4M560 256h4M660 256h4M716 256h4M788 256h4M836 256h4M892 256h4M560 260h4M660 260h4M888 260h4M564 264h4M616 264h4M884 264h4M572 268h4M612 268h4M664 268h4M880 268h4M576 272h8M604 272h8M840 272h4M880 272h4M588 276h12M668 276h4M840 276h4M836 280h8M880 280h4M672 284h4M880 284h4M676 288h4M716 288h4M884 288h4M716 292h4M892 292h4M684 296h4M896 296h8M688 300h4M712 300h4M900 300h8M708 304h4M904 304h4M920 304h4M700 308h8M904 308h4M928 308h4M904 312h4M928 312h4M704 316h4M716 316h4M904 316h4M916 316h4M928 316h4M704 320h4M784 320h16M908 320h4M928 320h4M968 320h4M704 324h4M720 324h4M772 324h4M804 324h4M908 324h8M928 324h4M952 324h4M768 328h4M804 328h4M908 328h8M932 328h8M764 340h4M808 340h4M764 344h4M764 356h4M816 360h4M776 364h4M800 364h8M876 404h4M900 404h4M832 408h4M864 408h4M824 412h4M820 420h4M916 420h4M920 428h4M820 432h4M824 444h4M832 456h4M920 456h4M836 460h4M920 460h4M912 464h4M900 468h4M844 472h8M856 472h8M844 476h12M840 480h16M852 484h4M856 492h4M432 496h4M424 500h4M820 500h4M820 504h4M864 508h4M420 512h4M868 512h4M460 516h4M864 516h4M472 520h4M864 528h4M868 536h4M872 540h4M420 544h4M876 544h4M840 552h4M880 552h4M416 556h4M840 556h4M416 560h4M840 560h8M412 564h8M472 564h4M840 564h12M404 568h4M420 568h8M468 568h4M840 568h16M396 572h4M420 572h8M432 572h4M464 572h4M388 576h4M436 576h4M460 576h4M656 576h4M676 576h12M956 576h4M388 580h4M420 580h4M444 580h12M656 580h4M692 580h4M656 584h4M864 584h4M944 584h4M656 588h4M692 588h4M868 588h4M944 588h4M952 588h4M400 592h12M660 592h4M692 592h4M952 592h4M660 596h4M688 596h4M668 600h4M680 600h8M544 604h4M536 608h20M728 608h16M536 612h24M724 612h4M748 612h4M536 616h28M720 616h4M756 616h4M536 620h16M588 620h4M840 620h4M536 624h12M716 624h4M760 624h4M832 624h4M532 628h8M600 628h4M832 628h4M516 632h20M604 632h4M836 632h4M508 636h4M604 636h4M840 636h4M496 640h8M712 640h4M760 640h4M492 644h4M604 644h4M712 644h4M844 644h4M488 648h4M604 648h4M712 648h4M756 648h4M848 648h4M484 652h4M712 652h4M752 652h4M848 652h8M480 656h4M712 656h4M748 656h4M852 656h4M476 660h4M600 660h4M708 660h4M744 660h4M856 660h4M476 664h4M616 664h4M704 664h4M740 664h4M856 664h8M296 668h4M472 668h4M740 668h4M860 668h4M468 672h4M700 672h4M736 672h4M860 672h8M468 676h4M580 676h12M736 676h4M860 676h8M916 676h28M292 680h4M464 680h4M572 680h4M636 680h8M732 680h4M856 680h12M912 680h44M296 684h12M464 684h4M592 684h4M672 684h4M704 684h4M732 684h4M856 684h8M908 684h8M948 684h12M980 684h24M460 688h8M672 688h4M728 688h4M852 688h8M908 688h4M956 688h24M460 692h8M672 692h4M708 692h8M724 692h8M848 692h8M904 692h8M460 696h4M592 696h4M672 696h4M712 696h12M844 696h8M904 696h4M456 700h8M588 700h4M672 700h4M844 700h4M904 700h4M456 704h8M568 704h4M580 704h4M668 704h8M840 704h4M900 704h4M456 708h4M668 708h4M836 708h8M900 708h4M196 712h4M216 712h4M456 712h4M668 712h8M836 712h4M896 712h4M220 716h4M456 716h4M672 716h4M832 716h8M892 716h4M192 720h4M220 720h8M460 720h4M672 720h4M836 720h4M892 720h4M192 724h4M220 724h12M460 724h4M672 724h4M840 724h8M888 724h8M196 728h4M216 728h8M228 728h8M464 728h4M668 728h4M848 728h24M884 728h12M200 732h24M236 732h4M464 732h4M668 732h4M876 732h20M216 736h8M240 736h4M468 736h4M664 736h4M888 736h8M220 740h4M240 740h8M472 740h8M660 740h8M896 740h4M220 744h4M244 744h4M472 744h8M660 744h4M896 744h8M220 748h4M244 748h4M472 748h8M660 748h4M896 748h12M220 752h4M244 752h4M472 752h8M656 752h8M896 752h12M220 756h8M240 756h8M472 756h4M656 756h8M896 756h8M220 760h8M240 760h8M472 760h4M660 760h4M896 760h12M224 764h4M244 764h4M472 764h4M896 764h12M224 768h4M472 768h4M896 768h16M224 772h4M472 772h4M896 772h16M224 776h4M472 776h4M892 776h24M224 780h4M472 780h4M892 780h24M224 784h4M472 784h4M892 784h24"/>
<path stroke="#787878" d="M784 80h4M916 80h4M908 92h4M784 96h4M756 104h8M900 104h4M768 108h4M784 120h4M896 128h4M780 132h4M892 140h4M896 152h4M772 156h4M896 156h4M896 160h4M896 164h4M768 168h4M896 168h4M988 168h16M764 172h4M900 172h4M964 172h20M740 176h8M900 176h4M936 176h24M900 180h32M904 184h12M760 188h4M904 188h12M684 192h12M908 192h8M680 196h20M756 196h4M676 200h8M696 200h4M756 200h4M660 204h4M696 204h4M768 204h4M812 204h8M892 204h8M540 208h12M556 208h8M772 208h4M804 208h8M820 208h12M888 208h12M536 212h4M564 212h4M700 212h4M840 212h20M892 212h8M532 216h8M572 216h4M780 216h4M536 220h4M800 220h4M540 224h4M576 224h4M704 224h4M784 224h4M796 224h4M548 228h4M580 228h4M896 228h4M552 232h4M592 232h4M656 232h4M708 232h4M896 232h4M556 236h4M600 236h4M708 236h4M804 236h4M824 236h4M556 240h4M604 240h4M796 240h4M828 240h4M900 240h4M560 244h4M608 244h4M904 244h4M560 248h4M612 248h4M712 248h4M832 248h4M900 248h4M560 252h4M616 252h4M660 252h4M712 252h4M900 252h4M564 256h4M616 256h4M712 256h4M896 256h4M564 260h4M616 260h4M716 260h4M788 260h4M836 260h4M892 260h4M568 264h4M664 264h4M716 264h4M836 264h4M888 264h4M576 268h4M608 268h4M716 268h4M792 268h4M884 268h4M584 272h4M600 272h4M668 272h4M716 272h4M796 272h4M836 272h4M716 276h4M836 276h4M880 276h4M672 280h4M716 280h4M808 280h4M832 280h4M716 284h4M884 284h4M888 288h8M680 292h4M712 292h4M896 292h12M712 296h4M904 296h8M692 300h4M708 300h4M908 300h8M920 300h12M696 304h12M908 304h12M928 304h4M908 308h12M908 312h12M708 316h8M908 316h8M972 316h32M716 320h4M912 320h4M956 320h12M716 324h4M776 324h4M800 324h4M940 324h12M708 328h12M768 332h4M804 332h4M804 336h4M808 344h16M764 348h4M764 352h4M820 352h4M768 360h4M812 360h4M796 364h4M880 404h4M892 404h8M868 408h4M904 408h4M908 412h4M824 416h4M912 416h4M820 424h4M820 428h4M920 432h4M824 440h4M828 448h4M832 452h4M920 452h4M916 460h4M840 464h4M908 464h4M844 468h4M872 468h28M852 472h4M836 484h8M848 484h4M832 488h4M852 488h4M828 492h4M824 496h4M856 496h4M440 500h4M444 504h4M860 504h4M448 508h4M824 512h4M864 512h4M828 516h4M832 520h4M472 524h4M836 524h4M424 528h4M472 528h4M424 532h4M472 532h4M840 532h4M864 532h4M424 536h4M472 536h4M840 536h4M472 540h4M840 540h4M472 544h4M840 544h4M872 544h4M420 548h4M472 548h4M840 548h4M876 548h4M420 552h4M472 552h4M844 552h4M472 556h4M844 556h8M884 556h4M420 560h4M472 560h4M848 560h4M924 560h4M420 564h4M852 564h4M408 568h12M428 568h4M856 568h4M400 572h4M392 576h4M420 576h4M456 576h4M660 576h16M860 576h4M940 576h4M960 576h16M392 580h4M660 580h4M684 580h8M980 580h24M392 584h4M416 584h4M660 584h4M692 584h4M396 588h4M412 588h4M660 588h4M688 592h4M872 592h4M944 592h4M664 596h4M684 596h4M872 596h4M948 596h8M672 600h8M868 600h4M860 604h4M744 612h4M752 616h4M848 616h4M552 620h36M720 620h4M756 620h4M844 620h4M548 624h8M592 624h4M836 624h4M540 628h12M716 628h4M760 628h4M836 628h4M536 632h12M716 632h4M760 632h4M840 632h4M512 636h28M760 636h4M504 640h4M604 640h4M844 640h4M496 644h4M756 644h4M848 644h4M492 648h4M716 648h4M852 648h4M488 652h4M716 652h4M856 652h4M304 656h4M484 656h4M600 656h4M716 656h4M856 656h8M300 660h4M308 660h4M480 660h4M712 660h4M740 660h4M860 660h8M480 664h4M600 664h4M736 664h4M864 664h8M312 668h4M476 668h4M704 668h4M732 668h8M864 668h16M912 668h24M960 668h44M296 672h4M312 672h4M472 672h4M732 672h4M868 672h12M908 672h96M312 676h4M472 676h4M576 676h4M632 676h4M644 676h4M656 676h4M704 676h4M732 676h4M868 676h12M904 676h12M944 676h60M308 680h4M468 680h4M568 680h4M592 680h4M664 680h4M704 680h4M728 680h4M868 680h8M900 680h12M956 680h48M468 684h4M564 684h4M636 684h4M668 684h4M708 684h4M728 684h4M864 684h8M900 684h8M960 684h20M468 688h4M668 688h4M708 688h20M860 688h8M900 688h8M468 692h4M596 692h4M668 692h4M716 692h8M856 692h8M900 692h4M464 696h4M596 696h4M668 696h4M852 696h4M896 696h8M464 700h4M592 700h4M668 700h4M848 700h4M896 700h8M464 704h4M584 704h4M664 704h4M844 704h8M896 704h4M460 708h8M664 708h4M844 708h4M896 708h4M200 712h16M460 712h4M664 712h4M840 712h8M892 712h4M196 716h4M216 716h4M460 716h8M664 716h8M840 716h8M888 716h4M216 720h4M464 720h4M668 720h4M840 720h8M884 720h8M196 724h4M212 724h8M464 724h4M668 724h4M848 724h16M880 724h8M200 728h4M208 728h8M224 728h4M468 728h4M664 728h4M872 728h12M224 732h12M468 732h8M660 732h8M224 736h16M472 736h8M656 736h8M224 740h16M480 740h8M652 740h8M224 744h20M480 744h12M652 744h8M224 748h20M480 748h12M652 748h8M224 752h20M480 752h8M652 752h4M228 756h12M476 756h12M652 756h4M228 760h12M476 760h8M652 760h8M228 764h16M476 764h4M656 764h4M228 768h20M476 768h4M656 768h4M228 772h20M476 772h4M656 772h4M228 776h20M476 776h4M656 776h4M228 780h20M476 780h4M656 780h4M228 784h20M476 784h4M656 784h4"/>
<path stroke="#7a7a7a" d="M920 72h4M784 76h4M916 76h4M912 84h4M908 88h4M788 96h4M904 96h4M776 100h4M900 100h4M764 104h8M772 108h4M784 112h4M788 116h4M896 124h4M892 136h4M776 144h4M892 144h4M892 148h4M892 152h4M772 160h4M896 172h4M984 172h20M748 176h16M896 176h4M960 176h44M756 180h4M896 180h4M932 180h72M760 184h4M896 184h8M916 184h88M896 188h8M916 188h88M760 192h4M892 192h16M916 192h88M892 196h112M684 200h12M760 200h8M888 200h116M664 204h32M808 204h4M820 204h8M888 204h4M900 204h104M552 208h4M696 208h4M832 208h8M876 208h12M900 208h4M920 208h84M540 212h8M560 212h4M656 212h4M800 212h4M900 212h4M928 212h76M540 216h4M568 216h4M656 216h4M700 216h4M800 216h4M896 216h4M936 216h68M540 220h4M572 220h4M896 220h4M944 220h60M544 224h8M572 224h4M788 224h8M896 224h4M952 224h52M552 228h8M576 228h4M656 228h4M704 228h4M952 228h52M556 232h8M576 232h16M900 232h4M952 232h52M560 236h4M596 236h4M808 236h4M820 236h4M900 236h4M932 236h72M560 240h4M708 240h4M904 240h4M924 240h80M564 244h4M660 244h4M708 244h4M908 244h4M924 244h60M564 248h4M660 248h4M708 248h4M792 248h4M904 248h8M924 248h32M564 252h4M612 252h4M708 252h4M904 252h4M924 252h8M568 256h4M900 256h4M568 260h4M664 260h4M712 260h4M896 260h4M1000 260h4M572 264h4M612 264h4M988 264h16M580 268h4M604 268h4M836 268h4M888 268h4M980 268h24M588 272h12M884 272h4M968 272h36M672 276h4M832 276h4M884 276h4M956 276h48M824 280h8M884 280h4M948 280h56M676 284h4M712 284h4M888 284h4M936 284h68M680 288h4M712 288h4M896 288h16M924 288h80M684 292h4M908 292h96M688 296h4M708 296h4M912 296h92M704 300h4M916 300h4M932 300h72M932 304h72M932 308h72M932 312h72M932 316h40M708 320h8M932 320h24M708 324h8M932 324h8M772 328h4M800 328h4M768 336h4M768 340h4M804 340h4M804 344h4M820 348h4M816 356h4M808 360h4M780 364h16M884 404h8M900 408h4M828 412h4M848 412h8M916 424h4M824 436h4M920 436h4M828 444h4M920 448h4M836 456h4M916 456h4M840 460h4M912 460h4M844 464h4M904 464h4M848 468h24M844 484h4M836 488h4M848 488h4M852 492h4M428 500h4M436 500h4M824 500h4M856 500h4M424 504h4M824 508h4M860 508h4M452 512h4M860 512h4M860 516h4M468 520h4M860 520h4M424 524h4M860 524h4M840 528h4M860 528h4M864 536h4M424 540h4M868 540h4M844 548h4M848 552h4M876 552h4M420 556h4M852 556h4M852 560h4M900 560h24M424 564h4M468 564h4M404 572h16M460 572h4M936 572h4M396 576h4M416 576h4M440 576h4M416 580h4M664 580h20M864 580h4M956 580h24M396 584h4M688 584h4M868 584h4M956 584h48M400 588h12M664 588h4M688 588h4M872 588h4M956 588h48M664 592h4M684 592h4M956 592h48M668 596h16M876 596h4M944 596h4M956 596h48M872 600h4M944 600h60M952 604h24M856 608h4M728 612h16M852 612h4M724 616h4M748 616h4M752 620h4M556 624h8M588 624h4M720 624h4M756 624h4M840 624h4M552 628h4M596 628h4M756 628h4M840 628h4M548 632h4M600 632h4M540 636h12M716 636h4M844 636h4M508 640h4M532 640h16M716 640h4M756 640h4M848 640h4M500 644h8M716 644h4M852 644h8M496 648h4M752 648h4M856 648h8M492 652h4M600 652h4M720 652h4M748 652h4M860 652h8M488 656h4M720 656h4M744 656h4M864 656h20M304 660h4M484 660h4M716 660h24M868 660h68M300 664h4M308 664h4M596 664h4M708 664h8M724 664h12M872 664h132M480 668h4M600 668h12M624 668h4M728 668h4M880 668h32M936 668h24M476 672h4M580 672h12M704 672h4M728 672h4M880 672h28M296 676h4M572 676h4M592 676h4M652 676h4M728 676h4M880 676h24M296 680h4M304 680h4M472 680h4M660 680h4M708 680h4M724 680h4M876 680h24M472 684h4M596 684h4M640 684h4M664 684h4M712 684h16M872 684h28M472 688h4M596 688h4M868 688h8M888 688h12M472 692h4M560 692h4M664 692h4M864 692h8M892 692h8M468 696h4M560 696h4M664 696h4M856 696h8M892 696h4M468 700h4M596 700h4M660 700h8M852 700h8M892 700h4M468 704h4M564 704h4M588 704h4M660 704h4M852 704h8M892 704h4M468 708h4M656 708h8M848 708h8M888 708h8M464 712h8M656 712h8M848 712h8M888 712h4M208 716h8M468 716h4M656 716h8M848 716h8M884 716h4M196 720h4M212 720h4M468 720h4M660 720h8M848 720h20M876 720h8M208 724h4M468 724h4M660 724h8M864 724h16M204 728h4M472 728h4M656 728h8M476 732h8M652 732h8M480 736h12M556 736h12M648 736h8M488 740h28M556 740h12M644 740h8M492 744h28M556 744h16M640 744h12M492 748h28M556 748h16M640 748h12M488 752h28M556 752h12M640 752h12M488 756h24M556 756h12M640 756h12M484 760h24M556 760h12M640 760h12M480 764h24M556 764h8M640 764h16M480 768h24M556 768h8M636 768h20M480 772h24M556 772h8M636 772h20M480 776h24M556 776h8M636 776h20M480 780h24M556 780h8M636 780h20M480 784h24M556 784h8M636 784h20"/>
<path stroke="#7c7c7c" d="M784 72h4M912 72h8M912 76h4M908 80h8M904 84h8M788 88h4M904 88h4M788 92h4M900 92h8M900 96h4M780 100h8M772 104h4M776 108h4M788 112h4M896 116h4M896 120h4M784 124h4M892 132h4M780 136h4M888 140h4M888 144h4M892 156h4M892 160h4M772 164h4M892 164h4M892 168h4M892 172h4M764 176h4M892 176h4M760 180h4M892 180h4M892 184h4M892 188h4M888 192h4M760 196h4M888 196h4M808 200h16M884 200h4M804 204h4M828 204h8M880 204h8M660 208h4M672 208h24M800 208h4M840 208h36M904 208h16M548 212h12M696 212h4M904 212h4M920 212h8M544 216h8M560 216h8M900 216h4M928 216h8M544 220h8M560 220h12M656 220h4M700 220h4M784 220h4M796 220h4M936 220h8M552 224h20M656 224h4M944 224h8M560 228h16M900 228h4M948 228h4M564 232h12M704 232h4M940 232h12M564 236h8M576 236h20M660 236h4M812 236h8M904 236h28M564 240h8M600 240h4M660 240h4M800 240h4M824 240h4M908 240h16M568 244h4M604 244h4M828 244h4M912 244h12M984 244h20M568 248h4M608 248h4M912 248h12M956 248h32M568 252h4M832 252h4M908 252h16M932 252h28M572 256h4M612 256h4M664 256h4M708 256h4M904 256h32M996 256h8M572 260h4M612 260h4M900 260h24M984 260h16M576 264h4M608 264h4M712 264h4M892 264h8M916 264h8M976 264h12M584 268h4M600 268h4M668 268h4M712 268h4M892 268h4M916 268h8M964 268h16M888 272h4M916 272h8M952 272h16M712 276h4M888 276h4M916 276h8M944 276h12M676 280h4M712 280h4M812 280h4M820 280h4M888 280h4M920 280h4M932 280h16M892 284h44M708 288h4M912 288h12M708 292h4M704 296h4M696 300h8M780 324h4M796 324h4M772 332h4M800 332h4M768 344h4M804 348h16M816 352h4M768 356h4M812 356h4M772 360h4M796 360h12M872 408h4M832 412h16M856 412h4M904 412h4M828 416h4M824 420h4M824 424h4M824 428h4M824 432h4M828 440h4M920 440h4M920 444h4M832 448h4M836 452h4M848 464h4M900 464h4M840 488h8M832 492h4M848 492h4M828 496h4M852 496h4M432 500h4M824 504h4M856 504h4M424 508h4M424 512h4M424 516h4M424 520h4M464 520h4M860 532h4M844 540h4M424 544h4M468 544h4M844 544h4M868 544h4M424 548h4M468 548h4M848 548h4M872 548h4M468 552h4M852 552h4M856 556h4M880 556h4M424 560h4M468 560h4M856 560h4M892 560h8M428 564h4M856 564h4M928 564h4M432 568h4M464 568h4M932 568h4M436 572h4M860 572h4M400 576h8M412 576h4M444 576h12M396 580h4M940 580h4M400 584h4M412 584h4M664 584h24M940 584h4M668 588h4M680 588h8M940 588h4M668 592h16M876 592h4M940 592h4M940 596h4M940 600h4M864 604h4M940 604h12M976 604h28M944 608h36M952 612h4M728 616h4M744 616h4M952 616h4M724 620h4M848 620h4M952 620h4M564 624h8M752 624h4M844 624h4M952 624h4M556 628h4M720 628h4M844 628h4M552 632h4M720 632h4M756 632h4M844 632h4M552 636h4M600 636h4M756 636h4M848 636h4M512 640h4M524 640h8M548 640h8M852 640h8M980 640h24M508 644h4M536 644h16M720 644h4M752 644h4M860 644h8M964 644h40M500 648h4M600 648h4M720 648h4M864 648h20M908 648h16M960 648h44M744 652h4M868 652h72M944 652h60M724 656h20M884 656h120M488 660h4M596 660h4M936 660h68M304 664h4M484 664h4M592 664h4M716 664h8M300 668h4M308 668h4M584 668h16M612 668h4M708 668h8M720 668h8M480 672h4M576 672h4M592 672h8M628 672h4M708 672h4M720 672h8M308 676h4M476 676h4M568 676h4M648 676h4M708 676h4M720 676h8M300 680h4M476 680h4M564 680h4M596 680h4M632 680h4M644 680h4M712 680h12M476 684h4M560 688h4M636 688h4M664 688h4M876 688h12M600 692h4M872 692h20M472 696h4M600 696h4M660 696h4M864 696h12M884 696h8M472 700h4M560 700h4M600 700h4M656 700h4M860 700h12M888 700h4M472 704h4M592 704h4M652 704h8M860 704h8M888 704h4M472 708h4M568 708h16M644 708h12M856 708h8M884 708h4M472 712h4M644 712h12M856 712h12M880 712h8M200 716h8M472 716h4M644 716h12M856 716h28M200 720h12M472 720h4M644 720h16M868 720h8M200 724h8M472 724h8M644 724h16M476 728h8M560 728h12M640 728h16M484 732h8M556 732h16M636 732h16M492 736h28M552 736h4M568 736h8M632 736h16M516 740h12M552 740h4M568 740h8M632 740h12M520 744h8M552 744h4M572 744h4M628 744h12M520 748h8M552 748h4M572 748h4M628 748h12M516 752h12M552 752h4M568 752h8M628 752h12M512 756h16M552 756h4M568 756h8M628 756h12M508 760h16M552 760h4M568 760h4M632 760h8M504 764h20M552 764h4M564 764h4M632 764h8M504 768h24M552 768h4M564 768h4M632 768h4M504 772h24M552 772h4M564 772h4M632 772h4M504 776h24M552 776h4M564 776h4M632 776h4M504 780h24M552 780h4M564 780h4M632 780h4M504 784h24M552 784h4M564 784h4M632 784h4"/>
<path stroke="#7e7e7e" d="M900 72h12M900 76h12M900 80h8M788 84h4M900 84h4M900 88h4M896 96h4M788 100h4M896 100h4M896 104h4M780 108h4M896 108h4M896 112h4M788 120h4M892 128h4M888 136h4M888 148h4M888 152h4M888 156h4M888 160h4M888 164h4M888 168h4M768 172h4M888 172h4M888 176h4M888 180h4M888 184h4M888 188h4M884 192h4M764 196h4M812 196h8M884 196h4M768 200h4M804 200h4M824 200h4M880 200h4M772 204h4M800 204h4M836 204h4M876 204h4M664 208h8M680 212h16M908 212h12M552 216h8M696 216h4M796 216h4M904 216h4M924 216h4M552 220h8M788 220h8M900 220h4M932 220h4M700 224h4M900 224h4M912 224h4M940 224h4M904 228h4M912 228h8M940 228h8M660 232h4M904 232h36M572 236h4M704 236h4M572 240h16M592 240h8M704 240h4M572 244h8M600 244h4M704 244h4M796 244h4M572 248h4M604 248h4M664 248h4M704 248h4M988 248h16M572 252h4M608 252h4M664 252h4M960 252h44M576 256h4M832 256h4M936 256h28M976 256h20M576 260h4M608 260h4M708 260h4M924 260h16M972 260h12M580 264h8M604 264h4M668 264h4M900 264h16M924 264h8M960 264h16M588 268h12M896 268h20M924 268h8M948 268h16M672 272h4M712 272h4M832 272h4M892 272h4M912 272h4M924 272h4M940 272h12M676 276h4M828 276h4M892 276h4M908 276h8M924 276h20M816 280h4M892 280h28M924 280h8M680 284h4M708 284h4M684 288h4M688 292h4M692 296h4M784 324h12M776 328h4M772 336h4M800 336h4M800 340h4M800 344h4M768 348h4M800 348h4M768 352h4M800 352h16M800 356h12M776 360h4M792 360h4M876 408h8M892 408h8M860 412h4M908 416h4M912 420h4M916 428h4M916 452h4M840 456h4M844 460h4M908 460h4M852 464h4M896 464h4M836 492h12M848 496h4M828 500h4M852 500h4M440 504h4M444 508h4M856 508h4M828 512h4M856 512h4M456 516h4M832 516h4M856 516h4M836 520h4M856 520h4M468 524h4M840 524h4M468 528h4M428 532h4M468 532h4M844 532h4M468 536h4M844 536h4M860 536h4M468 540h4M864 540h4M848 544h4M864 544h4M852 548h8M868 548h4M424 552h4M856 552h8M868 552h8M424 556h4M468 556h4M860 556h4M876 556h4M428 560h4M884 560h8M408 576h4M936 576h4M400 580h16M404 584h8M872 584h4M672 588h8M876 588h4M936 588h4M880 592h4M932 592h8M880 596h4M928 596h12M876 600h4M916 600h24M908 604h32M912 608h32M980 608h24M928 612h24M956 612h28M732 616h12M936 616h16M956 616h8M728 620h4M748 620h4M944 620h8M956 620h4M572 624h16M724 624h4M948 624h4M956 624h4M1000 624h4M560 628h4M592 628h4M724 628h4M752 628h4M848 628h4M948 628h12M976 628h28M556 632h4M596 632h4M848 632h4M948 632h56M556 636h4M720 636h4M852 636h8M948 636h56M516 640h8M600 640h4M720 640h4M752 640h4M860 640h12M912 640h24M944 640h36M532 644h4M552 644h4M600 644h4M868 644h96M504 648h4M540 648h16M724 648h4M748 648h4M884 648h24M924 648h36M496 652h4M548 652h8M724 652h4M940 652h4M492 656h4M596 656h4M588 664h4M304 668h4M484 668h4M576 668h8M616 668h8M716 668h4M300 672h4M308 672h4M572 672h4M600 672h8M712 672h8M300 676h8M480 676h4M596 676h4M712 676h8M656 680h4M560 684h4M660 684h4M476 688h4M600 688h4M640 688h4M660 688h4M476 692h4M660 692h4M476 696h4M876 696h8M476 700h4M604 700h4M652 700h4M872 700h16M476 704h4M560 704h4M596 704h12M640 704h12M868 704h20M476 708h4M564 708h4M584 708h4M604 708h12M628 708h16M864 708h20M476 712h4M568 712h12M612 712h32M868 712h12M476 716h4M616 716h28M476 720h4M564 720h12M616 720h28M480 724h4M560 724h16M620 724h24M484 728h8M556 728h4M572 728h8M620 728h20M492 732h24M552 732h4M572 732h8M620 732h16M520 736h12M548 736h4M576 736h4M620 736h12M528 740h8M548 740h4M576 740h4M616 740h16M528 744h8M548 744h4M576 744h4M616 744h12M528 748h12M548 748h4M576 748h8M616 748h12M528 752h8M548 752h4M576 752h8M616 752h12M528 756h8M548 756h4M576 756h4M616 756h12M524 760h12M548 760h4M572 760h8M620 760h12M524 764h12M548 764h4M568 764h8M624 764h8M528 768h12M548 768h4M568 768h4M628 768h4M528 772h12M548 772h4M568 772h4M628 772h4M528 776h12M548 776h4M568 776h4M628 776h4M528 780h12M548 780h4M568 780h4M628 780h4M528 784h12M548 784h4M568 784h4M628 784h4"/>
<path stroke="#808080" d="M896 72h4M896 76h4M788 80h4M896 80h4M896 84h4M896 88h4M896 92h4M776 104h4M784 108h4M792 112h4M792 116h4M892 124h4M784 128h4M888 132h4M780 140h4M884 140h4M884 144h4M776 148h4M884 148h4M772 168h4M884 168h4M884 172h4M884 176h4M764 180h4M884 180h4M764 184h4M884 184h4M764 188h4M884 188h4M764 192h4M808 196h4M820 196h8M880 196h4M828 200h8M876 200h4M840 204h36M776 208h4M796 208h4M660 212h4M676 212h4M780 212h4M796 212h4M692 216h4M784 216h4M908 216h16M696 220h4M904 220h16M928 220h4M904 224h8M916 224h4M936 224h4M700 228h4M908 228h4M920 228h4M932 228h8M588 240h4M804 240h4M820 240h4M580 244h8M596 244h4M664 244h4M576 248h4M828 248h4M576 252h4M604 252h4M704 252h4M792 252h4M580 256h4M608 256h4M964 256h12M580 260h8M604 260h4M668 260h4M832 260h4M940 260h32M588 264h16M832 264h4M932 264h28M672 268h4M832 268h4M932 268h16M896 272h16M928 272h12M896 276h12M680 280h4M708 280h4M704 292h4M796 328h4M796 356h4M884 408h8M900 412h4M832 416h4M828 420h4M916 432h4M828 436h4M832 444h4M836 448h4M912 456h4M848 460h4M904 460h4M856 464h40M832 496h4M844 496h4M848 500h4M428 504h4M828 504h4M852 504h4M828 508h4M852 508h4M448 512h4M460 520h4M856 524h4M428 528h4M844 528h4M856 528h4M856 532h4M428 536h4M848 536h4M428 540h4M848 540h4M860 540h4M852 544h12M860 548h8M864 552h4M864 556h12M860 560h4M880 560h4M432 564h4M464 564h4M860 564h4M924 564h4M436 568h4M860 568h4M440 572h4M456 572h4M932 572h4M864 576h4M868 580h4M936 580h4M876 584h4M936 584h4M880 588h4M932 588h4M928 592h4M884 596h4M916 596h12M880 600h4M904 600h12M868 604h8M904 604h4M904 608h8M908 612h20M984 612h20M852 616h4M912 616h24M964 616h40M732 620h4M744 620h4M912 620h32M960 620h44M728 624h4M748 624h4M848 624h4M916 624h32M960 624h40M564 628h4M912 628h36M960 628h16M560 632h4M724 632h4M752 632h4M852 632h8M912 632h36M724 636h4M752 636h4M860 636h12M904 636h44M556 640h4M872 640h40M936 640h8M512 644h4M528 644h4M556 644h4M724 644h4M748 644h4M508 648h4M536 648h4M556 648h4M500 652h4M544 652h4M728 652h16M496 656h4M552 656h4M492 660h4M592 660h4M488 664h4M584 664h4M568 668h8M304 672h4M484 672h4M564 672h8M564 676h4M600 676h4M480 680h4M560 680h4M648 680h8M480 684h4M600 684h4M632 684h4M644 684h4M480 688h4M636 692h8M604 696h4M656 696h4M636 700h16M608 704h8M628 704h12M560 708h4M588 708h16M616 708h12M564 712h4M580 712h8M600 712h12M480 716h4M560 716h24M600 716h16M480 720h8M560 720h4M576 720h16M600 720h16M484 724h8M552 724h8M576 724h44M492 728h12M548 728h8M580 728h40M516 732h20M548 732h4M580 732h40M532 736h8M544 736h4M580 736h40M536 740h12M580 740h36M536 744h12M580 744h36M540 748h8M584 748h32M536 752h12M584 752h32M536 756h12M580 756h36M536 760h12M580 760h40M536 764h12M576 764h48M540 768h8M572 768h56M540 772h8M572 772h56M540 776h8M572 776h56M540 780h8M572 780h56M540 784h8M572 784h56"/>
<path stroke="#828282" d="M792 96h4M780 104h8M788 124h4M784 132h4M884 136h4M884 152h4M884 156h4M884 160h4M884 164h4M880 172h4M768 176h4M880 176h4M880 184h4M880 188h4M812 192h12M880 192h4M768 196h4M804 196h4M828 196h4M876 196h4M800 200h4M836 200h4M872 200h4M796 204h4M672 212h4M684 216h8M792 216h4M692 220h4M920 220h8M696 224h4M920 224h4M928 224h8M660 228h4M924 228h8M700 232h4M700 236h4M664 240h4M700 240h4M588 244h8M824 244h4M580 248h8M596 248h8M580 252h4M600 252h4M668 252h4M584 256h4M604 256h4M668 256h4M588 260h4M596 260h8M672 264h4M708 264h4M792 264h4M708 268h4M676 272h4M708 276h4M684 284h4M704 288h4M696 296h8M780 328h4M776 332h4M796 332h4M772 340h4M796 352h4M772 356h4M792 356h4M780 360h12M864 412h4M836 416h4M904 416h4M908 420h4M828 424h4M912 424h4M828 428h4M828 432h4M832 440h4M916 448h4M840 452h4M844 456h4M836 496h8M832 500h4M844 500h4M432 504h8M848 504h4M428 508h4M832 512h4M852 512h4M836 516h4M852 516h4M428 520h4M840 520h4M852 520h4M428 524h4M464 524h4M844 524h12M848 528h8M848 532h8M852 536h8M852 540h8M428 544h4M428 548h4M428 552h4M428 556h4M464 560h4M864 560h16M916 564h8M460 568h4M928 568h4M932 576h4M872 580h4M932 580h4M932 584h4M928 588h4M884 592h4M920 592h8M908 596h8M884 600h20M876 604h8M896 604h8M860 608h4M900 608h4M856 612h4M904 612h4M908 616h4M736 620h8M908 620h4M744 624h4M908 624h8M568 628h4M588 628h4M728 628h4M748 628h4M852 628h4M908 628h4M592 632h4M860 632h4M904 632h8M560 636h4M596 636h4M872 636h32M724 640h4M516 644h4M524 644h4M728 648h4M744 648h4M504 652h4M540 652h4M556 652h4M596 652h4M500 656h4M548 656h4M556 656h4M552 660h12M588 660h4M492 664h4M556 664h28M488 668h4M556 668h12M560 672h4M608 672h4M484 676h4M560 676h4M628 676h4M600 680h4M656 684h4M556 688h4M632 688h4M656 688h4M480 692h4M556 692h4M604 692h4M656 692h4M480 696h4M556 696h4M636 696h20M480 700h4M556 700h4M608 700h4M632 700h4M480 704h4M616 704h12M480 708h4M480 712h4M560 712h4M588 712h12M484 716h4M556 716h4M584 716h16M488 720h4M552 720h8M592 720h8M492 724h8M548 724h4M504 728h32M544 728h4M536 732h12M540 736h4"/>
<path stroke="#848484" d="M788 76h4M792 92h4M792 100h4M788 108h4M792 120h4M892 120h4M888 128h4M880 140h4M880 144h4M880 148h4M776 152h4M880 152h4M880 156h4M880 160h4M880 164h4M880 168h4M772 172h4M768 180h4M880 180h4M816 188h4M768 192h4M808 192h4M824 192h4M876 192h4M800 196h4M832 196h4M772 200h4M796 200h4M840 200h32M664 212h8M792 212h4M660 216h4M680 216h4M788 216h4M660 224h4M924 224h4M696 228h4M664 236h4M808 240h4M816 240h4M700 244h4M588 248h8M668 248h4M584 252h8M596 252h4M588 256h16M704 256h4M792 256h4M592 260h4M672 260h4M676 268h4M708 272h4M828 272h4M680 276h4M804 276h4M824 276h4M688 288h4M692 292h4M784 328h4M792 328h4M776 336h4M796 336h4M796 340h4M772 344h4M796 344h4M796 348h4M868 412h4M896 412h4M840 416h8M832 420h4M832 436h4M916 436h4M916 440h4M836 444h4M916 444h4M912 452h4M908 456h4M852 460h8M900 460h4M836 500h8M832 504h4M844 504h4M440 508h4M832 508h4M848 508h4M428 512h4M444 512h4M836 512h4M848 512h4M428 516h4M840 516h12M844 520h8M464 528h4M464 540h4M464 544h4M464 548h4M464 552h4M464 556h4M432 560h4M436 564h4M864 564h4M880 564h36M444 572h12M864 572h4M876 580h4M880 584h4M928 584h4M884 588h4M924 588h4M916 592h4M888 596h4M904 596h4M884 604h12M896 608h4M900 612h4M904 616h4M852 620h4M904 620h4M732 624h12M852 624h4M904 624h4M572 628h16M732 628h4M856 628h4M904 628h4M564 632h4M728 632h4M748 632h4M864 632h40M728 636h4M748 636h4M560 640h4M596 640h4M728 640h4M748 640h4M520 644h4M560 644h4M596 644h4M728 644h4M744 644h4M512 648h4M532 648h4M560 648h4M596 648h4M732 648h12M508 652h4M560 652h4M544 656h4M560 656h4M592 656h4M496 660h4M548 660h4M564 660h8M584 660h4M552 664h4M552 668h4M488 672h4M556 672h4M624 672h4M556 676h4M604 676h4M484 680h4M556 680h4M484 684h4M556 684h4M648 684h8M484 688h4M604 688h4M644 688h4M632 692h4M644 692h4M652 692h4M608 696h4M632 696h4M612 700h4M628 700h4M556 704h4M484 708h4M556 708h4M484 712h4M556 712h4M488 716h4M552 716h4M492 720h8M544 720h8M500 724h12M516 724h32M536 728h8"/>
<path stroke="#868686" d="M788 72h4M792 88h4M892 100h4M788 104h4M892 104h4M792 108h4M796 112h4M796 116h4M892 116h4M888 124h4M884 132h4M784 136h4M780 144h4M876 144h4M876 148h4M876 152h4M776 156h4M776 160h4M876 164h4M876 168h4M872 172h8M876 176h4M876 180h4M768 184h4M876 184h4M768 188h4M808 188h8M820 188h8M876 188h4M804 192h4M828 192h4M872 192h4M836 196h8M872 196h4M776 204h4M780 208h4M792 208h4M784 212h4M676 216h4M660 220h4M688 220h4M692 224h4M696 232h4M812 240h4M668 244h4M800 244h4M700 248h4M796 248h4M592 252h4M828 252h4M672 256h4M704 260h4M792 260h4M680 272h4M684 280h4M704 284h4M788 328h4M780 332h4M772 348h4M772 352h4M792 352h4M776 356h4M872 412h24M848 416h8M900 416h4M836 420h4M832 424h4M908 424h4M912 428h4M832 432h4M840 448h4M844 452h4M848 456h4M860 460h12M896 460h4M836 504h8M836 508h12M840 512h8M432 528h4M432 532h4M464 532h4M432 536h4M464 536h4M432 540h4M432 556h4M460 564h4M868 564h12M440 568h4M864 568h4M924 568h4M928 572h4M868 576h4M928 576h4M880 580h4M928 580h4M924 584h4M920 588h4M888 592h4M912 592h4M892 596h12M864 608h32M896 612h4M900 616h4M900 620h4M900 624h4M736 628h12M860 628h44M588 632h4M732 632h4M744 632h4M732 644h4M740 644h4M536 652h4M504 656h4M564 656h4M500 660h4M572 660h12M496 664h4M492 668h4M552 672h4M612 672h4M488 676h4M552 676h4M488 680h4M604 680h4M604 684h4M648 688h8M484 692h4M648 692h4M484 696h4M484 700h4M616 700h12M484 704h4M552 708h4M488 712h4M548 712h8M492 716h4M544 716h8M500 720h4M528 720h16M512 724h4"/>
<path stroke="#888888" d="M892 72h4M792 80h4M792 84h4M892 88h4M892 92h4M892 96h4M792 104h4M892 108h4M892 112h4M788 128h4M884 128h4M880 136h4M876 140h4M872 148h4M872 152h4M872 156h8M872 160h8M776 164h4M868 164h8M864 168h12M864 172h8M772 176h4M868 176h8M872 180h4M812 184h16M872 184h4M804 188h4M828 188h4M872 188h4M800 192h4M832 192h8M868 192h4M772 196h4M796 196h4M844 196h28M792 200h4M792 204h4M788 212h4M672 216h4M680 220h8M664 232h4M672 252h4M676 264h4M796 268h4M704 280h4M700 292h4M792 332h4M776 340h4M788 356h4M856 416h4M904 420h4M832 428h4M912 432h4M836 440h4M912 448h4M852 456h4M904 456h4M872 460h24M432 508h8M440 512h4M452 516h4M432 524h4M432 544h4M432 548h4M432 552h4M436 560h4M456 568h4M868 568h4M876 568h16M916 568h8M868 572h4M924 572h4M872 576h12M924 580h4M884 584h4M920 584h4M916 588h4M908 592h4M892 612h4M856 616h4M896 616h4M896 620h4M856 624h4M892 624h8M568 632h4M736 632h8M564 636h4M592 636h4M732 636h4M744 636h4M564 640h4M732 640h8M744 640h4M736 644h4M516 648h4M528 648h4M564 648h4M512 652h4M564 652h4M592 652h4M508 656h4M540 656h4M568 656h8M588 656h4M548 664h4M496 668h4M492 672h4M616 672h8M608 676h4M552 680h4M628 680h4M488 684h4M552 684h4M552 688h4M552 692h4M608 692h4M552 696h4M628 696h4M552 700h4M552 704h4M488 708h4M548 708h4M492 712h4M544 712h4M496 716h4M532 716h12M504 720h24"/>
<path stroke="#8a8a8a" d="M892 76h4M892 80h4M892 84h4M796 96h4M796 108h4M888 120h4M792 124h4M880 132h4M872 144h4M868 148h4M864 152h8M864 156h8M856 160h16M852 164h16M776 168h4M848 168h16M848 172h16M848 176h20M772 180h4M816 180h12M864 180h8M808 184h4M828 184h8M868 184h4M832 188h8M868 188h4M772 192h4M796 192h4M840 192h8M864 192h4M792 196h4M776 200h4M780 204h4M784 208h8M688 224h4M692 228h4M696 236h4M668 240h4M820 244h4M672 248h4M824 248h4M676 260h4M704 264h4M680 268h4M704 268h4M828 268h4M800 272h4M684 276h4M704 276h4M820 276h4M688 284h4M696 292h4M784 332h8M780 336h4M792 336h4M792 348h4M780 356h8M860 416h4M896 416h4M840 420h4M836 424h4M836 436h4M912 436h4M840 444h4M844 448h4M848 452h4M908 452h4M856 456h4M900 456h4M432 512h4M432 516h4M432 520h4M460 524h4M460 560h4M440 564h4M444 568h4M872 568h4M892 568h4M908 568h8M872 572h16M920 572h4M884 576h4M924 576h4M884 580h4M920 580h4M888 588h4M912 588h4M892 592h4M860 612h4M872 612h20M876 616h20M856 620h4M876 620h20M860 624h32M572 632h8M584 632h4M736 636h8M592 640h4M740 640h4M564 644h4M520 648h8M592 648h4M532 652h4M568 652h4M576 656h12M504 660h4M544 660h4M500 664h4M548 668h4M548 672h4M492 676h4M548 676h4M548 680h4M488 688h4M612 696h4M488 704h4M548 704h4M492 708h4M540 708h8M496 712h4M532 712h12M500 716h8M524 716h8"/>
<path stroke="#8c8c8c" d="M792 72h4M792 76h4M796 88h4M796 92h4M796 100h4M800 112h4M800 116h4M796 120h4M884 124h4M788 132h4M876 136h4M784 140h4M872 140h4M868 144h4M780 148h4M864 148h4M860 152h4M856 156h8M852 160h4M844 164h8M840 168h8M776 172h4M840 172h8M824 176h24M812 180h4M828 180h36M772 184h4M804 184h4M836 184h32M772 188h4M800 188h4M840 188h28M848 192h16M776 196h4M788 200h4M788 204h4M664 216h8M676 220h4M664 228h4M696 240h4M700 252h4M676 256h4M828 256h4M684 272h4M704 272h4M692 288h4M792 340h4M776 344h4M792 344h4M776 348h4M776 352h4M788 352h4M892 416h4M844 420h4M900 420h4M904 424h4M836 428h4M908 428h4M836 432h4M912 440h4M912 444h4M860 456h8M436 512h4M444 516h8M456 520h4M436 532h4M436 536h4M436 556h4M452 568h4M896 568h12M888 572h4M916 572h4M920 576h4M888 584h4M916 584h4M904 592h4M864 612h8M872 616h4M868 620h8M580 632h4M568 636h4M588 636h4M592 644h4M568 648h4M516 652h4M572 652h4M588 652h4M512 656h4M508 660h4M504 664h4M500 668h4M496 672h4M624 676h4M492 680h4M608 680h4M548 684h4M628 684h4M548 688h4M608 688h4M488 692h4M548 692h4M628 692h4M488 696h4M548 696h4M616 696h4M624 696h4M488 700h4M548 700h4M540 704h8M536 708h4M500 712h4M528 712h4M508 716h4M516 716h8"/>
<path stroke="#8e8e8e" d="M796 72h8M796 76h8M796 80h8M796 84h8M800 88h4M800 92h4M800 96h4M796 104h4M800 108h4M888 116h4M880 128h4M856 152h4M852 156h4M844 160h8M840 164h4M836 168h4M824 172h16M816 176h8M808 180h4M796 188h4M776 192h4M792 192h4M788 196h4M780 200h8M784 204h4M684 224h4M692 232h4M668 236h4M672 244h4M804 244h4M676 252h4M680 264h4M828 264h4M824 272h4M808 276h4M688 280h4M700 288h4M784 336h8M780 340h4M864 416h8M876 416h16M840 424h4M908 432h4M840 440h4M908 448h4M852 452h4M904 452h4M868 456h8M896 456h4M436 516h8M436 520h4M436 524h4M436 528h4M436 540h4M436 544h4M436 548h4M436 552h4M460 556h4M448 568h4M892 572h4M908 572h8M888 576h4M916 576h4M888 580h4M916 580h4M912 584h4M908 588h4M896 592h8M860 616h4M868 616h4M860 620h8M572 636h4M568 640h4M568 644h4M528 652h4M576 652h12M536 656h4M540 660h4M544 664h4M496 676h4M612 676h4M492 684h4M608 684h4M628 688h4M544 692h4M612 692h4M544 696h4M620 696h4M540 700h8M492 704h4M536 704h4M496 708h4M528 708h8M504 712h4M524 712h4M512 716h4"/>
<path stroke="#909090" d="M804 72h4M804 76h4M804 80h4M804 84h4M804 88h4M804 92h8M804 96h8M800 100h4M804 112h4M888 112h4M884 120h4M796 124h4M792 128h4M876 132h4M872 136h4M868 140h4M864 144h4M860 148h4M780 152h4M852 152h4M848 156h4M840 160h4M836 164h4M828 168h8M820 172h4M776 176h4M812 176h4M800 184h4M776 188h4M792 188h4M788 192h4M780 196h8M680 224h4M688 228h4M816 244h4M796 252h4M700 256h4M680 260h4M828 260h4M684 268h4M816 276h4M784 340h8M780 344h4M788 344h4M788 348h4M780 352h8M872 416h4M848 420h4M896 420h4M900 424h4M840 428h4M904 428h4M840 432h4M840 436h4M844 444h4M848 448h4M856 452h4M876 456h20M460 528h4M460 552h4M440 560h4M456 564h4M912 576h4M912 580h4M892 588h4M864 616h4M576 636h12M588 640h4M588 644h4M572 648h4M588 648h4M520 652h8M516 656h4M512 660h4M508 664h4M504 668h4M544 668h4M500 672h4M496 680h4M544 680h4M544 684h4M492 688h4M544 688h4M540 696h4M492 700h4M536 700h4M532 704h4M500 708h4M520 712h4"/>
<path stroke="#929292" d="M808 88h4M804 100h4M800 104h4M804 108h4M888 108h4M804 116h4M800 120h4M880 124h4M876 128h4M788 136h4M784 144h4M860 144h4M856 148h4M780 156h4M844 156h4M780 160h4M836 160h4M832 164h4M824 168h4M816 172h4M776 180h4M804 180h4M776 184h4M796 184h4M788 188h4M780 192h8M664 220h4M664 224h4M696 244h4M808 244h4M676 248h4M800 248h4M680 256h4M812 276h4M784 344h4M780 348h8M852 420h4M892 420h4M844 424h4M908 436h4M908 440h4M908 444h4M860 452h8M900 452h4M440 520h4M460 532h4M460 544h4M460 548h4M440 556h4M444 564h4M896 572h12M892 576h4M908 576h4M908 584h4M904 588h4M572 640h4M584 640h4M572 644h4M576 648h12M532 656h4M544 672h4M500 676h4M544 676h4M616 676h8M624 680h4M540 688h4M612 688h4M492 692h4M540 692h4M624 692h4M492 696h4M536 696h4M532 700h4M496 704h4M528 704h4M524 708h4M508 712h12"/>
<path stroke="#949494" d="M808 72h4M808 76h4M808 80h4M808 84h4M812 96h4M808 100h4M888 100h4M804 104h4M888 104h4M808 112h4M884 116h4M872 132h4M868 136h4M864 140h4M852 148h4M848 152h4M840 156h4M832 160h4M780 164h4M828 164h4M780 168h4M820 168h4M812 172h4M808 176h4M800 180h4M792 184h4M780 188h8M672 220h4M684 228h4M692 236h4M672 240h4M812 244h4M680 252h4M700 260h4M684 264h4M688 276h4M692 284h4M700 284h4M696 288h4M856 420h4M880 420h12M844 428h4M904 432h4M844 440h4M848 444h4M852 448h4M904 448h4M868 452h4M440 524h4M460 536h4M460 540h4M892 580h4M908 580h4M892 584h4M896 588h4M576 640h8M576 644h12M520 656h4M516 660h4M536 660h4M512 664h4M540 664h4M508 668h4M504 672h4M612 680h4M496 684h4M540 684h4M612 684h4M536 692h4M616 692h8M532 696h4M528 700h4M524 704h4M504 708h4M520 708h4"/>
<path stroke="#969696" d="M812 92h4M888 96h4M812 100h4M808 104h4M808 108h4M808 116h4M804 120h4M880 120h4M800 124h4M876 124h4M796 128h4M792 132h4M860 140h4M856 144h4M844 152h4M836 156h4M828 160h4M824 164h4M816 168h4M780 172h4M780 176h4M804 176h4M780 180h4M796 180h4M780 184h4M788 184h4M668 232h4M688 232h4M824 252h4M796 264h4M860 420h4M876 420h4M848 424h4M896 424h4M900 428h4M844 432h4M844 436h4M904 436h4M856 448h4M872 452h8M896 452h4M444 520h4M440 528h4M440 532h4M440 552h4M456 560h4M452 564h4M896 576h4M904 576h4M900 588h4M524 656h8M508 672h4M504 676h4M500 680h4M624 684h4M536 688h4M624 688h4M532 692h4M528 696h4M496 700h4M500 704h4M508 708h4"/>
<path stroke="#989898" d="M888 72h4M888 76h4M888 80h4M888 84h4M812 88h4M888 88h4M888 92h4M812 108h4M812 112h4M884 112h4M872 128h4M868 132h4M864 136h4M788 140h4M852 144h4M784 148h4M848 148h4M840 152h4M832 156h4M824 160h4M820 164h4M812 168h4M808 172h4M800 176h4M784 184h4M668 220h4M676 244h4M820 248h4M796 256h4M684 260h4M700 264h4M700 280h4M864 420h12M892 424h4M848 440h4M904 440h4M852 444h4M904 444h4M860 448h4M900 448h4M880 452h16M452 520h4M456 524h4M440 536h4M440 540h4M440 544h4M440 548h4M444 560h4M448 564h4M900 576h4M896 580h4M904 580h4M896 584h4M904 584h4M520 660h4M532 660h4M516 664h4M512 668h4M540 680h4M616 680h8M496 688h4M616 688h4M524 700h4M520 704h4M512 708h8"/>
<path stroke="#9a9a9a" d="M812 72h4M812 76h4M812 80h4M812 84h4M816 92h4M816 96h4M812 104h4M812 116h4M880 116h4M808 120h4M804 124h4M792 136h4M860 136h4M856 140h4M844 148h4M836 152h4M828 156h4M816 164h4M804 172h4M784 180h12M676 224h4M680 248h4M696 248h4M796 260h4M700 268h4M824 268h4M688 272h4M700 272h4M820 272h4M700 276h4M852 424h4M884 424h8M848 428h4M896 428h4M900 432h4M864 448h8M448 520h4M900 580h4M900 584h4M524 660h4M536 664h4M540 668h4M616 684h4M620 688h4M496 692h4M528 692h4M496 696h4M524 696h4M504 704h4"/>
<path stroke="#9c9c9c" d="M816 84h4M816 88h4M816 100h4M816 104h4M816 108h4M884 108h4M816 112h4M812 120h4M876 120h4M872 124h4M800 128h4M868 128h4M796 132h4M864 132h4M852 140h4M848 144h4M840 148h4M832 152h4M824 156h4M820 160h4M812 164h4M808 168h4M784 176h4M796 176h4M680 228h4M684 256h4M804 272h4M876 424h8M848 432h4M848 436h4M900 436h4M856 444h4M900 444h4M872 448h4M896 448h4M456 556h4M528 660h4M520 664h4M516 668h4M512 672h4M540 672h4M508 676h4M540 676h4M500 684h4M536 684h4M620 684h4M532 688h4M500 700h4M520 700h4M508 704h4M516 704h4"/>
<path stroke="#9e9e9e" d="M816 72h12M816 76h12M816 80h12M820 84h12M820 88h12M820 92h12M820 96h8M820 100h4M884 104h4M820 108h4M820 112h4M816 116h4M808 124h4M856 136h4M788 144h4M844 144h4M836 148h4M784 152h4M828 152h4M816 160h4M784 168h4M804 168h4M784 172h4M800 172h4M792 176h4M684 232h4M672 236h4M692 240h4M804 248h4M800 268h4M692 280h4M696 284h4M856 424h4M872 424h4M892 428h4M896 432h4M852 440h4M900 440h4M860 444h4M876 448h4M444 524h4M444 556h4M524 664h4M532 664h4M504 680h4M512 704h4"/>
<path stroke="#a0a0a0" d="M828 72h4M884 72h4M828 76h4M828 80h4M832 88h4M832 92h4M828 96h4M824 100h4M884 100h4M820 104h4M824 108h4M824 112h4M880 112h4M820 116h4M876 116h4M816 120h4M872 120h4M812 124h4M868 124h4M804 128h4M864 128h4M800 132h4M860 132h4M852 136h4M848 140h4M840 144h4M832 148h4M784 156h4M820 156h4M784 160h4M812 160h4M784 164h4M808 164h4M796 172h4M788 176h4M668 224h4M668 228h4M824 256h4M688 268h4M860 424h12M852 428h4M880 428h12M896 436h4M864 444h8M896 444h4M880 448h16M528 664h4M520 668h4M520 696h4M504 700h4M516 700h4"/>
<path stroke="#a2a2a2" d="M884 76h4M884 80h4M832 84h4M832 96h4M884 96h4M828 100h4M824 104h4M828 108h4M828 112h4M824 116h4M820 120h4M816 124h4M808 128h4M856 132h4M796 136h4M792 140h4M844 140h4M836 144h4M824 152h4M816 156h4M808 160h4M804 164h4M800 168h4M688 236h4M684 252h4M696 252h4M800 252h4M824 264h4M876 428h4M852 432h4M892 432h4M852 436h4M856 440h4M896 440h4M872 444h4M448 560h8M536 668h4M516 672h4M500 688h4M524 692h4M500 696h4M508 700h8"/>
<path stroke="#a4a4a4" d="M832 72h4M832 76h4M832 80h4M884 84h4M884 88h4M884 92h4M836 96h4M832 100h4M828 104h4M832 108h4M880 108h4M832 112h4M828 116h4M824 120h4M864 124h4M860 128h4M804 132h4M848 136h4M840 140h4M828 148h4M820 152h4M812 156h4M788 172h8M672 224h4M676 240h4M816 248h4M824 260h4M856 428h4M872 428h4M888 432h4M892 436h4M860 440h8M876 444h4M892 444h4M456 528h4M444 552h4M456 552h4M524 668h4M512 676h4M536 680h4M528 688h4"/>
<path stroke="#a6a6a6" d="M836 88h4M836 92h4M836 100h4M832 104h4M876 112h4M872 116h4M868 120h4M820 124h4M812 128h4M856 128h4M852 132h4M800 136h4M844 136h4M832 144h4M788 148h4M824 148h4M804 160h4M800 164h4M796 168h4M688 264h4M816 272h4M692 276h4M696 280h4M860 428h4M868 428h4M876 432h12M856 436h4M868 440h8M892 440h4M880 444h12M444 528h4M528 668h8M532 684h4M500 692h4"/>
<path stroke="#a8a8a8" d="M880 72h4M880 76h4M880 80h4M836 84h4M836 104h4M880 104h4M836 108h4M836 112h4M832 116h4M828 120h4M860 124h4M816 128h4M808 132h4M848 132h4M796 140h4M836 140h4M792 144h4M816 152h4M808 156h4M788 168h4M680 244h4M808 248h4M820 252h4M808 272h4M864 428h4M856 432h4M868 432h8M860 436h4M868 436h24M876 440h8M888 440h4M536 672h4M536 676h4M508 680h4M504 684h4M504 696h4M516 696h4"/>
<path stroke="#aaaaaa" d="M836 80h4M880 84h4M840 96h4M840 100h4M880 100h4M840 104h4M864 120h4M824 124h4M852 128h4M840 136h4M828 144h4M820 148h4M788 152h4M812 152h4M800 160h4M792 168h4M692 244h4M812 248h4M696 256h4M688 260h4M812 272h4M860 432h8M864 436h4M884 440h4M448 524h8M444 548h4M456 548h4M520 672h4"/>
<path stroke="#acacac" d="M836 72h4M836 76h4M880 88h4M840 92h4M880 96h4M840 108h4M876 108h4M872 112h4M836 116h4M868 116h4M832 120h4M856 124h4M820 128h4M812 132h4M844 132h4M804 136h4M832 140h4M788 156h4M804 156h4M788 160h4M788 164h4M796 164h4M676 228h4M672 232h4M684 248h4M820 268h4M444 532h4M456 532h4M448 556h8M520 692h4M508 696h8"/>
<path stroke="#aeaeae" d="M840 84h4M840 88h4M880 92h4M840 112h4M860 120h4M828 124h4M848 128h4M816 132h4M836 136h4M800 140h4M824 144h4M816 148h4M808 152h4M672 228h4M680 232h4M800 256h4M696 260h4M800 264h4M696 276h4M444 536h4M444 544h4M456 544h4"/>
<path stroke="#b0b0b0" d="M876 72h4M876 76h4M840 80h4M844 92h4M844 96h4M844 100h4M844 104h4M852 124h4M824 128h4M840 132h4M808 136h4M828 140h4M796 144h4M792 148h4M800 156h4M792 164h4M684 236h4M688 256h4M696 264h4M692 272h4M456 536h4M444 540h4M524 672h4M532 672h4"/>
<path stroke="#b2b2b2" d="M840 72h8M840 76h8M844 80h8M876 80h4M844 84h8M844 88h8M848 92h4M876 104h4M844 108h4M864 116h4M836 120h4M832 124h4M844 128h4M820 132h4M832 136h4M804 140h4M820 144h4M812 148h4M804 152h4M796 160h4M688 240h4M696 268h4M696 272h4M456 540h4M516 676h4M504 688h4M504 692h4"/>
<path stroke="#b4b4b4" d="M848 72h4M848 76h8M852 80h4M852 84h4M876 84h4M852 88h4M848 96h4M868 112h4M840 116h4M856 120h4M828 128h4M824 132h4M836 132h4M812 136h4M824 140h4M792 152h4M792 160h4M676 236h4M804 252h4M800 260h4M804 268h4M528 672h4M532 680h4M524 688h4"/>
<path stroke="#b6b6b6" d="M852 72h8M872 72h4M856 76h4M872 76h4M856 80h4M872 80h4M856 84h4M852 92h4M848 100h4M872 108h4M844 112h4M848 124h4M832 128h4M840 128h4M828 132h8M816 136h4M828 136h4M808 140h4M800 144h4M816 144h4M796 148h4M808 148h4M800 152h4M792 156h8M692 268h4M448 552h4"/>
<path stroke="#b8b8b8" d="M860 72h12M860 76h12M860 80h12M860 84h4M856 88h4M876 88h4M852 96h4M876 100h4M848 104h4M860 116h4M840 120h4M852 120h4M836 124h4M844 124h4M836 128h4M820 136h8M812 140h4M820 140h4M804 144h4M812 144h4M800 148h8M796 152h4M676 232h4M680 240h4M692 248h4M688 252h4M820 256h4M448 528h8M452 552h4M532 676h4M512 680h4M508 684h4M528 684h4M516 692h4"/>
<path stroke="#bababa" d="M864 84h12M860 88h4M856 92h4M876 92h4M876 96h4M844 116h4M840 124h4M816 140h4M808 144h4M684 244h4M816 252h4M692 264h4M820 264h4M508 692h4"/>
<path stroke="#bcbcbc" d="M852 100h4M848 108h4M864 112h4M844 120h8M680 236h4M684 240h4M692 260h4"/>
<path stroke="#bebebe" d="M864 88h4M872 88h4M848 112h4M856 116h4M688 244h4M692 252h4M692 256h4M820 260h4M816 268h4M520 676h4M512 692h4"/>
<path stroke="#c0c0c0" d="M868 88h4M860 92h4M856 96h4M872 104h4M868 108h4M848 116h8M688 248h4"/>
<path stroke="#c2c2c2" d="M852 104h4M808 252h4M448 548h8M508 688h4"/>
<path stroke="#c4c4c4" d="M872 92h4M852 112h4M860 112h4M812 252h4M808 268h4M448 532h8M528 676h4M520 688h4"/>
<path stroke="#c6c6c6" d="M864 92h4M852 108h4M804 256h4M812 268h4M524 676h4M528 680h4"/>
<path stroke="#c8c8c8" d="M868 92h4M872 96h4M856 100h4M872 100h4M856 112h4M804 264h4"/>
<path stroke="#cacaca" d="M860 96h4M864 108h4M448 536h4M448 544h8M516 680h4"/>
<path stroke="#cccccc" d="M452 536h4M448 540h4M512 684h4M524 684h4"/>
<path stroke="#cecece" d="M856 104h4M868 104h4M856 108h4M816 256h4M804 260h4M452 540h4M512 688h4"/>
<path stroke="#d0d0d0" d="M860 108h4M816 264h4M516 688h4"/>
<path stroke="#d2d2d2" d="M864 96h8"/>
<path stroke="#d4d4d4" d="M860 100h4M868 100h4"/>
<path stroke="#d6d6d6" d="M860 104h8M520 680h8"/>
<path stroke="#d8d8d8" d="M808 256h4M816 260h4"/>
<path stroke="#dadada" d="M864 100h4M812 256h4M808 264h4M516 684h8"/>
<path stroke="#dedede" d="M812 264h4"/>
<path stroke="#e0e0e0" d="M808 260h4"/>
<path stroke="#e4e4e4" d="M812 260h4"/></g>
</g>
<g fill="none" stroke="#333" stroke-opacity="0.55" stroke-width="0.7" stroke-dasharray="2.2 6"><path d="M340.9 108.7 L307.4 739.3"/><path d="M484.6 113.8 L473.4 745.2"/><path d="M628.4 113.8 L639.6 745.2"/><path d="M772.1 108.7 L805.6 739.3"/><path d="M201.1 125.7 L219.3 127.2 L237.5 128.7 L255.7 130 L273.9 131.3 L292.1 132.6 L310.3 133.7 L328.5 134.8 L346.8 135.7 L365 136.6 L383.2 137.4 L401.4 138.2 L419.7 138.8 L437.9 139.4 L456.2 139.9 L474.4 140.3 L492.6 140.6 L510.9 140.8 L529.1 141 L547.4 141.1 L565.6 141.1 L583.9 141 L602.1 140.8 L620.4 140.6 L638.6 140.3 L656.8 139.9 L675.1 139.4 L693.3 138.8 L711.6 138.2 L729.8 137.4 L748 136.6 L766.2 135.7 L784.5 134.8 L802.7 133.7 L820.9 132.6 L839.1 131.3 L857.3 130 L875.5 128.7 L893.7 127.2 L911.9 125.7"/><path d="M189.4 260.6 L208.2 262.1 L227 263.7 L245.8 265.1 L264.6 266.4 L283.4 267.7 L302.2 268.9 L321 269.9 L339.8 271 L358.7 271.9 L377.5 272.7 L396.3 273.5 L415.2 274.1 L434 274.7 L452.8 275.2 L471.7 275.7 L490.5 276 L509.4 276.2 L528.2 276.4 L547.1 276.5 L565.9 276.5 L584.8 276.4 L603.6 276.2 L622.5 276 L641.3 275.7 L660.2 275.2 L679 274.7 L697.8 274.1 L716.7 273.5 L735.5 272.7 L754.3 271.9 L773.2 271 L792 269.9 L810.8 268.9 L829.6 267.7 L848.4 266.4 L867.2 265.1 L886 263.7 L904.8 262.1 L923.6 260.6"/><path d="M177.7 395.4 L197 397.1 L216.4 398.6 L235.8 400.1 L255.2 401.5 L274.6 402.8 L294.1 404 L313.5 405.1 L332.9 406.2 L352.3 407.1 L371.8 408 L391.2 408.8 L410.6 409.5 L430.1 410.1 L449.5 410.6 L469 411 L488.4 411.4 L507.9 411.6 L527.3 411.8 L546.8 411.9 L566.2 411.9 L585.7 411.8 L605.1 411.6 L624.6 411.4 L644 411 L663.5 410.6 L682.9 410.1 L702.4 409.5 L721.8 408.8 L741.2 408 L760.7 407.1 L780.1 406.2 L799.5 405.1 L818.9 404 L838.4 402.8 L857.8 401.5 L877.2 400.1 L896.6 398.6 L916 397.1 L935.3 395.4"/><path d="M165.9 530.3 L185.9 532 L205.9 533.6 L225.9 535.2 L245.9 536.6 L265.9 537.9 L285.9 539.2 L305.9 540.3 L326 541.4 L346 542.4 L366 543.3 L386.1 544.1 L406.1 544.8 L426.2 545.4 L446.2 545.9 L466.3 546.4 L486.3 546.8 L506.4 547 L526.4 547.2 L546.5 547.3 L566.5 547.3 L586.6 547.2 L606.6 547 L626.7 546.8 L646.7 546.4 L666.8 545.9 L686.8 545.4 L706.9 544.8 L726.9 544.1 L747 543.3 L767 542.4 L787 541.4 L807.1 540.3 L827.1 539.2 L847.1 537.9 L867.1 536.6 L887.1 535.2 L907.1 533.6 L927.1 532 L947.1 530.3"/><path d="M154.2 665.2 L174.8 667 L195.4 668.6 L216 670.2 L236.6 671.7 L257.2 673 L277.8 674.3 L298.4 675.5 L319 676.6 L339.7 677.6 L360.3 678.6 L381 679.4 L401.6 680.1 L422.2 680.8 L442.9 681.3 L463.5 681.8 L484.2 682.1 L504.9 682.4 L525.5 682.6 L546.2 682.7 L566.8 682.7 L587.5 682.6 L608.1 682.4 L628.8 682.1 L649.5 681.8 L670.1 681.3 L690.8 680.8 L711.4 680.1 L732 679.4 L752.7 678.6 L773.3 677.6 L794 676.6 L814.6 675.5 L835.2 674.3 L855.8 673 L876.4 671.7 L897 670.2 L917.6 668.6 L938.2 667 L958.8 665.2"/></g>
<path d="M497.7 207.4L500.9 206.6L504.0 206.5L506.9 206.1L507.0 209.2L504.9 211.8L504.5 216.0L502.4 217.5L502.1 220.8L497.7 222.4L495.4 224.0L492.7 225.4L492.2 219.8L494.6 215.9L497.5 211.9L497.0 207.5ZM475.8 223.9L481.7 223.8L483.9 226.0L486.6 227.5L490.5 228.5L486.0 232.6L480.5 234.3L478.4 234.4L480.5 229.0L475.8 227.4L475.3 224.1ZM462.8 232.8L465.6 230.9L468.3 230.5L473.2 234.7L473.8 239.2L468.8 240.4L464.5 239.7L464.8 235.7L461.9 233.0ZM497.7 232.1L503.6 231.2L505.5 234.3L508.9 234.5L512.8 236.1L509.5 241.9L506.8 240.4L501.5 238.0L499.2 235.7L497.4 232.2ZM754.2 433.5L756.9 432.9L760.3 433.1L763.8 432.8L768.5 433.7L772.3 434.1L775.5 436.9L779.2 437.7L783.6 440.0L786.6 440.1L791.8 440.7L793.7 443.9L796.5 444.6L800.1 444.9L800.2 446.5L796.5 444.5L792.9 444.9L790.0 442.7L785.7 443.7L783.7 441.0L780.7 438.8L777.2 440.4L772.7 439.2L769.9 437.2L765.8 436.9L763.3 435.2L760.3 434.7L755.6 434.6L752.2 435.5L753.8 433.9ZM728.0 468.2L731.3 468.7L733.6 470.8L737.1 470.5L740.4 470.1L743.7 471.0L748.0 471.4L752.2 470.1L753.8 475.1L749.2 476.2L746.5 475.1L742.1 476.0L739.3 473.3L734.4 473.0L730.4 470.7L727.5 468.4ZM861.0 310.9L864.9 309.9L866.3 310.3L872.3 313.8L871.6 317.8L874.0 321.4L871.7 323.8L871.0 327.2L869.0 324.4L869.0 321.5L869.6 318.5L865.1 315.6L864.6 320.9L861.7 318.0L862.1 314.3L861.8 311.0Z" fill="#734600" stroke="#734600" stroke-width="1" stroke-linejoin="round"/><path d="M366.7 137.7L370.3 143.0L373.2 151.4L376.3 157.4L379.4 164.6L376.3 166.3L372.7 161.0L371.5 153.8L369.1 146.6ZM237.2 166.5L239.6 168.9L237.2 171.8ZM237.2 176.6L239.6 177.8L237.9 178.5ZM196.4 294.1L198.8 297.7L201.2 296.5L203.6 301.3L200.0 301.8L197.6 298.5ZM263.1 340.0L262.9 336.7L262.6 333.8L262.3 330.6L262.3 326.7L261.6 323.9L261.7 320.1L261.1 317.1L260.5 313.2L259.2 310.7L258.3 308.0L257.7 304.7L257.3 301.5L258.6 298.0L257.7 294.5L259.7 291.1L260.3 288.0L262.0 285.4L264.4 283.0L266.7 278.9L268.9 275.5L271.5 273.4L273.2 270.6L276.2 269.7L278.6 267.2L280.7 264.2L282.9 263.4L285.9 260.8L288.7 258.6L291.5 256.7L294.5 255.9L297.1 253.6L299.7 251.9L302.6 250.0L306.2 249.1L308.0 246.9L311.1 246.5L314.1 244.3L317.6 243.7L320.4 241.3L324.3 239.4L326.3 237.0L329.2 234.7L331.1 232.7L333.6 230.6L336.5 228.9L339.5 225.9L342.9 223.1L345.8 221.9L348.3 219.9L350.5 218.6L355.4 217.8L360.6 216.5L363.1 215.6L367.0 215.5L370.2 214.8L373.9 214.9L377.0 213.7L380.2 214.0L384.6 214.3L389.1 214.9L392.4 215.4L395.5 216.3L399.8 217.8L403.5 219.0L406.7 220.3L410.0 221.8M263.1 340.0L263.2 338.2L264.1 333.9L262.6 332.4L262.3 330.2L263.5 327.3L261.9 324.8L261.0 322.4L262.6 318.8L262.0 316.0L259.8 313.7L259.3 310.5L258.9 307.6L257.2 305.1L259.9 301.4L257.3 298.5L260.2 297.3L259.0 294.0L257.9 290.4L261.1 288.2L261.9 284.8L263.4 282.3L264.3 280.1L268.4 279.1L269.4 275.9L270.9 273.3L274.1 271.7L275.9 268.7L279.4 267.6L280.6 265.4L282.2 261.3L285.5 262.3L287.8 260.1L290.2 258.8L291.8 255.9L294.0 253.7L297.8 253.6L301.7 253.0L301.4 249.6L305.6 249.9L309.0 247.2L309.6 244.9L314.4 244.8L317.0 242.9L318.2 241.5L321.1 240.9L323.4 238.0L326.7 236.9L328.1 234.0L330.3 232.1L333.5 231.0L336.4 228.7L339.0 229.1L341.1 225.9L342.2 223.9L345.8 221.4L348.5 220.5L351.8 218.6L353.1 218.6L355.9 217.0L358.7 213.2L362.8 217.6L364.4 214.5L368.0 216.5L370.2 214.9L373.3 214.6L375.6 215.0L378.1 213.0L381.1 213.2L383.4 212.7L385.5 214.2L389.8 216.3L393.1 215.1L394.5 216.5L398.1 217.9L400.0 218.7L402.9 219.7L406.0 222.4L410.5 222.5M333.4 218.3L335.3 216.0L337.3 213.0L343.3 211.8L344.2 215.9L341.1 219.9L338.6 223.5L343.3 222.4L347.8 220.0M335.1 215.7L336.8 219.1L340.3 217.4M366.8 214.0L367.7 208.0L371.1 205.4L372.0 208.9L369.4 213.1M382.2 213.1L384.8 207.1L385.7 203.7L387.0 208.9L385.7 213.1M399.4 208.0L402.8 209.7L404.5 213.1L401.1 211.9ZM406.2 214.0L409.7 213.1L411.4 216.6L408.0 217.4ZM284.6 244.8L287.7 249.3L289.1 246.7L290.2 244.1L291.5 248.5L294.7 245.6L299.1 244.7L297.3 249.5L294.0 251.4L291.5 253.0M286.3 246.6L288.8 250.8L293.1 250.0M277.7 253.4L279.5 258.8L278.8 262.2L274.5 260.4L270.2 261.5L267.5 262.9L266.1 265.8L270.5 264.7L275.3 263.6M257.1 271.9L263.1 274.0L265.7 277.4L260.6 276.5L258.0 274.0M248.6 287.7L252.9 288.5L255.4 286.0L256.3 292.0L252.0 292.8L249.4 290.3M258.9 292.8L256.9 295.8L256.1 298.6L254.1 300.9L255.7 305.3L255.8 310.4L256.1 314.1L257.9 318.3L258.2 322.8L259.1 327.2L260.2 331.3L260.8 335.7L262.2 340.5M327.7 231.1L330.8 230.3L333.4 232.8M245.1 258.6L246.9 265.4M410.0 222.5L415.5 223.1L419.2 219.6L417.4 217.8L422.7 215.3L426.7 214.3L430.5 216.7L435.3 217.1L436.5 220.3L440.0 223.5L442.6 225.0L445.7 222.8L444.3 227.5L441.8 230.3L446.2 233.0L449.8 234.6L454.1 238.2L457.8 240.7L463.1 239.0L463.9 234.6L469.1 232.8L473.4 234.8L474.2 238.7L478.7 237.7L482.4 236.0L486.7 233.3L489.8 231.4L492.1 232.5L495.7 236.1L499.9 238.2L504.2 240.1L500.4 244.8L500.4 247.0L502.1 244.8L504.3 242.3L507.2 243.7L509.7 240.1L511.5 236.9L508.5 234.7L505.4 232.7L502.6 230.5L499.5 227.0L498.6 223.8L493.6 225.7L491.1 221.9L493.6 217.5L497.5 215.8L499.1 211.5L501.4 209.3L505.6 205.6L506.9 207.4L506.9 213.1L503.0 216.3L501.8 221.2M410.0 222.5L413.0 221.4L415.1 221.9L419.6 221.2L418.9 217.3L420.8 214.2L427.3 216.3L430.4 217.2L434.7 216.9L434.6 221.0L440.5 222.4L443.8 224.0L446.1 223.5L446.5 227.4L442.0 228.6L445.5 233.0L448.7 235.5L451.5 236.1L455.2 238.7L457.5 241.1L461.5 238.3L464.4 234.7L468.9 232.7L473.6 233.7L474.7 239.6L478.8 240.3L482.2 234.8L485.4 232.5L489.0 231.0L491.8 233.3L496.2 235.0L500.5 236.6L504.5 239.9L502.4 242.2L501.5 245.5L501.3 246.6L501.1 244.9L504.7 242.4L507.2 243.5L509.4 240.5L511.7 237.0L509.3 235.1L506.1 231.9L502.7 230.3L500.2 227.4L498.2 223.6L493.3 225.7L491.0 222.3L494.4 217.8L497.1 216.2L499.9 211.1L502.1 209.4L503.0 205.4L504.7 206.0L506.5 207.0L508.1 210.2L504.7 212.4L502.4 217.7L499.6 220.3M516.3 207.4L517.6 211.5M516.9 215.0L514.9 219.8M512.1 223.2L509.4 225.2M507.3 226.9L505.7 228.0M470.3 202.6L473.1 198.5L477.9 196.2L482.7 197.1L486.1 200.6L485.4 204.7L481.3 207.4L475.8 207.4L471.7 205.4ZM465.5 200.6L467.6 197.5L470.3 198.5L470.0 201.9L466.9 203.0ZM488.1 204.7L492.3 202.6L496.4 204.0L494.3 207.4L492.3 209.5L488.8 209.5ZM486.1 200.6L488.9 201.0L492.5 201.6L495.8 201.1L499.1 200.5L501.3 197.0L506.2 198.2L511.5 196.0L516.7 195.3L522.9 196.3L528.0 197.8L533.1 195.6L537.4 197.4L537.6 192.1L540.1 189.3L539.9 186.1L541.9 184.3L543.8 188.3L543.7 192.2L543.7 195.2L547.1 198.1L546.0 200.7L550.4 201.1L553.9 198.4L558.5 197.1L558.8 194.0L562.3 195.3L566.4 193.5L568.0 191.6L569.9 189.8M486.1 200.6L488.5 200.4L492.3 203.1L495.6 201.5L499.3 201.0L501.8 198.3L506.2 196.9L508.8 195.9L511.1 196.2L514.0 195.5L516.7 196.1L520.5 195.9L522.6 199.8L525.3 197.6L527.6 199.5L530.4 196.1L533.1 197.0L537.3 195.9L538.8 195.7L538.8 192.2L540.2 189.6L540.7 186.8L541.3 183.7L541.6 186.2L544.4 187.8L544.3 192.0L546.0 194.3L548.4 198.5L544.8 200.0L551.0 201.3L553.7 198.4L558.7 198.3L559.4 194.8L562.3 198.1L566.9 194.1L565.8 189.7L570.2 190.0M507.3 201.9L511.5 201.7M514.2 201.3L518.3 200.8M521.1 201.7L529.3 202.6M532.0 201.9L536.1 201.3M472.8 219.1L474.4 215.0L477.5 214.0L477.9 216.3L475.8 219.8ZM434.7 207.4L436.0 209.5M440.8 209.5L442.2 213.6L444.3 216.3L449.8 217.7M423.7 214.3L427.8 215.9L430.6 219.8L426.5 223.9L423.0 221.1M555.0 200.0L559.2 198.3L563.2 196.3L565.6 194.3L565.0 190.5L569.2 193.3L570.3 189.5L570.4 194.8L575.6 194.8L578.8 194.9L581.9 195.3L586.2 193.5L590.6 193.9L594.7 192.9L596.3 196.3L600.7 198.5L604.4 202.5L607.7 199.7L610.3 199.7L612.6 198.6L611.3 202.1L614.1 205.3L617.6 206.9L617.6 212.0L618.2 216.6L619.0 219.7L623.8 220.5L627.6 222.7L630.0 224.1L634.4 220.0L638.6 218.1L642.4 213.5L647.2 211.1L649.4 207.5M555.0 200.0L559.3 198.7L563.4 196.4L564.4 194.6L565.0 191.2L568.7 193.5L570.8 189.1L571.4 193.6L575.3 194.9L579.1 194.1L581.3 194.6L586.8 193.8L590.6 194.2L594.9 193.8L595.0 197.3L600.2 199.8L605.0 199.9L607.0 199.0L611.1 198.7L612.0 199.0L613.0 202.6L613.8 205.1L617.0 207.4L618.0 211.4L618.0 217.0L616.6 220.4L623.2 219.9L626.7 223.1L630.5 222.7L631.4 221.1L633.3 220.2L637.6 215.9L640.7 215.6L641.3 212.3L647.6 211.5L648.6 207.2M627.7 221.2L631.8 219.2L635.9 216.8L633.8 219.2L629.7 221.9M630.1 178.0L631.8 182.1L634.5 183.5L637.3 180.1L637.9 182.1L635.2 184.2L631.8 184.2M609.8 200.9L613.3 204.8L616.7 206.1L615.3 203.4M583.8 194.1L587.9 192.4L593.4 193.1L595.4 195.4M777.3 108.2L772.0 114.2L764.8 117.8L758.8 121.4L754.0 126.2L749.2 125.0L751.6 131.0L746.8 137.0L742.0 143.0L738.4 150.2L736.0 157.4L733.6 167.0L731.2 174.2L732.4 183.8L734.3 190.0M755.2 122.6L751.6 120.2L749.2 125.0M743.2 141.8L739.6 140.6L740.8 146.6M736.0 156.2L733.1 157.9L734.8 163.4M263.1 340.0L260.0 345.8L255.2 355.4L250.4 365.0L245.6 377.0L242.0 389.0L239.6 401.0L238.4 413.0L236.0 425.0L234.0 437.0L233.1 449.0L234.8 461.0L237.2 472.9L240.8 482.5L244.4 492.1L248.0 504.1L250.4 514.9M243.2 356.6L246.8 354.2L251.6 353.0L252.8 356.6L248.0 360.2M249.2 362.6L245.6 369.8L243.2 379.4L240.3 387.8M235.5 470.5L238.4 482.5L242.7 490.9L245.1 489.7L242.0 483.7M204.8 324.2L208.4 322.3L210.1 327.8L207.2 329.0ZM202.9 307.4L205.3 305.0M218.3 451.4L219.2 450.5L220.1 451.4L219.2 452.3ZM211.1 464.5L212.0 463.6L212.9 464.5L212.0 465.4ZM215.4 462.1L216.3 461.2L217.2 462.1L216.3 463.0ZM220.7 463.3L221.6 462.4L222.5 463.3L221.6 464.2ZM196.7 510.1L197.6 509.2L198.5 510.1L197.6 511.0ZM249.9 485.4L250.8 484.5L251.7 485.4L250.8 486.3ZM224.5 455.0L227.6 453.8L228.3 458.6L225.2 459.8ZM231.2 462.1L233.6 461.4L234.0 465.3ZM465.6 514.9L471.6 508.9L482.4 504.1L496.8 501.3L516.0 498.9L528.0 495.7L537.6 492.9L544.8 494.5L554.4 495.7L561.6 496.9L566.4 494.5L572.4 493.8L576.0 498.1L578.3 504.1L579.5 511.3L578.3 514.9M560.4 495.7L564.0 498.1L567.6 496.5M484.8 459.8L486.7 463.3L489.1 467.2M433.5 474.1L434.4 473.2L435.3 474.1L434.4 475.0ZM695.9 389.0L700.0 388.5M790.0 403.4L796.0 410.6L803.2 422.6M772.0 409.4L776.8 407.7L781.6 405.8M867.0 410.6L867.9 409.7L868.8 410.6L867.9 411.5ZM876.6 401.0L877.5 400.1L878.4 401.0L877.5 401.9ZM881.4 396.7L882.3 395.8L883.2 396.7L882.3 397.6ZM774.7 416.6L775.6 415.7L776.5 416.6L775.6 417.5ZM250.4 515.0L257.6 524.6L264.8 534.2L270.8 543.8L274.4 553.4L278.0 563.0L282.8 570.2L287.6 578.6L293.6 582.2L303.1 584.1L310.3 585.8L316.3 590.6L322.3 596.6L328.3 602.6L331.9 605.7L339.1 604.3L348.7 601.9L358.3 599.5L367.9 597.8L377.5 597.1L389.5 593.7L399.1 591.3L408.7 589.9L420.0 590.6M411.1 591.8L413.5 595.4L420.0 596.6M279.2 565.9L282.8 566.6L281.6 569.0M288.8 579.3L291.2 582.2L287.6 584.6L284.0 587.0L283.5 590.6L286.8 588.2M331.9 605.7L333.1 608.1M212.0 570.7L214.9 570.2L216.8 572.6L213.9 573.3ZM262.4 593.0L267.2 594.2L270.8 600.2L268.4 602.6L263.6 597.8ZM311.5 594.9L314.7 594.7L315.1 597.1L312.3 597.3ZM323.5 614.6L325.9 615.8L325.2 619.8L322.8 618.6ZM351.1 639.8L355.9 638.3L361.9 639.8L366.0 644.1L363.1 644.1L358.8 641.0L353.5 641.7ZM294.0 660.2L296.4 656.6L298.3 660.6ZM378.7 671.0L382.3 669.8L385.9 673.8L390.7 673.3L393.1 677.7L397.9 678.1L402.7 682.9L406.3 686.5L403.4 685.8L399.1 681.7L394.3 680.5L391.4 680.5L389.5 676.2L385.2 676.2L384.2 680.5L382.3 675.3M156.8 639.8L164.0 642.2L171.2 644.6L179.6 647.0L188.0 650.6L197.6 659.0L207.2 663.8L219.2 672.1L231.2 674.5L243.2 680.5L255.2 684.9L264.8 685.8L274.4 684.1L286.4 680.5L298.3 675.7L307.9 669.8L317.5 669.8L327.1 671.4L339.1 675.7L351.1 682.9L363.1 693.7L375.1 706.9L384.7 716.5L393.1 724.9M158.0 638.6L160.4 641.7L156.8 641.7ZM307.9 668.6L311.5 669.8L309.1 671.0ZM179.9 534.2L180.8 533.3L181.7 534.2L180.8 535.1ZM413.8 538.5L414.7 537.6L415.6 538.5L414.7 539.4ZM170.3 644.1L171.2 643.2L172.1 644.1L171.2 645.0ZM177.5 646.5L178.4 645.6L179.3 646.5L178.4 647.4ZM466.8 515.0L464.4 522.2L462.0 534.2L460.8 546.2L456.0 555.8L453.6 565.4L446.4 573.8L436.8 579.8L429.6 584.6L422.4 588.2L420.0 589.4M420.0 589.4L427.2 587.0L434.4 587.0L435.6 591.8L429.6 596.6L422.4 597.8L420.0 596.6M577.1 515.0L571.2 524.6L564.0 534.2L559.2 543.8L558.0 553.4L554.4 558.2L550.8 560.6L552.0 563.0L558.0 561.8L556.8 569.0L553.2 572.6L554.4 577.4L550.8 587.0L547.2 599.0L543.6 611.0L540.0 620.6L535.2 627.8L531.6 635.0L530.4 644.6L532.8 654.2L529.2 663.8L525.6 671.0L522.0 678.1L516.0 680.5L511.2 682.9L510.0 686.5L514.8 691.3L511.2 693.7L504.0 698.5L496.8 699.7L494.4 702.1L498.0 704.1L505.2 700.9L512.4 693.7L520.8 690.1L522.0 684.1L528.0 688.9L535.2 693.7L542.4 687.7L552.0 686.5L554.4 690.1L564.0 689.7L576.0 688.9L587.9 690.1L597.5 687.3L607.1 684.1L614.3 682.9L623.9 686.5L635.9 682.9L645.5 685.8L655.1 687.7L662.3 689.7L669.5 694.9L676.7 698.5L683.9 704.5L691.1 709.3L695.9 714.1L700.0 716.5M573.6 529.4L579.5 527.5L578.8 533.0L574.0 538.3L572.4 534.2ZM549.6 560.6L551.5 557.7L555.6 558.2L556.8 562.0L553.2 564.2ZM551.5 573.8L550.8 570.2L554.4 569.0L557.2 571.4L554.8 575.0ZM537.6 587.0L535.2 594.2L528.0 602.6L532.8 602.6L538.8 596.6L540.0 606.2L537.6 613.4L542.4 611.0L546.0 606.2M532.8 627.8L534.7 623.0L537.6 624.2L536.4 630.2L532.8 635.0L530.8 639.8M543.6 630.2L547.2 629.0L546.0 639.8L542.4 643.4L541.9 637.4ZM584.3 673.3L592.7 669.8L599.9 668.6L600.4 670.5L593.2 672.1L585.5 675.3ZM607.1 667.4L609.5 665.7L610.7 668.1L608.3 669.0ZM573.1 680.5L576.0 679.1L577.1 681.0L574.0 682.0ZM444.3 625.4L445.2 624.5L446.1 625.4L445.2 626.3ZM449.1 624.2L450.0 623.3L450.9 624.2L450.0 625.1ZM446.0 629.0L446.9 628.1L447.8 629.0L446.9 629.9ZM455.1 629.0L456.0 628.1L456.9 629.0L456.0 629.9ZM461.1 650.6L462.0 649.7L462.9 650.6L462.0 651.5ZM467.1 647.0L468.0 646.1L468.9 647.0L468.0 647.9ZM493.5 646.5L494.4 645.6L495.3 646.5L494.4 647.4ZM432.3 668.6L433.2 667.7L434.1 668.6L433.2 669.5ZM437.1 659.0L438.0 658.1L438.9 659.0L438.0 659.9ZM440.7 641.0L441.6 640.1L442.5 641.0L441.6 641.9ZM435.9 648.2L436.8 647.3L437.7 648.2L436.8 649.1ZM692.6 680.5L693.5 679.6L694.4 680.5L693.5 681.4ZM693.8 686.5L694.7 685.6L695.6 686.5L694.7 687.4ZM671.0 633.8L671.9 632.9L672.8 633.8L671.9 634.7ZM560.7 590.6L561.6 589.7L562.5 590.6L561.6 591.5ZM560.7 595.4L561.6 594.5L562.5 595.4L561.6 596.3ZM546.3 659.0L547.2 658.1L548.1 659.0L547.2 659.9ZM554.7 633.8L555.6 632.9L556.5 633.8L555.6 634.7ZM553.5 643.4L554.4 642.5L555.3 643.4L554.4 644.3ZM541.5 699.7L542.4 698.8L543.3 699.7L542.4 700.6ZM588.2 685.3L589.1 684.4L590.0 685.3L589.1 686.2ZM474.0 649.4L478.8 648.4L484.3 649.4L480.0 650.8ZM668.3 700.9L671.9 698.5L674.8 702.1L679.1 704.5L682.0 707.4L677.9 706.9L673.1 704.5ZM691.1 718.9L694.7 718.5L695.9 723.3L692.3 723.7ZM538.8 720.1L540.7 721.3L540.0 724.2M535.2 663.8L538.0 668.6L536.4 673.3M525.6 671.0L532.8 668.6L537.6 672.1L535.2 680.5L529.2 682.9M850.7 594.2L853.6 590.6L863.1 589.4L865.5 587.0L877.5 587.7L889.5 588.2L899.1 589.4L903.9 593.0L911.1 595.4L917.1 599.0L920.7 603.8L915.9 605.7L906.3 606.2L900.3 603.8L896.7 607.4L891.9 606.7L893.9 611.0L890.7 613.4L887.1 611.0L882.3 608.6L875.1 609.0L869.1 607.4L865.5 603.8L860.7 600.2L853.6 599.0L850.7 596.6ZM792.4 552.2L798.4 551.0L803.2 549.8L803.6 551.0L797.9 552.9ZM751.6 564.2L757.6 565.4L761.2 565.9L755.2 567.8L752.3 566.6ZM928.2 620.6L929.1 619.7L930.0 620.6L929.1 621.5ZM802.3 682.9L803.2 682.0L804.1 682.9L803.2 683.8ZM805.9 683.4L806.8 682.5L807.7 683.4L806.8 684.3ZM808.3 681.7L809.2 680.8L810.1 681.7L809.2 682.6ZM844.3 679.3L845.2 678.4L846.1 679.3L845.2 680.2ZM703.9 690.1L704.8 689.2L705.7 690.1L704.8 691.0ZM705.1 706.9L706.0 706.0L706.9 706.9L706.0 707.8ZM715.9 706.9L716.8 706.0L717.7 706.9L716.8 707.8ZM718.3 710.5L719.2 709.6L720.1 710.5L719.2 711.4ZM714.7 721.3L715.6 720.4L716.5 721.3L715.6 722.2ZM713.5 709.3L714.4 708.4L715.3 709.3L714.4 710.2ZM723.1 685.3L724.0 684.4L724.9 685.3L724.0 686.2ZM760.0 473.8L769.1 472.9L776.5 472.9L783.8 478.4L791.1 482.1L800.2 483.9L807.6 485.7L814.9 487.9L822.2 486.6L827.7 484.8L832.3 484.3L835.0 488.5L837.7 494.9L840.5 502.2L846.0 506.8L851.5 510.4L858.8 513.2L866.1 513.5L873.4 512.3L878.9 512.3L883.5 515.0L886.2 519.6L884.4 524.1L880.7 527.8L877.1 531.5L872.5 535.1L868.8 538.8L867.0 542.8L871.6 542.4L878.9 540.6L888.0 538.8L899.0 536.0L910.0 534.2L921.0 533.3L925.5 531.5L927.4 533.7L935.6 534.2L946.6 534.8M810.3 502.7L814.9 504.9L822.2 510.4L829.5 515.0L836.8 518.7L844.1 520.5L851.5 522.3L858.8 524.1L863.3 525.6M813.0 504.0L820.4 508.0L827.7 512.8L835.0 516.8L842.3 519.0L849.6 520.5L856.9 522.7M825.0 504.0L825.8 503.2L826.6 504.0L825.8 504.8ZM829.6 506.8L830.4 506.0L831.2 506.8L830.4 507.6ZM832.4 503.1L833.2 502.3L834.0 503.1L833.2 503.9ZM834.2 509.5L835.0 508.7L835.8 509.5L835.0 510.3ZM839.7 512.3L840.5 511.5L841.3 512.3L840.5 513.1ZM845.2 514.1L846.0 513.3L846.8 514.1L846.0 514.9ZM850.7 516.8L851.5 516.0L852.3 516.8L851.5 517.6ZM856.1 518.7L856.9 517.9L857.7 518.7L856.9 519.5ZM861.6 520.5L862.4 519.7L863.2 520.5L862.4 521.3ZM867.1 521.4L867.9 520.6L868.7 521.4L867.9 522.2ZM828.7 489.4L829.5 488.6L830.3 489.4L829.5 490.2ZM829.6 492.1L830.4 491.3L831.2 492.1L830.4 492.9ZM804.9 492.1L805.7 491.3L806.5 492.1L805.7 492.9ZM809.5 498.9L810.3 498.1L811.1 498.9L810.3 499.7ZM771.0 440.0L781.9 442.7L792.9 446.4L802.1 450.1L811.2 453.7L820.4 457.4L829.5 460.1L838.7 463.8L847.8 467.4L855.1 472.0L862.4 476.6L869.7 480.2L877.1 484.8L880.7 486.6L888.0 488.5L895.4 491.2L902.7 493.0L910.0 494.0L917.3 495.8L924.6 494.9L930.1 495.8L931.9 499.4L928.3 503.1L926.5 506.8L930.1 508.6L935.6 508.0L942.9 509.1M772.8 440.0L778.3 440.9L789.3 443.7L800.2 447.7L813.0 451.3L818.5 449.1L824.0 449.5L833.2 453.2L842.3 456.1L851.5 458.7L858.8 463.4L864.3 470.7L869.7 476.2L878.9 483.5L881.6 485.7L878.9 486.6L871.6 481.2L864.3 475.7L858.8 469.3L853.3 463.8L846.0 461.0L838.7 458.3L831.3 457.4L824.0 454.6L816.7 454.3L813.0 452.8M814.9 451.0L820.4 452.8L825.8 451.3L833.2 455.5L840.5 457.4L847.8 461.9L855.1 465.6L860.6 472.0M889.9 489.4L893.5 491.6L899.0 493.0L901.8 492.1M927.4 504.0L931.0 506.2L936.5 506.8L942.9 508.0M922.8 463.8L923.7 462.9L924.6 463.8L923.7 464.7ZM847.8 445.1L848.7 444.2L849.6 445.1L848.7 446.0ZM792.0 551.9L797.5 550.7L803.9 549.4L803.5 550.5L797.5 551.9L792.6 553.0ZM650.0 206.0L654.6 204.6L659.0 204.2L663.3 209.0L666.1 211.0L669.0 213.2L672.2 216.2L673.6 218.7L676.4 221.5L678.0 224.6L681.6 226.5L683.2 230.0L684.9 233.9L687.2 236.9L693.0 236.0L695.6 237.3L697.0 240.2L698.5 242.4L700.2 247.4L701.0 252.9L699.3 258.6L697.7 264.0L695.6 269.1L697.4 274.4L697.6 277.3L698.9 280.1L699.9 284.0L700.4 286.4L702.8 289.1L705.0 292.1L708.3 289.8L707.6 286.8L707.3 283.9L706.1 280.6L704.8 277.9L707.6 275.8L709.0 280.6L708.2 284.3L706.6 288.0L705.2 293.0L705.3 297.2L707.1 300.5L710.1 303.1L711.0 305.7L713.2 309.0L713.9 312.0L716.2 314.9L717.8 317.4L718.5 320.1L720.7 317.8L719.8 314.7L718.3 310.9L715.1 307.5L718.6 309.0L721.6 310.1L720.5 311.5L718.6 314.6L722.0 316.5L722.6 320.3L723.9 322.8L728.0 319.2L726.5 322.3L726.5 325.5L728.3 329.4L728.9 332.6L729.7 336.1L733.6 340.2L738.1 344.4L740.6 345.9L743.5 347.1L748.4 350.1L751.2 353.8L753.0 355.6L749.6 357.8L750.0 361.0L751.4 363.6L756.3 366.2L762.6 367.0L766.9 369.8L771.2 367.7L774.5 363.5L775.8 360.9L776.5 358.4L777.7 354.6L779.3 350.2L779.5 346.2L780.7 342.8L780.4 338.7L780.5 335.0L782.7 331.3L782.4 327.5L782.3 323.4L782.1 319.4L783.1 315.7L781.8 312.9L781.5 309.6L781.2 306.5L780.5 302.8L777.8 298.4L776.2 294.8L774.6 291.0L772.7 285.9L771.8 282.6L769.0 278.9L768.3 274.6L765.6 270.5L764.8 266.5L762.2 263.2L760.7 259.3L759.6 254.6L757.5 250.0L756.4 247.1L754.3 243.2L752.0 240.1L750.7 236.1L749.9 232.0L746.6 228.0L745.3 223.7L743.9 219.7L742.8 216.0L740.4 211.9L739.2 207.6L737.6 204.0L737.2 199.5L735.2 195.3L735.9 190.1M650.0 206.0L656.0 204.0L659.1 205.7L661.3 206.2L663.6 207.9L665.9 211.1L669.2 212.1L671.4 215.3L674.5 218.9L676.1 221.9L678.3 224.6L680.9 226.9L682.1 230.1L683.4 233.1L686.7 233.9L688.4 236.5L692.7 234.8L694.8 235.6L697.2 238.4L698.3 243.1L698.2 244.5L701.5 247.6L700.2 250.0L699.7 254.3L698.5 255.4L698.7 258.8L699.1 261.0L697.6 263.8L695.8 268.9L693.7 271.8L697.0 274.5L697.8 278.1L699.5 279.7L701.8 282.0L700.9 286.2L704.0 288.1L705.0 292.0L707.9 290.0L705.8 288.1L709.1 284.6L705.6 280.9L704.6 278.6L708.2 275.7L709.3 279.3L709.0 282.5L708.4 285.9L706.3 288.6L706.3 291.3L703.4 292.8L704.5 297.7L708.1 300.6L710.8 302.5L711.5 305.5L714.2 307.5L714.8 312.1L715.3 315.1L717.5 316.9L718.1 320.3L722.0 317.8L719.9 315.4L717.9 312.2L713.7 308.1L717.7 308.4L722.6 309.7L721.4 311.5L720.0 314.9L720.9 318.2L721.9 321.1L723.2 323.6L726.5 318.0L726.3 321.7L724.6 324.3L727.8 327.4L727.1 329.9L728.1 333.7L729.2 335.1L732.2 337.9L734.4 340.3L734.7 343.5L739.6 344.0L740.4 344.7L743.8 346.9L746.8 347.9L748.2 349.3L751.9 353.9L753.6 355.6L748.2 358.9L751.6 361.3L751.7 363.6L754.1 365.8L755.8 367.3L759.0 365.9L762.2 367.8L763.8 369.8L766.8 370.8L768.2 368.8L769.9 366.3L775.5 365.3L777.1 361.1L778.8 358.2L777.5 355.4L778.5 352.6L778.6 349.9L781.3 348.4L780.5 344.8L781.1 341.0L781.4 338.1L779.9 335.0L781.1 332.5L782.1 331.4L781.3 327.0L783.8 324.1L782.4 322.2L783.7 317.6L782.1 315.8L779.8 312.5L784.1 308.8L782.1 306.1L778.6 303.6L777.7 301.8L778.1 298.0L777.2 295.5L775.2 294.2L774.8 290.9L772.4 289.1L772.2 286.4L770.1 284.0L770.1 279.6L771.2 277.1L766.8 274.4L766.4 272.2L767.2 268.7L763.4 267.7L763.4 263.6L760.8 262.3L761.3 258.0L758.9 255.9L759.5 253.9L757.0 250.5L756.2 249.6L754.7 245.8L756.1 244.0L755.7 240.5L752.4 237.3L751.5 235.2L748.1 233.2L748.1 232.0L749.8 226.1L748.0 224.7L746.0 220.9L745.3 219.1L741.4 217.7L739.6 216.2L740.6 212.2L739.4 209.2L740.6 205.1L737.8 203.1L736.5 201.5L737.6 198.8L735.6 196.5L735.1 192.0L733.7 190.0M728.9 191.1L728.3 195.0L727.1 199.7L727.2 203.3L730.4 206.0L729.6 209.7L728.7 212.9L729.6 215.7L731.2 218.0L730.4 221.2L729.0 224.1L729.4 227.8L730.7 230.8L732.8 233.2L734.4 230.1L730.8 226.3M724.3 247.1L726.6 246.7L727.7 249.0L725.4 249.4ZM729.5 251.3L732.7 252.2L732.3 255.1L730.0 254.0ZM741.0 262.7L743.3 265.4L741.4 267.7L740.3 265.0ZM738.0 271.1L740.3 272.3L738.7 273.2ZM741.4 275.0L744.2 276.4L743.3 279.6L741.0 278.0ZM741.4 292.9L743.7 294.0L744.2 297.0L741.9 296.3ZM749.9 307.7L752.9 303.1L757.9 300.2L762.0 302.0L763.6 307.7L762.5 313.4L759.7 317.3L755.1 315.3L751.7 312.3ZM741.4 244.9L746.0 246.0L749.4 250.6L750.6 252.9L748.3 249.0L744.2 247.1M755.6 250.6L759.7 255.1L763.1 258.6L762.0 254.0L758.6 251.3M699.1 246.0L701.4 250.6L701.4 256.3L699.6 258.6M700.3 276.9L703.7 274.6L706.0 279.1L703.7 283.7L701.4 280.3M716.3 318.0L718.6 324.9L722.0 327.1L723.6 323.7M748.3 353.4L751.7 360.3L755.1 364.9L757.4 363.7L754.0 359.1M757.4 370.6L762.7 372.3L766.9 371.5L771.9 369.6L773.1 365.6L774.5 363.1L774.9 360.2M759.7 374.0L764.3 375.1L770.0 372.4M730.0 388.9L733.6 387.3L737.2 386.0L740.5 385.6L743.3 383.4L748.7 383.2L751.6 381.8L754.9 380.9L758.3 378.5L762.0 375.9L765.4 375.0L768.7 372.4L773.6 369.2M732.3 390.0L736.0 389.7L737.9 387.0L741.0 385.5L744.6 384.3L749.7 385.2L752.4 383.8L755.7 381.7M696.9 389.3L699.1 388.9M805.4 345.4L807.3 350.0L808.9 356.9L811.1 363.7M810.3 336.3L811.1 335.5L811.9 336.3L811.1 337.1ZM814.2 337.0L815.0 336.2L815.8 337.0L815.0 337.8ZM818.3 338.1L819.1 337.3L819.9 338.1L819.1 338.9ZM753.2 372.9L754.0 372.1L754.8 372.9L754.0 373.7ZM750.9 370.6L751.7 369.8L752.5 370.6L751.7 371.4ZM636.7 483.6L640.6 481.3L643.6 480.9L646.4 479.6L651.2 478.9L656.0 477.2L653.3 471.0L653.1 466.0L654.7 463.9L656.6 461.1L660.1 458.8L663.0 457.1L667.1 455.5L669.5 453.2L672.6 451.5L675.2 450.8L679.5 449.4L681.6 447.1L684.8 446.8L687.9 445.9L691.4 444.4L693.9 443.7L697.0 443.6L700.0 444.1L703.0 443.1L706.4 442.3L709.0 439.4L712.2 439.1L715.6 439.6L718.9 437.0L722.2 437.5L724.6 437.5L728.3 437.3L731.1 437.9L734.1 437.5L737.8 437.3L740.8 438.1L742.2 440.5L745.1 438.4L749.4 435.5L753.4 432.8L758.8 433.2L762.2 433.8L764.9 434.6L767.3 438.1L771.3 440.0M636.7 483.6L639.9 482.0L643.1 480.6L645.6 477.6L648.2 478.4L649.8 475.9L655.5 476.6L653.0 474.2L652.0 471.9L654.3 468.8L651.7 465.4L654.3 463.4L657.6 461.0L657.2 458.0L660.0 457.6L662.2 456.1L666.0 455.2L669.6 452.8L672.2 450.8L676.3 452.1L678.3 448.6L681.5 447.1L684.8 447.7L688.3 444.6L690.9 443.9L693.4 442.8L698.3 442.8L699.9 442.8L703.1 442.0L706.6 442.7L710.4 442.9L713.3 441.1L715.1 439.5L718.6 437.5L720.6 437.3L724.7 438.3L727.8 436.9L731.3 437.1L733.7 436.1L737.3 438.0L740.8 437.7L742.7 440.1L745.3 439.5L748.4 438.2L749.7 435.2L750.3 433.6L753.4 432.3L758.5 432.4L760.7 433.3L764.1 434.6L767.3 435.5L769.3 436.6L771.8 439.2M636.7 483.6L638.4 485.5L641.3 483.9L644.7 483.1L649.5 481.7L651.7 486.4L655.0 484.4L658.9 482.1L662.0 481.3L664.9 481.2L667.7 477.0L669.2 474.6L672.6 473.8L675.6 472.9L678.8 471.4L683.4 470.8L687.8 470.1L690.6 466.4L695.6 463.2L698.6 460.4L702.0 456.9L704.2 454.8L710.1 453.6L712.4 453.7L715.4 454.1L719.3 454.5L721.3 453.2L725.2 454.2L728.3 454.0L731.0 453.3L733.8 453.2L737.6 456.3L737.5 460.0L736.5 462.1L730.9 461.0L726.4 463.5L723.8 463.6L726.9 466.5L730.8 468.9L734.0 469.8L737.2 471.4L740.6 471.5L743.4 469.6L747.9 473.3L752.7 471.9L753.0 466.3L755.9 468.9L755.9 473.5L759.5 473.6M636.7 483.6L639.0 483.6L641.7 484.0L644.5 481.1L648.5 481.7L651.0 487.0L654.5 482.4L658.2 481.2L662.5 481.3L665.1 479.9L666.7 475.7L668.6 473.9L672.9 476.0L676.8 473.6L678.5 471.9L682.5 472.7L686.7 471.7L687.3 469.3L691.1 466.0L692.9 463.3L694.1 461.1L698.2 459.5L701.5 457.3L704.5 454.8L706.0 453.5L709.6 452.7L712.6 453.1L716.1 455.5L718.8 455.6L722.2 452.3L725.5 453.9L728.6 453.5L731.4 454.7L734.3 454.6L738.0 456.1L737.6 459.6L735.3 460.2L733.7 460.8L730.0 462.4L727.2 463.0L724.7 464.9L724.8 468.4L727.8 468.5L731.2 469.5L733.1 471.8L737.2 472.0L740.2 469.8L742.1 470.4L745.7 472.4L747.6 472.1L753.3 472.8L754.7 466.1L756.5 469.7L756.8 473.5L759.9 473.6M698.7 480.5L703.3 479.8L707.9 481.3L711.0 484.4L713.3 489.0L711.0 492.9L706.4 495.2L701.8 496.7L696.4 496.0L692.5 492.9L691.3 490.6L694.0 491.3L697.1 492.9L700.2 492.1L697.1 488.2L695.6 484.4L697.1 481.3ZM713.3 489.0L716.1 491.8L721.7 491.2L724.7 490.4L727.9 488.8L730.9 487.2L735.5 488.0L738.8 489.8L744.0 488.5L748.1 486.9M714.9 490.6L720.3 492.3L726.4 490.6L730.3 488.6L734.1 489.2M751.1 488.6L754.2 487.9M756.5 487.5L759.6 487.0M706.4 456.6L708.7 458.2M712.5 461.2L713.3 463.6M716.4 460.5L718.7 462.0M703.3 466.6L704.8 469.7L702.5 472.0M699.4 473.6L701.0 475.9L704.1 476.7L707.9 479.0L710.2 483.6M677.1 479.0L681.7 479.8L686.3 480.2M691.0 483.6L691.7 485.9M733.3 480.8L734.1 480.0L734.9 480.8L734.1 481.6ZM755.7 477.1L756.5 476.3L757.3 477.1L756.5 477.9ZM721.8 494.4L722.6 493.6L723.4 494.4L722.6 495.2ZM718.7 464.3L719.5 463.5L720.3 464.3L719.5 465.1ZM812.2 311.9L820.9 319.5L834.2 315.4L845.1 311.3L844.5 308.8L831.1 313.9L826.6 308.8L824.6 312.9L818.8 315.4ZM829.1 294.0L834.2 296.5L841.4 299.5L849.7 300.6L855.8 302.6L861.0 305.7L866.1 309.8L871.3 311.9L874.3 317.0L873.3 323.2L871.3 328.3L869.2 333.5L869.8 338.6L866.1 335.5L863.0 332.5L867.1 328.3L869.2 322.2L867.8 317.0L864.1 316.0L865.1 322.2L863.0 325.3L861.0 319.1L858.9 313.9L854.8 309.8L849.7 305.7L845.5 304.3L844.5 308.8M836.3 301.6L838.3 303.0M855.8 324.2L857.5 326.9M847.2 341.3L850.7 343.4L853.4 346.9L854.2 351.0L851.7 355.1L848.6 354.5L851.7 351.0L851.3 346.2M806.5 345.8L806.0 351.0L808.5 356.1L811.0 363.3M841.4 359.2L843.9 362.3L846.6 366.4L849.7 372.6L852.7 377.7L855.8 382.9L858.9 389.0L862.0 395.2L863.6 402.4L863.0 409.6L859.9 413.7L856.2 411.7L855.4 405.5L852.7 400.3L849.7 395.2L845.5 390.1L840.4 385.9L835.7 382.9L832.2 381.8L837.3 378.7L839.8 372.6L840.4 365.4L839.4 361.3ZM843.9 376.7L847.6 382.9L851.7 390.1L855.8 397.3L858.9 405.5M839.4 380.8L844.5 385.9L849.7 392.1L853.8 398.3L856.9 406.5M846.6 387.0L851.7 385.9L855.4 391.1M849.7 393.1L855.4 392.7L859.5 397.3M852.7 400.3L857.9 400.3L862.0 403.4M861.0 367.4L865.1 364.8L869.2 363.9L867.8 367.4L863.6 368.9ZM869.2 363.9L874.3 361.3L878.5 357.1L881.5 352.4M880.1 349.9L883.6 347.5L887.1 348.3L886.7 351.0L890.8 353.0L895.9 356.1L900.1 359.2L903.1 362.3L904.2 367.4L902.7 372.6L904.2 377.1L901.1 375.0L898.6 370.5L901.1 367.4L900.7 363.3L897.0 360.2L892.9 357.1L888.7 354.5L885.0 352.0L881.5 352.4ZM883.0 371.5L883.6 376.7L886.7 381.8L890.8 387.0L895.9 392.1L900.1 397.3L904.2 402.4L908.3 407.5L913.4 411.7L919.6 414.7L925.8 416.2L929.9 417.4L921.7 417.4L914.5 417.4L910.3 416.8L913.4 413.7L908.3 410.6M916.5 375.0L919.6 376.7L922.7 381.8L925.8 385.9L929.5 390.1L931.9 392.7L927.8 393.1L924.7 392.1L927.4 390.1L923.7 384.9L920.0 380.4L917.5 377.7ZM910.3 378.7L914.5 379.4M931.9 407.5L934.0 410.6L936.1 414.7L937.1 417.8M937.1 424.0L931.9 425.0L926.8 427.1L921.7 431.2L918.6 436.3L917.5 442.5L919.6 448.7L922.7 454.9L924.7 460.0L925.8 465.1M873.5 399.3L874.3 398.5L875.1 399.3L874.3 400.1ZM876.6 401.4L877.4 400.6L878.2 401.4L877.4 402.2ZM880.7 397.3L881.5 396.5L882.3 397.3L881.5 398.1ZM865.3 409.6L866.1 408.8L866.9 409.6L866.1 410.4ZM868.4 413.7L869.2 412.9L870.0 413.7L869.2 414.5ZM896.2 367.4L897.0 366.6L897.8 367.4L897.0 368.2ZM884.9 362.3L885.7 361.5L886.5 362.3L885.7 363.1ZM666.0 698.0L670.0 704.0L678.0 702.0L686.0 708.0L694.0 716.0L698.0 724.0L694.0 730.0L696.0 740.0L698.8 744.8M668.0 700.0L672.0 707.2L678.8 708.0L682.0 704.0M703.1 730.0L704.0 729.1L704.9 730.0L704.0 730.9ZM709.1 736.0L710.0 735.1L710.9 736.0L710.0 736.9ZM713.1 732.0L714.0 731.1L714.9 732.0L714.0 732.9ZM717.1 728.0L718.0 727.1L718.9 728.0L718.0 728.9ZM707.1 724.0L708.0 723.1L708.9 724.0L708.0 724.9ZM715.1 738.0L716.0 737.1L716.9 738.0L716.0 738.9ZM711.1 720.0L712.0 719.1L712.9 720.0L712.0 720.9ZM719.1 734.0L720.0 733.1L720.9 734.0L720.0 734.9ZM705.1 740.0L706.0 739.1L706.9 740.0L706.0 740.9ZM494.6 701.0L504.2 698.2L508.3 694.1L512.4 691.4L508.3 696.9L504.2 702.3L496.0 703.7ZM393.0 725.1L400.0 731.1L408.2 737.2L415.1 742.9L419.2 746.2M432.4 725.1L435.1 724.0L436.2 727.3L432.9 727.8ZM538.7 720.2L540.9 720.7L540.4 725.1L538.7 723.5ZM453.9 733.9L454.8 733.0L455.7 733.9L454.8 734.8ZM488.2 741.5L489.1 740.6L490.0 741.5L489.1 742.4ZM469.0 736.6L469.9 735.7L470.8 736.6L469.9 737.5Z" fill="none" stroke="#734600" stroke-width="1.3" stroke-linejoin="round" stroke-linecap="round"/>
</g>
<path d="M203.5 99.1 L215.4 100.1 L227.3 101.1 L239.3 102 L251.2 102.9 L263.2 103.8 L275.1 104.7 L287.1 105.5 L299 106.3 L311 107 L323 107.7 L334.9 108.4 L346.9 109 L358.9 109.6 L370.8 110.2 L382.8 110.7 L394.8 111.2 L406.8 111.6 L418.7 112.1 L430.7 112.5 L442.7 112.8 L454.7 113.1 L466.6 113.4 L478.6 113.7 L490.6 113.9 L502.6 114 L514.6 114.2 L526.5 114.3 L538.5 114.4 L550.5 114.4 L562.5 114.4 L574.5 114.4 L586.5 114.3 L598.4 114.2 L610.4 114 L622.4 113.9 L634.4 113.7 L646.4 113.4 L658.3 113.1 L670.3 112.8 L682.3 112.5 L694.3 112.1 L706.2 111.6 L718.2 111.2 L730.2 110.7 L742.2 110.2 L754.1 109.6 L766.1 109 L778.1 108.4 L790 107.7 L802 107 L814 106.3 L825.9 105.5 L837.9 104.7 L849.8 103.8 L861.8 102.9 L873.7 102 L885.7 101.1 L897.6 100.1 L909.5 99.1 L964.3 728.2 L950.5 729.4 L936.7 730.5 L922.9 731.6 L909.1 732.7 L895.3 733.7 L881.5 734.7 L867.7 735.6 L853.9 736.5 L840.1 737.3 L826.2 738.2 L812.4 738.9 L798.6 739.7 L784.8 740.4 L771 741 L757.1 741.6 L743.3 742.2 L729.5 742.7 L715.6 743.2 L701.8 743.7 L688 744.1 L674.1 744.4 L660.3 744.8 L646.5 745 L632.6 745.3 L618.8 745.5 L604.9 745.7 L591.1 745.8 L577.3 745.9 L563.4 745.9 L549.6 745.9 L535.7 745.9 L521.9 745.8 L508.1 745.7 L494.2 745.5 L480.4 745.3 L466.5 745 L452.7 744.8 L438.9 744.4 L425 744.1 L411.2 743.7 L397.4 743.2 L383.5 742.7 L369.7 742.2 L355.9 741.6 L342 741 L328.2 740.4 L314.4 739.7 L300.6 738.9 L286.8 738.2 L272.9 737.3 L259.1 736.5 L245.3 735.6 L231.5 734.7 L217.7 733.7 L203.9 732.7 L190.1 731.6 L176.3 730.5 L162.5 729.4 L148.7 728.2Z" fill="none" stroke="#222" stroke-width="0.4"/>
<path d="M196.3 90.5 L204.1 91.2 L216.1 92.2 L228 93.2 L239.9 94.1 L251.8 95.1 L263.8 95.9 L275.7 96.8 L287.6 97.6 L299.5 98.4 L311.5 99.1 L323.4 99.8 L335.4 100.5 L347.3 101.1 L359.2 101.7 L371.2 102.3 L383.1 102.8 L395.1 103.3 L407 103.8 L419 104.2 L430.9 104.6 L442.9 104.9 L454.9 105.2 L466.8 105.5 L478.8 105.8 L490.7 106 L502.7 106.1 L514.6 106.3 L526.6 106.4 L538.6 106.5 L550.5 106.5 L562.5 106.5 L574.4 106.5 L586.4 106.4 L598.4 106.3 L610.3 106.1 L622.3 106 L634.2 105.8 L646.2 105.5 L658.1 105.2 L670.1 104.9 L682.1 104.6 L694 104.2 L706 103.8 L717.9 103.3 L729.9 102.8 L741.8 102.3 L753.8 101.7 L765.7 101.1 L777.6 100.5 L789.6 99.8 L801.5 99.1 L813.5 98.4 L825.4 97.6 L837.3 96.8 L849.2 95.9 L861.2 95.1 L873.1 94.1 L885 93.2 L896.9 92.2 L908.9 91.2 L916.7 90.5 L972.8 735.4 L965 736.1 L951.2 737.2 L937.3 738.4 L923.5 739.5 L909.7 740.5 L895.9 741.6 L882 742.5 L868.2 743.5 L854.4 744.4 L840.5 745.2 L826.7 746 L812.9 746.8 L799 747.6 L785.2 748.2 L771.3 748.9 L757.5 749.5 L743.6 750.1 L729.8 750.6 L715.9 751.1 L702 751.6 L688.2 752 L674.3 752.3 L660.5 752.7 L646.6 752.9 L632.7 753.2 L618.9 753.4 L605 753.6 L591.2 753.7 L577.3 753.8 L563.4 753.8 L549.6 753.8 L535.7 753.8 L521.8 753.7 L508 753.6 L494.1 753.4 L480.3 753.2 L466.4 752.9 L452.5 752.7 L438.7 752.3 L424.8 752 L411 751.6 L397.1 751.1 L383.2 750.6 L369.4 750.1 L355.5 749.5 L341.7 748.9 L327.8 748.2 L314 747.6 L300.1 746.8 L286.3 746 L272.5 745.2 L258.6 744.4 L244.8 743.5 L231 742.5 L217.1 741.6 L203.3 740.5 L189.5 739.5 L175.7 738.4 L161.8 737.2 L148 736.1 L140.2 735.4Z" fill="none" stroke="#000" stroke-width="0.55"/>
<path d="M203.5 99.1 L196.3 90.5" fill="none" stroke="#000" stroke-width="0.55"/>
<path d="M909.5 99.1 L916.7 90.5" fill="none" stroke="#000" stroke-width="0.55"/>
<path d="M148.7 728.2 L140.2 735.4" fill="none" stroke="#000" stroke-width="0.55"/>
<path d="M964.3 728.2 L972.8 735.4" fill="none" stroke="#000" stroke-width="0.55"/>
<path d="M269.1 104.2 L269.7 96.4" stroke="#000" stroke-width="0.7" fill="none"/>
<path d="M269.4 100.3 L275.9 100.8 L282.4 101.2 L288.9 101.6 L295.5 102.1 L302 102.5 L308.5 102.9 L315 103.3 L321.5 103.7 L328.1 104 L334.6 104.4 L341.1 104.7" stroke="#000" stroke-width="1.1" fill="none"/>
<path d="M340.9 108.7 L341.3 100.8" stroke="#000" stroke-width="0.7" fill="none"/>
<path d="M412.7 111.9 L413 104" stroke="#000" stroke-width="0.7" fill="none"/>
<path d="M412.9 107.9 L419.4 108.1 L425.9 108.4 L432.4 108.6 L439 108.8 L445.5 108.9 L452 109.1 L458.6 109.3 L465.1 109.4 L471.6 109.6 L478.1 109.7 L484.7 109.8" stroke="#000" stroke-width="1.1" fill="none"/>
<path d="M484.6 113.8 L484.7 105.9" stroke="#000" stroke-width="0.7" fill="none"/>
<path d="M556.5 114.4 L556.5 106.5" stroke="#000" stroke-width="0.7" fill="none"/>
<path d="M556.5 110.5 L563 110.4 L569.6 110.4 L576.1 110.4 L582.6 110.4 L589.2 110.3 L595.7 110.3 L602.2 110.2 L608.7 110.1 L615.3 110 L621.8 109.9 L628.3 109.8" stroke="#000" stroke-width="1.1" fill="none"/>
<path d="M628.4 113.8 L628.3 105.9" stroke="#000" stroke-width="0.7" fill="none"/>
<path d="M700.3 111.9 L700 104" stroke="#000" stroke-width="0.7" fill="none"/>
<path d="M700.1 107.9 L706.7 107.7 L713.2 107.4 L719.7 107.2 L726.2 106.9 L732.8 106.6 L739.3 106.3 L745.8 106 L752.3 105.7 L758.9 105.4 L765.4 105.1 L771.9 104.7" stroke="#000" stroke-width="1.1" fill="none"/>
<path d="M772.1 108.7 L771.7 100.8" stroke="#000" stroke-width="0.7" fill="none"/>
<path d="M843.9 104.2 L843.3 96.4" stroke="#000" stroke-width="0.7" fill="none"/>
<path d="M843.6 100.3 L849.6 99.9 L855.5 99.4 L861.5 99 L867.5 98.5 L873.4 98.1 L879.4 97.6 L885.4 97.1 L891.3 96.6 L897.3 96.2 L903.2 95.6 L909.2 95.1" stroke="#000" stroke-width="1.1" fill="none"/>
<path d="M148.4 732.1 L155.3 732.7 L162.2 733.3 L169.1 733.9 L176 734.4 L182.9 735 L189.8 735.5 L196.7 736.1 L203.6 736.6 L210.5 737.1 L217.4 737.6 L224.3 738.1" stroke="#000" stroke-width="1.1" fill="none"/>
<path d="M224.6 734.2 L224 742.1" stroke="#000" stroke-width="0.7" fill="none"/>
<path d="M307.4 739.3 L307 747.2" stroke="#000" stroke-width="0.7" fill="none"/>
<path d="M307.2 743.2 L314.8 743.6 L322.3 744 L329.9 744.4 L337.4 744.7 L345 745.1 L352.5 745.4 L360.1 745.8 L367.6 746.1 L375.2 746.4 L382.7 746.6 L390.3 746.9" stroke="#000" stroke-width="1.1" fill="none"/>
<path d="M390.4 743 L390.1 750.9" stroke="#000" stroke-width="0.7" fill="none"/>
<path d="M473.4 745.2 L473.3 753.1" stroke="#000" stroke-width="0.7" fill="none"/>
<path d="M473.4 749.1 L480.9 749.2 L488.5 749.4 L496 749.5 L503.6 749.6 L511.2 749.6 L518.7 749.7 L526.3 749.8 L533.8 749.8 L541.4 749.8 L548.9 749.8 L556.5 749.8" stroke="#000" stroke-width="1.1" fill="none"/>
<path d="M556.5 745.9 L556.5 753.8" stroke="#000" stroke-width="0.7" fill="none"/>
<path d="M639.6 745.2 L639.7 753.1" stroke="#000" stroke-width="0.7" fill="none"/>
<path d="M639.6 749.1 L647.2 749 L654.7 748.8 L662.3 748.7 L669.8 748.5 L677.4 748.3 L685 748.1 L692.5 747.9 L700.1 747.7 L707.6 747.4 L715.2 747.2 L722.7 746.9" stroke="#000" stroke-width="1.1" fill="none"/>
<path d="M722.6 743 L722.9 750.9" stroke="#000" stroke-width="0.7" fill="none"/>
<path d="M805.6 739.3 L806 747.2" stroke="#000" stroke-width="0.7" fill="none"/>
<path d="M805.8 743.2 L813.3 742.8 L820.9 742.4 L828.4 742 L835.9 741.5 L843.5 741.1 L851 740.6 L858.6 740.1 L866.1 739.7 L873.6 739.2 L881.2 738.6 L888.7 738.1" stroke="#000" stroke-width="1.1" fill="none"/>
<path d="M888.4 734.2 L889 742.1" stroke="#000" stroke-width="0.7" fill="none"/>
<path d="M202.7 108.1 L194.8 107.4" stroke="#000" stroke-width="0.7" fill="none"/>
<path d="M198.7 107.8 L197.2 125.3" stroke="#000" stroke-width="1.1" fill="none"/>
<path d="M201.1 125.7 L193.3 125" stroke="#000" stroke-width="0.7" fill="none"/>
<path d="M195.3 193.1 L187.4 192.4" stroke="#000" stroke-width="0.7" fill="none"/>
<path d="M191.3 192.8 L185.5 260.2" stroke="#000" stroke-width="1.1" fill="none"/>
<path d="M189.4 260.6 L181.5 259.9" stroke="#000" stroke-width="0.7" fill="none"/>
<path d="M183.5 328 L175.7 327.3" stroke="#000" stroke-width="0.7" fill="none"/>
<path d="M179.6 327.7 L173.7 395.1" stroke="#000" stroke-width="1.1" fill="none"/>
<path d="M177.7 395.4 L169.8 394.8" stroke="#000" stroke-width="0.7" fill="none"/>
<path d="M171.8 462.9 L163.9 462.2" stroke="#000" stroke-width="0.7" fill="none"/>
<path d="M167.9 462.5 L162 530" stroke="#000" stroke-width="1.1" fill="none"/>
<path d="M165.9 530.3 L158.1 529.7" stroke="#000" stroke-width="0.7" fill="none"/>
<path d="M160.1 597.8 L152.2 597.1" stroke="#000" stroke-width="0.7" fill="none"/>
<path d="M156.1 597.4 L150.3 664.9" stroke="#000" stroke-width="1.1" fill="none"/>
<path d="M154.2 665.2 L146.3 664.5" stroke="#000" stroke-width="0.7" fill="none"/>
<path d="M151.1 700.6 L143.2 700" stroke="#000" stroke-width="0.7" fill="none"/>
<path d="M147.2 700.3 L144.8 727.8" stroke="#000" stroke-width="1.1" fill="none"/>
<path d="M913.5 98.7 L914.3 107.8" stroke="#000" stroke-width="1.1" fill="none"/>
<path d="M910.3 108.1 L918.2 107.4" stroke="#000" stroke-width="0.7" fill="none"/>
<path d="M911.9 125.7 L919.7 125" stroke="#000" stroke-width="0.7" fill="none"/>
<path d="M915.8 125.3 L921.7 192.8" stroke="#000" stroke-width="1.1" fill="none"/>
<path d="M917.7 193.1 L925.6 192.4" stroke="#000" stroke-width="0.7" fill="none"/>
<path d="M923.6 260.6 L931.5 259.9" stroke="#000" stroke-width="0.7" fill="none"/>
<path d="M927.5 260.2 L933.4 327.7" stroke="#000" stroke-width="1.1" fill="none"/>
<path d="M929.5 328 L937.3 327.3" stroke="#000" stroke-width="0.7" fill="none"/>
<path d="M935.3 395.4 L943.2 394.8" stroke="#000" stroke-width="0.7" fill="none"/>
<path d="M939.3 395.1 L945.1 462.5" stroke="#000" stroke-width="1.1" fill="none"/>
<path d="M941.2 462.9 L949.1 462.2" stroke="#000" stroke-width="0.7" fill="none"/>
<path d="M947.1 530.3 L954.9 529.7" stroke="#000" stroke-width="0.7" fill="none"/>
<path d="M951 530 L956.9 597.4" stroke="#000" stroke-width="1.1" fill="none"/>
<path d="M952.9 597.8 L960.8 597.1" stroke="#000" stroke-width="0.7" fill="none"/>
<path d="M958.8 665.2 L966.7 664.5" stroke="#000" stroke-width="0.7" fill="none"/>
<path d="M962.7 664.9 L965.8 700.3" stroke="#000" stroke-width="1.1" fill="none"/>
<path d="M961.9 700.6 L969.8 700" stroke="#000" stroke-width="0.7" fill="none"/>
<path d="M196.3 90.5 L197 82" stroke="#000" stroke-width="0.7" fill="none"/>
<path d="M140.2 735.4 L140.9 743.8" stroke="#000" stroke-width="0.7" fill="none"/>
<path d="M340.9 108.7 L341.8 92.3" stroke="#000" stroke-width="0.7" fill="none"/>
<path d="M307.4 739.3 L306.6 755.7" stroke="#000" stroke-width="0.7" fill="none"/>
<path d="M484.6 113.8 L484.9 97.4" stroke="#000" stroke-width="0.7" fill="none"/>
<path d="M473.4 745.2 L473.2 761.6" stroke="#000" stroke-width="0.7" fill="none"/>
<path d="M628.4 113.8 L628.1 97.4" stroke="#000" stroke-width="0.7" fill="none"/>
<path d="M639.6 745.2 L639.8 761.6" stroke="#000" stroke-width="0.7" fill="none"/>
<path d="M772.1 108.7 L771.2 92.3" stroke="#000" stroke-width="0.7" fill="none"/>
<path d="M805.6 739.3 L806.4 755.7" stroke="#000" stroke-width="0.7" fill="none"/>
<path d="M916.7 90.5 L916 82" stroke="#000" stroke-width="0.7" fill="none"/>
<path d="M972.8 735.4 L972.1 743.8" stroke="#000" stroke-width="0.7" fill="none"/>
<path d="M201.1 125.7 L183.8 124.2" stroke="#000" stroke-width="0.7" fill="none"/>
<path d="M911.9 125.7 L929.2 124.2" stroke="#000" stroke-width="0.7" fill="none"/>
<path d="M189.4 260.6 L172.1 259" stroke="#000" stroke-width="0.7" fill="none"/>
<path d="M923.6 260.6 L940.9 259" stroke="#000" stroke-width="0.7" fill="none"/>
<path d="M177.7 395.4 L160.3 393.9" stroke="#000" stroke-width="0.7" fill="none"/>
<path d="M935.3 395.4 L952.7 393.9" stroke="#000" stroke-width="0.7" fill="none"/>
<path d="M165.9 530.3 L148.6 528.8" stroke="#000" stroke-width="0.7" fill="none"/>
<path d="M947.1 530.3 L964.4 528.8" stroke="#000" stroke-width="0.7" fill="none"/>
<path d="M154.2 665.2 L136.9 663.7" stroke="#000" stroke-width="0.7" fill="none"/>
<path d="M958.8 665.2 L976.1 663.7" stroke="#000" stroke-width="0.7" fill="none"/>
<g font-family="Liberation Sans, sans-serif"><text transform="translate(139.4 765.1) rotate(5) scale(1.045 1)" text-anchor="middle" font-size="22" fill="#000">100°W</text>
<text transform="translate(307.4 776.3) rotate(3) scale(1.045 1)" text-anchor="middle" font-size="22" fill="#000">95°W</text>
<text transform="translate(474.7 782.3) rotate(1) scale(1.045 1)" text-anchor="middle" font-size="22" fill="#000">90°W</text>
<text transform="translate(642.1 782.3) rotate(-1) scale(1.045 1)" text-anchor="middle" font-size="22" fill="#000">85°W</text>
<text transform="translate(809.4 776.3) rotate(-3) scale(1.045 1)" text-anchor="middle" font-size="22" fill="#000">80°W</text>
<text transform="translate(977.4 765.1) rotate(-5) scale(1.045 1)" text-anchor="middle" font-size="22" fill="#000">75°W</text>
<text transform="translate(177.2 125.7) rotate(5) scale(1.045 1)" text-anchor="end" font-size="22" fill="#000" dy="6.2">32°N</text>
<text transform="translate(165.5 260.6) rotate(5) scale(1.045 1)" text-anchor="end" font-size="22" fill="#000" dy="6.2">28°N</text>
<text transform="translate(153.8 395.4) rotate(5) scale(1.045 1)" text-anchor="end" font-size="22" fill="#000" dy="6.2">24°N</text>
<text transform="translate(142 530.3) rotate(5) scale(1.045 1)" text-anchor="end" font-size="22" fill="#000" dy="6.2">20°N</text>
<text transform="translate(130.3 665.2) rotate(5) scale(1.045 1)" text-anchor="end" font-size="22" fill="#000" dy="6.2">16°N</text></g>
<rect x="989.2" y="89.6" width="34.59999999999991" height="664.4" fill="url(#jetg)"/>
<path d="M989.2 89.6V754.0M1023.8 89.6V754.0" stroke="#262626" stroke-width="1.1" fill="none"/>
<path d="M989.2 89.6H1023.8M989.2 754.0H1023.8" stroke="#262626" stroke-width="0.6" fill="none"/>
<text transform="translate(1031.5 96) scale(1.1 1)" font-size="19" fill="#262626" font-family="Liberation Sans, sans-serif">400</text>
<path d="M1016.3 156H1023.8" stroke="#262626" stroke-width="0.9"/>
<text transform="translate(1031.5 162.4) scale(1.1 1)" font-size="19" fill="#262626" font-family="Liberation Sans, sans-serif">350</text>
<path d="M1016.3 222.5H1023.8" stroke="#262626" stroke-width="0.9"/>
<text transform="translate(1031.5 228.9) scale(1.1 1)" font-size="19" fill="#262626" font-family="Liberation Sans, sans-serif">300</text>
<path d="M1016.3 288.9H1023.8" stroke="#262626" stroke-width="0.9"/>
<text transform="translate(1031.5 295.3) scale(1.1 1)" font-size="19" fill="#262626" font-family="Liberation Sans, sans-serif">250</text>
<path d="M1016.3 355.4H1023.8" stroke="#262626" stroke-width="0.9"/>
<text transform="translate(1031.5 361.8) scale(1.1 1)" font-size="19" fill="#262626" font-family="Liberation Sans, sans-serif">200</text>
<path d="M1016.3 421.8H1023.8" stroke="#262626" stroke-width="0.9"/>
<text transform="translate(1031.5 428.2) scale(1.1 1)" font-size="19" fill="#262626" font-family="Liberation Sans, sans-serif">150</text>
<path d="M1016.3 488.2H1023.8" stroke="#262626" stroke-width="0.9"/>
<text transform="translate(1031.5 494.6) scale(1.1 1)" font-size="19" fill="#262626" font-family="Liberation Sans, sans-serif">100</text>
<path d="M1016.3 554.7H1023.8" stroke="#262626" stroke-width="0.9"/>
<text transform="translate(1031.5 561.1) scale(1.1 1)" font-size="19" fill="#262626" font-family="Liberation Sans, sans-serif">50</text>
<path d="M1016.3 621.1H1023.8" stroke="#262626" stroke-width="0.9"/>
<text transform="translate(1031.5 627.5) scale(1.1 1)" font-size="19" fill="#262626" font-family="Liberation Sans, sans-serif">0</text>
<path d="M1016.3 687.6H1023.8" stroke="#262626" stroke-width="0.9"/>
<text transform="translate(1031.5 694) scale(1.1 1)" font-size="19" fill="#262626" font-family="Liberation Sans, sans-serif">-50</text>
<text transform="translate(1031.5 760.4) scale(1.1 1)" font-size="19" fill="#262626" font-family="Liberation Sans, sans-serif">-100</text>
</svg>
</body></html>
